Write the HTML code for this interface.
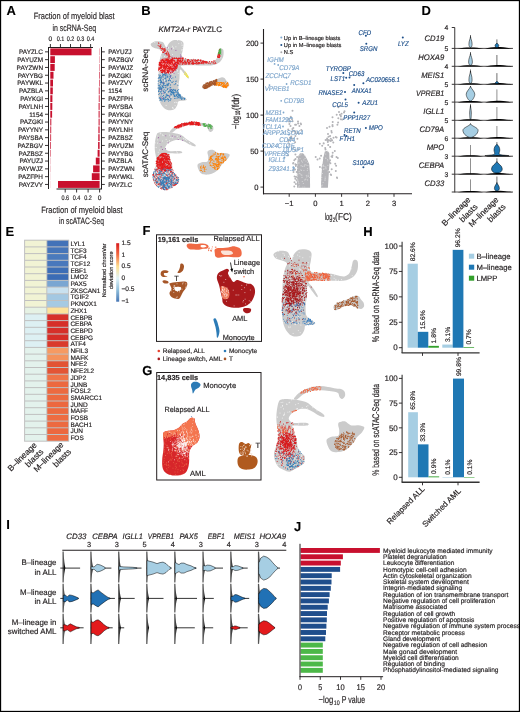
<!DOCTYPE html>
<html><head><meta charset="utf-8"><style>
html,body{margin:0;padding:0;background:#fff;}
body{width:520px;height:712px;overflow:hidden;position:relative;}
svg{position:absolute;left:0;top:0;display:block;will-change:transform;}
text{font-family:"Liberation Sans", sans-serif;text-rendering:geometricPrecision;}
</style></head><body>
<svg width="520" height="712" viewBox="0 0 520 712" font-family='"Liberation Sans", sans-serif' fill="#231f20">
<rect x="0" y="0" width="520" height="712" fill="#fff"/>
<text x="6.50" y="14.90" font-size="13" stroke="#000" stroke-width="0.1" fill="#000" font-weight="bold">A</text>
<text x="74.20" y="19.40" font-size="9.2" text-anchor="middle" textLength="81.00" lengthAdjust="spacingAndGlyphs" stroke="#231f20" stroke-width="0.15">Fraction of myeloid blast</text>
<text x="74.30" y="31.00" font-size="9.2" text-anchor="middle" textLength="43.70" lengthAdjust="spacingAndGlyphs" stroke="#231f20" stroke-width="0.15">in scRNA-Seq</text>
<text x="50.40" y="41.40" font-size="6.6" stroke="#231f20" stroke-width="0.17" text-anchor="middle">0</text>
<line x1="50.40" y1="44.00" x2="50.40" y2="47.50" stroke="#231f20" stroke-width="0.9"/>
<text x="60.45" y="41.40" font-size="6.6" stroke="#231f20" stroke-width="0.17" text-anchor="middle" textLength="7.60" lengthAdjust="spacingAndGlyphs">0.1</text>
<line x1="60.45" y1="44.00" x2="60.45" y2="47.50" stroke="#231f20" stroke-width="0.9"/>
<text x="70.50" y="41.40" font-size="6.6" stroke="#231f20" stroke-width="0.17" text-anchor="middle" textLength="7.60" lengthAdjust="spacingAndGlyphs">0.2</text>
<line x1="70.50" y1="44.00" x2="70.50" y2="47.50" stroke="#231f20" stroke-width="0.9"/>
<text x="80.55" y="41.40" font-size="6.6" stroke="#231f20" stroke-width="0.17" text-anchor="middle" textLength="7.60" lengthAdjust="spacingAndGlyphs">0.3</text>
<line x1="80.55" y1="44.00" x2="80.55" y2="47.50" stroke="#231f20" stroke-width="0.9"/>
<text x="90.60" y="41.40" font-size="6.6" stroke="#231f20" stroke-width="0.17" text-anchor="middle" textLength="7.60" lengthAdjust="spacingAndGlyphs">0.4</text>
<line x1="90.60" y1="44.00" x2="90.60" y2="47.50" stroke="#231f20" stroke-width="0.9"/>
<line x1="48.50" y1="47.50" x2="93.00" y2="47.50" stroke="#231f20" stroke-width="1"/>
<line x1="48.50" y1="47.00" x2="48.50" y2="189.00" stroke="#231f20" stroke-width="1"/>
<text x="43.00" y="54.10" font-size="6.4" stroke="#231f20" stroke-width="0.17" text-anchor="end">PAYZLC</text>
<line x1="45.00" y1="51.85" x2="48.50" y2="51.85" stroke="#231f20" stroke-width="0.9"/>
<rect x="50.30" y="48.40" width="41.20" height="6.90" fill="#c8102e"/>
<text x="43.00" y="61.90" font-size="6.4" stroke="#231f20" stroke-width="0.17" text-anchor="end">PAYUZM</text>
<line x1="45.00" y1="59.65" x2="48.50" y2="59.65" stroke="#231f20" stroke-width="0.9"/>
<rect x="50.30" y="56.20" width="4.60" height="6.90" fill="#c8102e"/>
<text x="43.00" y="69.70" font-size="6.4" stroke="#231f20" stroke-width="0.17" text-anchor="end">PAYZWN</text>
<line x1="45.00" y1="67.45" x2="48.50" y2="67.45" stroke="#231f20" stroke-width="0.9"/>
<rect x="50.30" y="64.00" width="4.40" height="6.90" fill="#c8102e"/>
<text x="43.00" y="77.50" font-size="6.4" stroke="#231f20" stroke-width="0.17" text-anchor="end">PAYYBG</text>
<line x1="45.00" y1="75.25" x2="48.50" y2="75.25" stroke="#231f20" stroke-width="0.9"/>
<rect x="50.30" y="71.80" width="3.20" height="6.90" fill="#c8102e"/>
<text x="43.00" y="85.30" font-size="6.4" stroke="#231f20" stroke-width="0.17" text-anchor="end">PAYWKL</text>
<line x1="45.00" y1="83.05" x2="48.50" y2="83.05" stroke="#231f20" stroke-width="0.9"/>
<rect x="50.30" y="79.60" width="2.70" height="6.90" fill="#c8102e"/>
<text x="43.00" y="93.10" font-size="6.4" stroke="#231f20" stroke-width="0.17" text-anchor="end">PAZBLA</text>
<line x1="45.00" y1="90.85" x2="48.50" y2="90.85" stroke="#231f20" stroke-width="0.9"/>
<rect x="50.30" y="87.40" width="2.50" height="6.90" fill="#c8102e"/>
<text x="43.00" y="100.90" font-size="6.4" stroke="#231f20" stroke-width="0.17" text-anchor="end">PAYKGI</text>
<line x1="45.00" y1="98.65" x2="48.50" y2="98.65" stroke="#231f20" stroke-width="0.9"/>
<rect x="50.30" y="95.20" width="2.10" height="6.90" fill="#c8102e"/>
<text x="43.00" y="108.70" font-size="6.4" stroke="#231f20" stroke-width="0.17" text-anchor="end">PAYLNH</text>
<line x1="45.00" y1="106.45" x2="48.50" y2="106.45" stroke="#231f20" stroke-width="0.9"/>
<rect x="50.30" y="103.00" width="2.00" height="6.90" fill="#c8102e"/>
<text x="43.00" y="116.50" font-size="6.4" stroke="#231f20" stroke-width="0.17" text-anchor="end">1154</text>
<line x1="45.00" y1="114.25" x2="48.50" y2="114.25" stroke="#231f20" stroke-width="0.9"/>
<rect x="50.30" y="110.80" width="1.80" height="6.90" fill="#c8102e"/>
<text x="43.00" y="124.30" font-size="6.4" stroke="#231f20" stroke-width="0.17" text-anchor="end">PAZGKI</text>
<line x1="45.00" y1="122.05" x2="48.50" y2="122.05" stroke="#231f20" stroke-width="0.9"/>
<rect x="50.30" y="118.60" width="1.00" height="6.90" fill="#c8102e"/>
<text x="43.00" y="132.10" font-size="6.4" stroke="#231f20" stroke-width="0.17" text-anchor="end">PAYYNY</text>
<line x1="45.00" y1="129.85" x2="48.50" y2="129.85" stroke="#231f20" stroke-width="0.9"/>
<rect x="50.30" y="126.40" width="0.90" height="6.90" fill="#c8102e"/>
<text x="43.00" y="139.90" font-size="6.4" stroke="#231f20" stroke-width="0.17" text-anchor="end">PAYSBA</text>
<line x1="45.00" y1="137.65" x2="48.50" y2="137.65" stroke="#231f20" stroke-width="0.9"/>
<rect x="50.30" y="134.20" width="0.80" height="6.90" fill="#c8102e"/>
<text x="43.00" y="147.70" font-size="6.4" stroke="#231f20" stroke-width="0.17" text-anchor="end">PAZBGV</text>
<line x1="45.00" y1="145.45" x2="48.50" y2="145.45" stroke="#231f20" stroke-width="0.9"/>
<rect x="50.30" y="142.00" width="0.70" height="6.90" fill="#c8102e"/>
<text x="43.00" y="155.50" font-size="6.4" stroke="#231f20" stroke-width="0.17" text-anchor="end">PAZBSZ</text>
<line x1="45.00" y1="153.25" x2="48.50" y2="153.25" stroke="#231f20" stroke-width="0.9"/>
<rect x="50.30" y="149.80" width="0.50" height="6.90" fill="#c8102e"/>
<text x="43.00" y="163.30" font-size="6.4" stroke="#231f20" stroke-width="0.17" text-anchor="end">PAYUZJ</text>
<line x1="45.00" y1="161.05" x2="48.50" y2="161.05" stroke="#231f20" stroke-width="0.9"/>
<rect x="50.30" y="157.60" width="0.20" height="6.90" fill="#c8102e"/>
<text x="43.00" y="171.10" font-size="6.4" stroke="#231f20" stroke-width="0.17" text-anchor="end">PAYWJZ</text>
<line x1="45.00" y1="168.85" x2="48.50" y2="168.85" stroke="#231f20" stroke-width="0.9"/>
<rect x="50.30" y="165.40" width="0.20" height="6.90" fill="#c8102e"/>
<text x="43.00" y="178.90" font-size="6.4" stroke="#231f20" stroke-width="0.17" text-anchor="end">PAZFPH</text>
<line x1="45.00" y1="176.65" x2="48.50" y2="176.65" stroke="#231f20" stroke-width="0.9"/>
<rect x="50.30" y="173.20" width="0.10" height="6.90" fill="#c8102e"/>
<text x="43.00" y="186.70" font-size="6.4" stroke="#231f20" stroke-width="0.17" text-anchor="end">PAYZVY</text>
<line x1="45.00" y1="184.45" x2="48.50" y2="184.45" stroke="#231f20" stroke-width="0.9"/>
<rect x="50.30" y="181.00" width="0.10" height="6.90" fill="#c8102e"/>
<line x1="101.50" y1="47.00" x2="101.50" y2="189.00" stroke="#231f20" stroke-width="1"/>
<line x1="56.50" y1="189.00" x2="102.00" y2="189.00" stroke="#231f20" stroke-width="1"/>
<line x1="65.20" y1="189.00" x2="65.20" y2="192.50" stroke="#231f20" stroke-width="0.9"/>
<text x="65.20" y="200.40" font-size="6.6" stroke="#231f20" stroke-width="0.17" text-anchor="middle" textLength="7.60" lengthAdjust="spacingAndGlyphs">0.6</text>
<line x1="76.60" y1="189.00" x2="76.60" y2="192.50" stroke="#231f20" stroke-width="0.9"/>
<text x="76.60" y="200.40" font-size="6.6" stroke="#231f20" stroke-width="0.17" text-anchor="middle" textLength="7.60" lengthAdjust="spacingAndGlyphs">0.4</text>
<line x1="88.10" y1="189.00" x2="88.10" y2="192.50" stroke="#231f20" stroke-width="0.9"/>
<text x="88.10" y="200.40" font-size="6.6" stroke="#231f20" stroke-width="0.17" text-anchor="middle" textLength="7.60" lengthAdjust="spacingAndGlyphs">0.2</text>
<line x1="99.60" y1="189.00" x2="99.60" y2="192.50" stroke="#231f20" stroke-width="0.9"/>
<text x="99.60" y="200.40" font-size="6.6" stroke="#231f20" stroke-width="0.17" text-anchor="middle">0</text>
<text x="108.20" y="54.10" font-size="6.4" stroke="#231f20" stroke-width="0.17">PAYUZJ</text>
<line x1="101.50" y1="51.85" x2="104.80" y2="51.85" stroke="#231f20" stroke-width="0.9"/>
<rect x="99.30" y="48.40" width="0.30" height="6.90" fill="#c8102e"/>
<text x="108.20" y="61.90" font-size="6.4" stroke="#231f20" stroke-width="0.17">PAZBGV</text>
<line x1="101.50" y1="59.65" x2="104.80" y2="59.65" stroke="#231f20" stroke-width="0.9"/>
<rect x="99.30" y="56.20" width="0.30" height="6.90" fill="#c8102e"/>
<text x="108.20" y="69.70" font-size="6.4" stroke="#231f20" stroke-width="0.17">PAYWJZ</text>
<line x1="101.50" y1="67.45" x2="104.80" y2="67.45" stroke="#231f20" stroke-width="0.9"/>
<rect x="99.20" y="64.00" width="0.40" height="6.90" fill="#c8102e"/>
<text x="108.20" y="77.50" font-size="6.4" stroke="#231f20" stroke-width="0.17">PAZGKI</text>
<line x1="101.50" y1="75.25" x2="104.80" y2="75.25" stroke="#231f20" stroke-width="0.9"/>
<rect x="99.00" y="71.80" width="0.60" height="6.90" fill="#c8102e"/>
<text x="108.20" y="85.30" font-size="6.4" stroke="#231f20" stroke-width="0.17">PAYZVY</text>
<line x1="101.50" y1="83.05" x2="104.80" y2="83.05" stroke="#231f20" stroke-width="0.9"/>
<rect x="99.00" y="79.60" width="0.60" height="6.90" fill="#c8102e"/>
<text x="108.20" y="93.10" font-size="6.4" stroke="#231f20" stroke-width="0.17">1154</text>
<line x1="101.50" y1="90.85" x2="104.80" y2="90.85" stroke="#231f20" stroke-width="0.9"/>
<rect x="98.80" y="87.40" width="0.80" height="6.90" fill="#c8102e"/>
<text x="108.20" y="100.90" font-size="6.4" stroke="#231f20" stroke-width="0.17">PAZFPH</text>
<line x1="101.50" y1="98.65" x2="104.80" y2="98.65" stroke="#231f20" stroke-width="0.9"/>
<rect x="98.80" y="95.20" width="0.80" height="6.90" fill="#c8102e"/>
<text x="108.20" y="108.70" font-size="6.4" stroke="#231f20" stroke-width="0.17">PAYSBA</text>
<line x1="101.50" y1="106.45" x2="104.80" y2="106.45" stroke="#231f20" stroke-width="0.9"/>
<rect x="98.60" y="103.00" width="1.00" height="6.90" fill="#c8102e"/>
<text x="108.20" y="116.50" font-size="6.4" stroke="#231f20" stroke-width="0.17">PAYKGI</text>
<line x1="101.50" y1="114.25" x2="104.80" y2="114.25" stroke="#231f20" stroke-width="0.9"/>
<rect x="98.60" y="110.80" width="1.00" height="6.90" fill="#c8102e"/>
<text x="108.20" y="124.30" font-size="6.4" stroke="#231f20" stroke-width="0.17">PAYYNY</text>
<line x1="101.50" y1="122.05" x2="104.80" y2="122.05" stroke="#231f20" stroke-width="0.9"/>
<rect x="98.60" y="118.60" width="1.00" height="6.90" fill="#c8102e"/>
<text x="108.20" y="132.10" font-size="6.4" stroke="#231f20" stroke-width="0.17">PAYLNH</text>
<line x1="101.50" y1="129.85" x2="104.80" y2="129.85" stroke="#231f20" stroke-width="0.9"/>
<rect x="98.40" y="126.40" width="1.20" height="6.90" fill="#c8102e"/>
<text x="108.20" y="139.90" font-size="6.4" stroke="#231f20" stroke-width="0.17">PAZBSZ</text>
<line x1="101.50" y1="137.65" x2="104.80" y2="137.65" stroke="#231f20" stroke-width="0.9"/>
<rect x="98.30" y="134.20" width="1.30" height="6.90" fill="#c8102e"/>
<text x="108.20" y="147.70" font-size="6.4" stroke="#231f20" stroke-width="0.17">PAYUZM</text>
<line x1="101.50" y1="145.45" x2="104.80" y2="145.45" stroke="#231f20" stroke-width="0.9"/>
<rect x="98.10" y="142.00" width="1.50" height="6.90" fill="#c8102e"/>
<text x="108.20" y="155.50" font-size="6.4" stroke="#231f20" stroke-width="0.17">PAYYBG</text>
<line x1="101.50" y1="153.25" x2="104.80" y2="153.25" stroke="#231f20" stroke-width="0.9"/>
<rect x="97.60" y="149.80" width="2.00" height="6.90" fill="#c8102e"/>
<text x="108.20" y="163.30" font-size="6.4" stroke="#231f20" stroke-width="0.17">PAZBLA</text>
<line x1="101.50" y1="161.05" x2="104.80" y2="161.05" stroke="#231f20" stroke-width="0.9"/>
<rect x="95.80" y="157.60" width="3.80" height="6.90" fill="#c8102e"/>
<text x="108.20" y="171.10" font-size="6.4" stroke="#231f20" stroke-width="0.17">PAYZWN</text>
<line x1="101.50" y1="168.85" x2="104.80" y2="168.85" stroke="#231f20" stroke-width="0.9"/>
<rect x="93.10" y="165.40" width="6.50" height="6.90" fill="#c8102e"/>
<text x="108.20" y="178.90" font-size="6.4" stroke="#231f20" stroke-width="0.17">PAYWKL</text>
<line x1="101.50" y1="176.65" x2="104.80" y2="176.65" stroke="#231f20" stroke-width="0.9"/>
<rect x="91.80" y="173.20" width="7.80" height="6.90" fill="#c8102e"/>
<text x="108.20" y="186.70" font-size="6.4" stroke="#231f20" stroke-width="0.17">PAYZLC</text>
<line x1="101.50" y1="184.45" x2="104.80" y2="184.45" stroke="#231f20" stroke-width="0.9"/>
<rect x="58.00" y="181.00" width="41.60" height="6.90" fill="#c8102e"/>
<text x="81.90" y="213.00" font-size="9.2" text-anchor="middle" textLength="81.40" lengthAdjust="spacingAndGlyphs" stroke="#231f20" stroke-width="0.15">Fraction of myeloid blast</text>
<text x="81.50" y="224.20" font-size="9.2" text-anchor="middle" textLength="45.00" lengthAdjust="spacingAndGlyphs" stroke="#231f20" stroke-width="0.15">in scATAC-Seq</text>
<text x="5.50" y="236.40" font-size="13" stroke="#000" stroke-width="0.1" fill="#000" font-weight="bold">E</text>
<rect x="24.10" y="239.70" width="45.10" height="202.00" fill="#c0c0c0"/>
<rect x="25.10" y="240.70" width="21.20" height="5.70" fill="#f1f3d4"/>
<rect x="47.30" y="240.70" width="20.90" height="5.70" fill="#4272b8"/>
<text x="70.40" y="245.85" font-size="6.5" stroke="#231f20" stroke-width="0.17">LYL1</text>
<rect x="25.10" y="247.40" width="21.20" height="5.70" fill="#f1f3d4"/>
<rect x="47.30" y="247.40" width="20.90" height="5.70" fill="#4575b9"/>
<text x="70.40" y="252.55" font-size="6.5" stroke="#231f20" stroke-width="0.17">TCF3</text>
<rect x="25.10" y="254.10" width="21.20" height="5.70" fill="#f1f3d4"/>
<rect x="47.30" y="254.10" width="20.90" height="5.70" fill="#4a7abc"/>
<text x="70.40" y="259.25" font-size="6.5" stroke="#231f20" stroke-width="0.17">TCF4</text>
<rect x="25.10" y="260.80" width="21.20" height="5.70" fill="#f1f3d4"/>
<rect x="47.30" y="260.80" width="20.90" height="5.70" fill="#4978bc"/>
<text x="70.40" y="265.95" font-size="6.5" stroke="#231f20" stroke-width="0.17">TCF12</text>
<rect x="25.10" y="267.50" width="21.20" height="5.70" fill="#f1f3d4"/>
<rect x="47.30" y="267.50" width="20.90" height="5.70" fill="#3d6eb6"/>
<text x="70.40" y="272.65" font-size="6.5" stroke="#231f20" stroke-width="0.17">EBF1</text>
<rect x="25.10" y="274.20" width="21.20" height="5.70" fill="#f1f3d4"/>
<rect x="47.30" y="274.20" width="20.90" height="5.70" fill="#3b6cb5"/>
<text x="70.40" y="279.35" font-size="6.5" stroke="#231f20" stroke-width="0.17">LMO2</text>
<rect x="25.10" y="280.90" width="21.20" height="5.70" fill="#f1f3d4"/>
<rect x="47.30" y="280.90" width="20.90" height="5.70" fill="#7aa6d2"/>
<text x="70.40" y="286.05" font-size="6.5" stroke="#231f20" stroke-width="0.17">PAX5</text>
<rect x="25.10" y="287.60" width="21.20" height="5.70" fill="#f1f3d4"/>
<rect x="47.30" y="287.60" width="20.90" height="5.70" fill="#c9e1ef"/>
<text x="70.40" y="292.75" font-size="6.5" stroke="#231f20" stroke-width="0.17">ZKSCAN1</text>
<rect x="25.10" y="294.30" width="21.20" height="5.70" fill="#f1f3d4"/>
<rect x="47.30" y="294.30" width="20.90" height="5.70" fill="#a3c8e2"/>
<text x="70.40" y="299.45" font-size="6.5" stroke="#231f20" stroke-width="0.17">TGIF2</text>
<rect x="25.10" y="301.00" width="21.20" height="5.70" fill="#f1f3d4"/>
<rect x="47.30" y="301.00" width="20.90" height="5.70" fill="#a6cae3"/>
<text x="70.40" y="306.15" font-size="6.5" stroke="#231f20" stroke-width="0.17">PKNOX1</text>
<rect x="25.10" y="307.70" width="21.20" height="5.70" fill="#e6f2e4"/>
<rect x="47.30" y="307.70" width="20.90" height="5.70" fill="#fde29a"/>
<text x="70.40" y="312.85" font-size="6.5" stroke="#231f20" stroke-width="0.17">ZHX1</text>
<rect x="25.10" y="314.40" width="21.20" height="5.70" fill="#ddf0f3"/>
<rect x="47.30" y="314.40" width="20.90" height="5.70" fill="#d7302a"/>
<text x="70.40" y="319.55" font-size="6.5" stroke="#231f20" stroke-width="0.17">CEBPB</text>
<rect x="25.10" y="321.10" width="21.20" height="5.70" fill="#ddf0f3"/>
<rect x="47.30" y="321.10" width="20.90" height="5.70" fill="#d62f29"/>
<text x="70.40" y="326.25" font-size="6.5" stroke="#231f20" stroke-width="0.17">CEBPA</text>
<rect x="25.10" y="327.80" width="21.20" height="5.70" fill="#ddf0f3"/>
<rect x="47.30" y="327.80" width="20.90" height="5.70" fill="#d6302a"/>
<text x="70.40" y="332.95" font-size="6.5" stroke="#231f20" stroke-width="0.17">CEBPD</text>
<rect x="25.10" y="334.50" width="21.20" height="5.70" fill="#ddf0f3"/>
<rect x="47.30" y="334.50" width="20.90" height="5.70" fill="#d62e28"/>
<text x="70.40" y="339.65" font-size="6.5" stroke="#231f20" stroke-width="0.17">CEBPG</text>
<rect x="25.10" y="341.20" width="21.20" height="5.70" fill="#ddf0f3"/>
<rect x="47.30" y="341.20" width="20.90" height="5.70" fill="#d93a2c"/>
<text x="70.40" y="346.35" font-size="6.5" stroke="#231f20" stroke-width="0.17">ATF4</text>
<rect x="25.10" y="347.90" width="21.20" height="5.70" fill="#e3f2ec"/>
<rect x="47.30" y="347.90" width="20.90" height="5.70" fill="#f69a62"/>
<text x="70.40" y="353.05" font-size="6.5" stroke="#231f20" stroke-width="0.17">NFIL3</text>
<rect x="25.10" y="354.60" width="21.20" height="5.70" fill="#e3f2ec"/>
<rect x="47.30" y="354.60" width="20.90" height="5.70" fill="#f4925c"/>
<text x="70.40" y="359.75" font-size="6.5" stroke="#231f20" stroke-width="0.17">MAFK</text>
<rect x="25.10" y="361.30" width="21.20" height="5.70" fill="#e3f2ec"/>
<rect x="47.30" y="361.30" width="20.90" height="5.70" fill="#e25334"/>
<text x="70.40" y="366.45" font-size="6.5" stroke="#231f20" stroke-width="0.17">NFE2</text>
<rect x="25.10" y="368.00" width="21.20" height="5.70" fill="#e3f2ec"/>
<rect x="47.30" y="368.00" width="20.90" height="5.70" fill="#e35535"/>
<text x="70.40" y="373.15" font-size="6.5" stroke="#231f20" stroke-width="0.17">NFE2L2</text>
<rect x="25.10" y="374.70" width="21.20" height="5.70" fill="#e3f2ec"/>
<rect x="47.30" y="374.70" width="20.90" height="5.70" fill="#ef7448"/>
<text x="70.40" y="379.85" font-size="6.5" stroke="#231f20" stroke-width="0.17">JDP2</text>
<rect x="25.10" y="381.40" width="21.20" height="5.70" fill="#e3f2ec"/>
<rect x="47.30" y="381.40" width="20.90" height="5.70" fill="#ec683f"/>
<text x="70.40" y="386.55" font-size="6.5" stroke="#231f20" stroke-width="0.17">JUNB</text>
<rect x="25.10" y="388.10" width="21.20" height="5.70" fill="#e3f2ec"/>
<rect x="47.30" y="388.10" width="20.90" height="5.70" fill="#ec6a40"/>
<text x="70.40" y="393.25" font-size="6.5" stroke="#231f20" stroke-width="0.17">FOSL2</text>
<rect x="25.10" y="394.80" width="21.20" height="5.70" fill="#e3f2ec"/>
<rect x="47.30" y="394.80" width="20.90" height="5.70" fill="#ec6a40"/>
<text x="70.40" y="399.95" font-size="6.5" stroke="#231f20" stroke-width="0.17">SMARCC1</text>
<rect x="25.10" y="401.50" width="21.20" height="5.70" fill="#e3f2ec"/>
<rect x="47.30" y="401.50" width="20.90" height="5.70" fill="#ec683f"/>
<text x="70.40" y="406.65" font-size="6.5" stroke="#231f20" stroke-width="0.17">JUND</text>
<rect x="25.10" y="408.20" width="21.20" height="5.70" fill="#e3f2ec"/>
<rect x="47.30" y="408.20" width="20.90" height="5.70" fill="#ec6a40"/>
<text x="70.40" y="413.35" font-size="6.5" stroke="#231f20" stroke-width="0.17">MAFF</text>
<rect x="25.10" y="414.90" width="21.20" height="5.70" fill="#e3f2ec"/>
<rect x="47.30" y="414.90" width="20.90" height="5.70" fill="#ed6c42"/>
<text x="70.40" y="420.05" font-size="6.5" stroke="#231f20" stroke-width="0.17">FOSB</text>
<rect x="25.10" y="421.60" width="21.20" height="5.70" fill="#e3f2ec"/>
<rect x="47.30" y="421.60" width="20.90" height="5.70" fill="#ec6a40"/>
<text x="70.40" y="426.75" font-size="6.5" stroke="#231f20" stroke-width="0.17">BACH1</text>
<rect x="25.10" y="428.30" width="21.20" height="5.70" fill="#e3f2ec"/>
<rect x="47.30" y="428.30" width="20.90" height="5.70" fill="#ec683f"/>
<text x="70.40" y="433.45" font-size="6.5" stroke="#231f20" stroke-width="0.17">JUN</text>
<rect x="25.10" y="435.00" width="21.20" height="5.70" fill="#e3f2ec"/>
<rect x="47.30" y="435.00" width="20.90" height="5.70" fill="#ed6c42"/>
<text x="70.40" y="440.15" font-size="6.5" stroke="#231f20" stroke-width="0.17">FOS</text>
<defs><linearGradient id="cb" x1="0" y1="0" x2="0" y2="1"><stop offset="0" stop-color="#d7191c"/><stop offset="0.2" stop-color="#f46d43"/><stop offset="0.4" stop-color="#fee090"/><stop offset="0.6" stop-color="#e0f3f8"/><stop offset="0.8" stop-color="#91bfdb"/><stop offset="1" stop-color="#4575b4"/></linearGradient></defs>
<rect x="116.20" y="243.20" width="3.00" height="58.50" fill="url(#cb)"/>
<text x="121.40" y="244.90" font-size="6.6" stroke="#231f20" stroke-width="0.17">1.5</text>
<text x="121.40" y="256.70" font-size="6.6" stroke="#231f20" stroke-width="0.17">1</text>
<text x="121.40" y="268.20" font-size="6.6" stroke="#231f20" stroke-width="0.17">0.5</text>
<text x="121.40" y="279.70" font-size="6.6" stroke="#231f20" stroke-width="0.17">0</text>
<text x="121.40" y="291.20" font-size="6.6" stroke="#231f20" stroke-width="0.17">−0.5</text>
<text x="121.40" y="302.70" font-size="6.6" stroke="#231f20" stroke-width="0.17">−1</text>
<text x="106.30" y="270.30" font-size="5.6" stroke="#231f20" stroke-width="0.17" text-anchor="middle" transform="rotate(-90 106.30 270.30)">Normalized chromVar</text>
<text x="113.00" y="270.30" font-size="5.6" stroke="#231f20" stroke-width="0.17" text-anchor="middle" transform="rotate(-90 113.00 270.30)">deviation score</text>
<text x="37.20" y="445.60" font-size="8.3" stroke="#231f20" stroke-width="0.17" text-anchor="end" transform="rotate(-45 37.20 445.60)">B–lineage</text>
<text x="43.90" y="452.30" font-size="8.3" stroke="#231f20" stroke-width="0.17" text-anchor="end" transform="rotate(-45 43.90 452.30)">blasts</text>
<text x="64.00" y="445.30" font-size="8.3" stroke="#231f20" stroke-width="0.17" text-anchor="end" transform="rotate(-45 64.00 445.30)">M–lineage</text>
<text x="71.60" y="452.30" font-size="8.3" stroke="#231f20" stroke-width="0.17" text-anchor="end" transform="rotate(-45 71.60 452.30)">blasts</text>
<text x="421.50" y="15.00" font-size="13" stroke="#000" stroke-width="0.1" fill="#000" font-weight="bold">D</text>
<line x1="454.75" y1="27.50" x2="454.75" y2="192.50" stroke="#231f20" stroke-width="0.9"/>
<line x1="451.75" y1="27.50" x2="454.75" y2="27.50" stroke="#231f20" stroke-width="0.9"/>
<text x="448.30" y="29.90" font-size="6.8" stroke="#231f20" stroke-width="0.17" text-anchor="end">4</text>
<text x="444.20" y="40.85" font-size="8" stroke="#231f20" stroke-width="0.17" text-anchor="end" textLength="19.63" lengthAdjust="spacingAndGlyphs" font-style="italic">CD19</text>
<line x1="451.75" y1="48.40" x2="454.75" y2="48.40" stroke="#231f20" stroke-width="0.9"/>
<text x="448.30" y="50.80" font-size="6.8" stroke="#231f20" stroke-width="0.17" text-anchor="end">5</text>
<text x="444.20" y="60.25" font-size="8" stroke="#231f20" stroke-width="0.17" text-anchor="end" textLength="26.04" lengthAdjust="spacingAndGlyphs" font-style="italic">HOXA9</text>
<line x1="451.75" y1="66.30" x2="454.75" y2="66.30" stroke="#231f20" stroke-width="0.9"/>
<text x="448.30" y="68.70" font-size="6.8" stroke="#231f20" stroke-width="0.17" text-anchor="end">4</text>
<text x="444.20" y="78.20" font-size="8" stroke="#231f20" stroke-width="0.17" text-anchor="end" textLength="23.05" lengthAdjust="spacingAndGlyphs" font-style="italic">MEIS1</text>
<line x1="451.75" y1="84.30" x2="454.75" y2="84.30" stroke="#231f20" stroke-width="0.9"/>
<text x="448.30" y="86.70" font-size="6.8" stroke="#231f20" stroke-width="0.17" text-anchor="end">5</text>
<text x="444.20" y="96.10" font-size="8" stroke="#231f20" stroke-width="0.17" text-anchor="end" textLength="28.10" lengthAdjust="spacingAndGlyphs" font-style="italic">VPREB1</text>
<line x1="451.75" y1="102.10" x2="454.75" y2="102.10" stroke="#231f20" stroke-width="0.9"/>
<text x="448.30" y="104.50" font-size="6.8" stroke="#231f20" stroke-width="0.17" text-anchor="end">5</text>
<text x="444.20" y="114.10" font-size="8" stroke="#231f20" stroke-width="0.17" text-anchor="end" textLength="20.92" lengthAdjust="spacingAndGlyphs" font-style="italic">IGLL1</text>
<line x1="451.75" y1="120.30" x2="454.75" y2="120.30" stroke="#231f20" stroke-width="0.9"/>
<text x="448.30" y="122.70" font-size="6.8" stroke="#231f20" stroke-width="0.17" text-anchor="end">5</text>
<text x="444.20" y="132.15" font-size="8" stroke="#231f20" stroke-width="0.17" text-anchor="end" textLength="24.76" lengthAdjust="spacingAndGlyphs" font-style="italic">CD79A</text>
<line x1="451.75" y1="138.20" x2="454.75" y2="138.20" stroke="#231f20" stroke-width="0.9"/>
<text x="448.30" y="140.60" font-size="6.8" stroke="#231f20" stroke-width="0.17" text-anchor="end">6</text>
<text x="444.20" y="150.10" font-size="8" stroke="#231f20" stroke-width="0.17" text-anchor="end" textLength="17.49" lengthAdjust="spacingAndGlyphs" font-style="italic">MPO</text>
<line x1="451.75" y1="156.20" x2="454.75" y2="156.20" stroke="#231f20" stroke-width="0.9"/>
<text x="448.30" y="158.60" font-size="6.8" stroke="#231f20" stroke-width="0.17" text-anchor="end">3</text>
<text x="444.20" y="168.10" font-size="8" stroke="#231f20" stroke-width="0.17" text-anchor="end" textLength="25.47" lengthAdjust="spacingAndGlyphs" font-style="italic">CEBPA</text>
<line x1="451.75" y1="174.20" x2="454.75" y2="174.20" stroke="#231f20" stroke-width="0.9"/>
<text x="448.30" y="176.60" font-size="6.8" stroke="#231f20" stroke-width="0.17" text-anchor="end">3</text>
<text x="444.20" y="186.00" font-size="8" stroke="#231f20" stroke-width="0.17" text-anchor="end" textLength="19.63" lengthAdjust="spacingAndGlyphs" font-style="italic">CD33</text>
<line x1="451.75" y1="192.00" x2="454.75" y2="192.00" stroke="#231f20" stroke-width="0.9"/>
<line x1="496.90" y1="39.40" x2="496.90" y2="48.40" stroke="#222" stroke-width="0.65"/>
<line x1="496.90" y1="55.00" x2="496.90" y2="66.30" stroke="#222" stroke-width="0.65"/>
<line x1="496.90" y1="73.10" x2="496.90" y2="84.30" stroke="#222" stroke-width="0.65"/>
<line x1="496.90" y1="89.40" x2="496.90" y2="102.10" stroke="#555" stroke-width="0.65"/>
<line x1="496.90" y1="107.00" x2="496.90" y2="120.30" stroke="#555" stroke-width="0.65"/>
<line x1="496.90" y1="126.00" x2="496.90" y2="138.20" stroke="#555" stroke-width="0.65"/>
<line x1="470.50" y1="145.00" x2="470.50" y2="156.20" stroke="#555" stroke-width="0.65"/>
<line x1="470.50" y1="158.30" x2="470.50" y2="174.20" stroke="#555" stroke-width="0.65"/>
<line x1="470.50" y1="179.40" x2="470.50" y2="192.00" stroke="#555" stroke-width="0.65"/>
<line x1="470.50" y1="35.00" x2="470.50" y2="48.40" stroke="#222" stroke-width="0.65"/>
<line x1="470.50" y1="52.00" x2="470.50" y2="66.30" stroke="#222" stroke-width="0.65"/>
<line x1="470.50" y1="69.50" x2="470.50" y2="84.30" stroke="#222" stroke-width="0.65"/>
<line x1="496.90" y1="176.50" x2="496.90" y2="192.00" stroke="#222" stroke-width="0.65"/>
<line x1="496.90" y1="158.30" x2="496.90" y2="174.20" stroke="#222" stroke-width="0.65"/>
<line x1="496.90" y1="142.10" x2="496.90" y2="156.20" stroke="#222" stroke-width="0.65"/>
<line x1="470.50" y1="104.20" x2="470.50" y2="120.30" stroke="#222" stroke-width="0.65"/>
<line x1="470.50" y1="86.00" x2="470.50" y2="102.10" stroke="#222" stroke-width="0.65"/>
<line x1="470.50" y1="123.20" x2="470.50" y2="138.20" stroke="#222" stroke-width="0.65"/>
<line x1="455.00" y1="48.40" x2="513.00" y2="48.40" stroke="#231f20" stroke-width="0.8"/>
<path d="M457.5,48.699999999999996 C461.5,47.9 465.5,47.4 470.5,47.4 C475.5,47.4 479.2,47.9 483.2,48.699999999999996 Z" fill="#000"/>
<path d="M485,48.699999999999996 C489,47.9 491.9,47.1 496.9,47.1 C501.9,47.1 508.79999999999995,47.9 512.8,48.699999999999996 Z" fill="#000"/>
<line x1="455.00" y1="66.30" x2="513.00" y2="66.30" stroke="#231f20" stroke-width="0.8"/>
<path d="M457.5,66.6 C461.5,65.8 465.5,65.3 470.5,65.3 C475.5,65.3 479.2,65.8 483.2,66.6 Z" fill="#000"/>
<path d="M485,66.6 C489,65.8 491.9,65.0 496.9,65.0 C501.9,65.0 508.79999999999995,65.8 512.8,66.6 Z" fill="#000"/>
<line x1="455.00" y1="84.30" x2="513.00" y2="84.30" stroke="#231f20" stroke-width="0.8"/>
<path d="M457.5,84.6 C461.5,83.8 465.5,83.3 470.5,83.3 C475.5,83.3 479.2,83.8 483.2,84.6 Z" fill="#000"/>
<path d="M485,84.6 C489,83.8 491.9,83.0 496.9,83.0 C501.9,83.0 508.79999999999995,83.8 512.8,84.6 Z" fill="#000"/>
<line x1="455.00" y1="102.10" x2="513.00" y2="102.10" stroke="#231f20" stroke-width="0.8"/>
<path d="M457.5,102.39999999999999 C461.5,101.6 465.5,101.1 470.5,101.1 C475.5,101.1 479.2,101.6 483.2,102.39999999999999 Z" fill="#000"/>
<path d="M485,102.39999999999999 C489,101.6 491.9,100.8 496.9,100.8 C501.9,100.8 508.79999999999995,101.6 512.8,102.39999999999999 Z" fill="#000"/>
<line x1="455.00" y1="120.30" x2="513.00" y2="120.30" stroke="#231f20" stroke-width="0.8"/>
<path d="M457.5,120.6 C461.5,119.8 465.5,119.3 470.5,119.3 C475.5,119.3 479.2,119.8 483.2,120.6 Z" fill="#000"/>
<path d="M485,120.6 C489,119.8 491.9,119.0 496.9,119.0 C501.9,119.0 508.79999999999995,119.8 512.8,120.6 Z" fill="#000"/>
<line x1="455.00" y1="138.20" x2="513.00" y2="138.20" stroke="#231f20" stroke-width="0.8"/>
<path d="M457.5,138.5 C461.5,137.7 465.5,137.2 470.5,137.2 C475.5,137.2 479.2,137.7 483.2,138.5 Z" fill="#000"/>
<path d="M485,138.5 C489,137.7 491.9,136.89999999999998 496.9,136.89999999999998 C501.9,136.89999999999998 508.79999999999995,137.7 512.8,138.5 Z" fill="#000"/>
<line x1="455.00" y1="156.20" x2="513.00" y2="156.20" stroke="#231f20" stroke-width="0.8"/>
<path d="M457.5,156.5 C461.5,155.7 465.5,155.2 470.5,155.2 C475.5,155.2 479.2,155.7 483.2,156.5 Z" fill="#000"/>
<path d="M485,156.5 C489,155.7 491.9,154.89999999999998 496.9,154.89999999999998 C501.9,154.89999999999998 508.79999999999995,155.7 512.8,156.5 Z" fill="#000"/>
<line x1="455.00" y1="174.20" x2="513.00" y2="174.20" stroke="#231f20" stroke-width="0.8"/>
<path d="M457.5,174.5 C461.5,173.7 465.5,173.2 470.5,173.2 C475.5,173.2 479.2,173.7 483.2,174.5 Z" fill="#000"/>
<path d="M485,174.5 C489,173.7 491.9,172.89999999999998 496.9,172.89999999999998 C501.9,172.89999999999998 508.79999999999995,173.7 512.8,174.5 Z" fill="#000"/>
<line x1="455.00" y1="192.00" x2="513.00" y2="192.00" stroke="#231f20" stroke-width="0.8"/>
<path d="M457.5,192.3 C461.5,191.5 465.5,191.0 470.5,191.0 C475.5,191.0 479.2,191.5 483.2,192.3 Z" fill="#000"/>
<path d="M485,192.3 C489,191.5 491.9,190.7 496.9,190.7 C501.9,190.7 508.79999999999995,191.5 512.8,192.3 Z" fill="#000"/>
<path d="M470.50,36.50 C470.69,38.84 472.10,40.79 472.10,44.30 C472.10,46.00 471.27,47.40 471.00,47.40 L470.00,47.40 C469.73,47.40 468.90,46.00 468.90,44.30 C468.90,40.79 470.31,38.84 470.50,36.50Z" fill="#a6cee3" stroke="#000" stroke-width="0.5"/>
<path d="M470.50,53.50 C470.73,56.05 472.40,58.17 472.40,62.00 C472.40,63.81 471.35,65.30 471.00,65.30 L470.00,65.30 C469.65,65.30 468.60,63.81 468.60,62.00 C468.60,58.17 470.27,56.05 470.50,53.50Z" fill="#a6cee3" stroke="#000" stroke-width="0.5"/>
<path d="M470.50,71.00 C470.69,73.70 472.10,75.95 472.10,80.00 C472.10,81.81 471.27,83.30 471.00,83.30 L470.00,83.30 C469.73,83.30 468.90,81.81 468.90,80.00 C468.90,75.95 470.31,73.70 470.50,71.00Z" fill="#a6cee3" stroke="#000" stroke-width="0.5"/>
<path d="M470.50,86.30 C471.02,88.67 474.80,91.44 474.80,94.20 C474.80,97.26 471.88,101.00 470.90,101.00 L470.10,101.00 C469.12,101.00 466.20,97.26 466.20,94.20 C466.20,91.44 469.98,88.67 470.50,86.30Z" fill="#a6cee3" stroke="#000" stroke-width="0.5"/>
<path d="M470.50,105.50 C470.60,107.75 471.35,109.62 471.35,113.00 C471.35,116.47 471.01,119.30 470.90,119.30 L470.10,119.30 C469.99,119.30 469.65,116.47 469.65,113.00 C469.65,109.62 470.40,107.75 470.50,105.50Z" fill="#a6cee3" stroke="#000" stroke-width="0.5"/>
<path d="M470.50,124.00 C471.41,125.86 478.10,127.72 478.10,130.20 C478.10,134.52 472.77,137.40 471.00,137.40 L470.00,137.40 C468.23,137.40 462.90,134.52 462.90,130.20 C462.90,127.72 469.59,125.86 470.50,124.00Z" fill="#a6cee3" stroke="#000" stroke-width="0.5"/>
<path d="M496.90,43.00 C497.13,43.72 498.80,44.32 498.80,45.40 C498.80,46.55 497.67,47.50 497.30,47.50 L496.50,47.50 C496.12,47.50 495.00,46.55 495.00,45.40 C495.00,44.32 496.67,43.72 496.90,43.00Z" fill="#1f78b4" stroke="#000" stroke-width="0.5"/>
<path d="M496.90,81.30 C497.09,81.78 498.50,82.18 498.50,82.90 C498.50,83.28 497.52,83.60 497.20,83.60 L496.60,83.60 C496.27,83.60 495.30,83.28 495.30,82.90 C495.30,82.18 496.71,81.78 496.90,81.30Z" fill="#1f78b4" stroke="#000" stroke-width="0.5"/>
<path d="M496.90,161.50 C497.55,163.75 502.30,165.25 502.30,169.00 C502.30,171.34 499.75,172.90 498.90,172.90 L494.90,172.90 C494.05,172.90 491.50,171.34 491.50,169.00 C491.50,165.25 496.25,163.75 496.90,161.50Z" fill="#1f78b4" stroke="#000" stroke-width="0.5"/>
<path d="M496.90,182.50 C497.20,184.27 499.40,185.75 499.40,188.40 C499.40,189.72 497.98,190.80 497.50,190.80 L496.30,190.80 C495.82,190.80 494.40,189.72 494.40,188.40 C494.40,185.75 496.60,184.27 496.90,182.50Z" fill="#1f78b4" stroke="#000" stroke-width="0.5"/>
<path d="M496.9,144.3 C498.5,145.5 499.79999999999995,147.5 499.79999999999995,150 C499.79999999999995,152 498.79999999999995,152.8 499.09999999999997,154 C499.5,154.8 503.9,155.2 508.9,155.6 L484.9,155.6 C489.9,155.2 494.29999999999995,154.8 494.7,154 C495.0,152.8 494.0,152 494.0,150 C494.0,147.5 495.29999999999995,145.5 496.9,144.3Z" fill="#1f78b4" stroke="#000" stroke-width="0.5"/>
<text x="471.00" y="200.30" font-size="8.3" stroke="#231f20" stroke-width="0.17" text-anchor="end" transform="rotate(-45 471.00 200.30)">B–lineage</text>
<text x="478.10" y="207.40" font-size="8.3" stroke="#231f20" stroke-width="0.17" text-anchor="end" transform="rotate(-45 478.10 207.40)">blasts</text>
<text x="499.00" y="200.30" font-size="8.3" stroke="#231f20" stroke-width="0.17" text-anchor="end" transform="rotate(-45 499.00 200.30)">M–lineage</text>
<text x="506.10" y="207.40" font-size="8.3" stroke="#231f20" stroke-width="0.17" text-anchor="end" transform="rotate(-45 506.10 207.40)">blasts</text>
<text x="363.30" y="235.60" font-size="13" stroke="#000" stroke-width="0.1" fill="#000" font-weight="bold">H</text>
<line x1="402.10" y1="241.70" x2="402.10" y2="352.90" stroke="#333" stroke-width="1.1"/>
<line x1="401.60" y1="352.90" x2="479.60" y2="352.90" stroke="#333" stroke-width="1.4"/>
<line x1="398.90" y1="347.70" x2="402.10" y2="347.70" stroke="#231f20" stroke-width="0.9"/>
<text x="397.80" y="350.40" font-size="8" stroke="#231f20" stroke-width="0.17" text-anchor="end">0</text>
<line x1="398.90" y1="322.27" x2="402.10" y2="322.27" stroke="#231f20" stroke-width="0.9"/>
<text x="397.80" y="324.97" font-size="8" stroke="#231f20" stroke-width="0.17" text-anchor="end">25</text>
<line x1="398.90" y1="296.85" x2="402.10" y2="296.85" stroke="#231f20" stroke-width="0.9"/>
<text x="397.80" y="299.55" font-size="8" stroke="#231f20" stroke-width="0.17" text-anchor="end">50</text>
<line x1="398.90" y1="271.43" x2="402.10" y2="271.43" stroke="#231f20" stroke-width="0.9"/>
<text x="397.80" y="274.12" font-size="8" stroke="#231f20" stroke-width="0.17" text-anchor="end">75</text>
<line x1="398.90" y1="246.00" x2="402.10" y2="246.00" stroke="#231f20" stroke-width="0.9"/>
<text x="397.80" y="248.70" font-size="8" stroke="#231f20" stroke-width="0.17" text-anchor="end">100</text>
<rect x="407.60" y="263.70" width="10.20" height="84.00" fill="#a6cee3"/>
<text x="415.00" y="261.20" font-size="6.7" stroke="#231f20" stroke-width="0.17" transform="rotate(-90 415.00 261.20)">82.6%</text>
<rect x="417.80" y="331.83" width="10.50" height="15.87" fill="#1f78b4"/>
<text x="425.35" y="329.33" font-size="6.7" stroke="#231f20" stroke-width="0.17" transform="rotate(-90 425.35 329.33)">15.6%</text>
<rect x="428.30" y="345.87" width="10.60" height="1.83" fill="#33a02c"/>
<text x="435.90" y="343.37" font-size="6.7" stroke="#231f20" stroke-width="0.17" transform="rotate(-90 435.90 343.37)">1.8%</text>
<rect x="442.30" y="344.55" width="10.40" height="3.15" fill="#a6cee3"/>
<text x="449.80" y="342.05" font-size="6.7" stroke="#231f20" stroke-width="0.17" transform="rotate(-90 449.80 342.05)">3.1%</text>
<rect x="452.70" y="249.86" width="10.70" height="97.84" fill="#1f78b4"/>
<text x="460.35" y="247.36" font-size="6.7" stroke="#231f20" stroke-width="0.17" transform="rotate(-90 460.35 247.36)">96.2%</text>
<rect x="463.40" y="346.99" width="10.70" height="0.71" fill="#33a02c"/>
<text x="471.05" y="344.49" font-size="6.7" stroke="#231f20" stroke-width="0.17" transform="rotate(-90 471.05 344.49)">0.7%</text>
<text x="378.80" y="297.00" font-size="9.6" stroke="#231f20" stroke-width="0.17" text-anchor="middle" textLength="90.30" lengthAdjust="spacingAndGlyphs" transform="rotate(-90 378.80 297.00)">% based on scRNA-Seq data</text>
<line x1="422.50" y1="352.90" x2="422.50" y2="355.90" stroke="#231f20" stroke-width="0.9"/>
<line x1="458.00" y1="352.90" x2="458.00" y2="355.90" stroke="#231f20" stroke-width="0.9"/>
<line x1="402.10" y1="374.80" x2="402.10" y2="482.30" stroke="#333" stroke-width="1.1"/>
<line x1="401.60" y1="482.30" x2="479.60" y2="482.30" stroke="#333" stroke-width="1.4"/>
<line x1="398.90" y1="477.30" x2="402.10" y2="477.30" stroke="#231f20" stroke-width="0.9"/>
<text x="397.80" y="480.00" font-size="8" stroke="#231f20" stroke-width="0.17" text-anchor="end">0</text>
<line x1="398.90" y1="452.57" x2="402.10" y2="452.57" stroke="#231f20" stroke-width="0.9"/>
<text x="397.80" y="455.27" font-size="8" stroke="#231f20" stroke-width="0.17" text-anchor="end">25</text>
<line x1="398.90" y1="427.85" x2="402.10" y2="427.85" stroke="#231f20" stroke-width="0.9"/>
<text x="397.80" y="430.55" font-size="8" stroke="#231f20" stroke-width="0.17" text-anchor="end">50</text>
<line x1="398.90" y1="403.12" x2="402.10" y2="403.12" stroke="#231f20" stroke-width="0.9"/>
<text x="397.80" y="405.82" font-size="8" stroke="#231f20" stroke-width="0.17" text-anchor="end">75</text>
<line x1="398.90" y1="378.40" x2="402.10" y2="378.40" stroke="#231f20" stroke-width="0.9"/>
<text x="397.80" y="381.10" font-size="8" stroke="#231f20" stroke-width="0.17" text-anchor="end">100</text>
<rect x="408.20" y="412.22" width="9.70" height="65.08" fill="#a6cee3"/>
<text x="415.35" y="409.72" font-size="6.7" stroke="#231f20" stroke-width="0.17" transform="rotate(-90 415.35 409.72)">65.8%</text>
<rect x="417.90" y="444.37" width="10.60" height="32.93" fill="#1f78b4"/>
<text x="425.50" y="441.87" font-size="6.7" stroke="#231f20" stroke-width="0.17" transform="rotate(-90 425.50 441.87)">33.3%</text>
<rect x="428.50" y="476.41" width="10.70" height="0.89" fill="#33a02c"/>
<text x="436.15" y="473.91" font-size="6.7" stroke="#231f20" stroke-width="0.17" transform="rotate(-90 436.15 473.91)">0.9%</text>
<rect x="442.50" y="477.20" width="10.50" height="0.50" fill="#a6cee3"/>
<text x="450.05" y="474.70" font-size="6.7" stroke="#231f20" stroke-width="0.17" transform="rotate(-90 450.05 474.70)">0.1%</text>
<rect x="453.00" y="378.60" width="11.00" height="98.70" fill="#1f78b4"/>
<text x="460.80" y="376.10" font-size="6.7" stroke="#231f20" stroke-width="0.17" transform="rotate(-90 460.80 376.10)">99.8%</text>
<rect x="464.00" y="477.20" width="10.50" height="0.50" fill="#33a02c"/>
<text x="471.55" y="474.70" font-size="6.7" stroke="#231f20" stroke-width="0.17" transform="rotate(-90 471.55 474.70)">0.1%</text>
<text x="378.80" y="429.90" font-size="9.6" stroke="#231f20" stroke-width="0.17" text-anchor="middle" textLength="91.80" lengthAdjust="spacingAndGlyphs" transform="rotate(-90 378.80 429.90)">% based on scATAC-Seq data</text>
<line x1="422.50" y1="482.30" x2="422.50" y2="485.30" stroke="#231f20" stroke-width="0.9"/>
<line x1="458.00" y1="482.30" x2="458.00" y2="485.30" stroke="#231f20" stroke-width="0.9"/>
<rect x="468.90" y="253.70" width="5.30" height="5.00" fill="#a6cee3"/>
<text x="476.40" y="259.20" font-size="7.7" stroke="#231f20" stroke-width="0.17">B–lineage</text>
<rect x="468.90" y="264.70" width="5.30" height="5.00" fill="#1f78b4"/>
<text x="476.40" y="270.20" font-size="7.7" stroke="#231f20" stroke-width="0.17">M–lineage</text>
<rect x="468.90" y="275.70" width="5.30" height="5.00" fill="#33a02c"/>
<text x="476.40" y="281.20" font-size="7.7" stroke="#231f20" stroke-width="0.17">LMPP</text>
<text x="390.00" y="524.80" font-size="8.0" stroke="#231f20" stroke-width="0.17" transform="rotate(-45 390.00 524.80)">Relapsed ALL</text>
<text x="425.50" y="527.50" font-size="8.0" stroke="#231f20" stroke-width="0.17" transform="rotate(-45 425.50 527.50)">Switched AML</text>
<text x="294.00" y="531.00" font-size="13" stroke="#000" stroke-width="0.1" fill="#000" font-weight="bold">J</text>
<rect x="300.60" y="548.00" width="79.30" height="4.90" fill="#c8102e"/>
<text x="383.00" y="552.60" font-size="6.6" stroke="#231f20" stroke-width="0.17">Myeloid leukocyte mediated immunity</text>
<rect x="300.60" y="554.31" width="42.30" height="4.90" fill="#c8102e"/>
<text x="383.00" y="558.91" font-size="6.6" stroke="#231f20" stroke-width="0.17">Platelet degranulation</text>
<rect x="300.60" y="560.62" width="40.20" height="4.90" fill="#c8102e"/>
<text x="383.00" y="565.22" font-size="6.6" stroke="#231f20" stroke-width="0.17">Leukocyte differentiation</text>
<rect x="300.60" y="566.93" width="39.50" height="4.90" fill="#1f4e8c"/>
<text x="383.00" y="571.53" font-size="6.6" stroke="#231f20" stroke-width="0.17">Homotypic cell-cell adhesion</text>
<rect x="300.60" y="573.24" width="31.10" height="4.90" fill="#1f4e8c"/>
<text x="383.00" y="577.84" font-size="6.6" stroke="#231f20" stroke-width="0.17">Actin cytoskeletal organization</text>
<rect x="300.60" y="579.55" width="30.90" height="4.90" fill="#1f4e8c"/>
<text x="383.00" y="584.15" font-size="6.6" stroke="#231f20" stroke-width="0.17">Skeletal system development</text>
<rect x="300.60" y="585.86" width="30.20" height="4.90" fill="#1f4e8c"/>
<text x="383.00" y="590.46" font-size="6.6" stroke="#231f20" stroke-width="0.17">Integrin-mediated signaling</text>
<rect x="300.60" y="592.17" width="29.00" height="4.90" fill="#1f4e8c"/>
<text x="383.00" y="596.77" font-size="6.6" stroke="#231f20" stroke-width="0.17">Regulation of ion transmembrane transport</text>
<rect x="300.60" y="598.48" width="28.30" height="4.90" fill="#1f4e8c"/>
<text x="383.00" y="603.08" font-size="6.6" stroke="#231f20" stroke-width="0.17">Negative regulation of cell proliferation</text>
<rect x="300.60" y="604.79" width="27.10" height="4.90" fill="#1f4e8c"/>
<text x="383.00" y="609.39" font-size="6.6" stroke="#231f20" stroke-width="0.17">Matrisome associated</text>
<rect x="300.60" y="611.10" width="26.40" height="4.90" fill="#1f4e8c"/>
<text x="383.00" y="615.70" font-size="6.6" stroke="#231f20" stroke-width="0.17">Regulation of cell growth</text>
<rect x="300.60" y="617.41" width="26.20" height="4.90" fill="#1f4e8c"/>
<text x="383.00" y="622.01" font-size="6.6" stroke="#231f20" stroke-width="0.17">Positive regulation of apoptosis</text>
<rect x="300.60" y="623.72" width="25.80" height="4.90" fill="#1f4e8c"/>
<text x="383.00" y="628.32" font-size="6.6" stroke="#231f20" stroke-width="0.17">Negative regulation of immune system process</text>
<rect x="300.60" y="630.03" width="25.40" height="4.90" fill="#1f4e8c"/>
<text x="383.00" y="634.63" font-size="6.6" stroke="#231f20" stroke-width="0.17">Receptor metabolic process</text>
<rect x="300.60" y="636.34" width="24.70" height="4.90" fill="#1f4e8c"/>
<text x="383.00" y="640.94" font-size="6.6" stroke="#231f20" stroke-width="0.17">Gland development</text>
<rect x="300.60" y="642.65" width="22.20" height="4.90" fill="#4cb848"/>
<text x="383.00" y="647.25" font-size="6.6" stroke="#231f20" stroke-width="0.17">Negative regulation of cell adhesion</text>
<rect x="300.60" y="648.96" width="22.20" height="4.90" fill="#4cb848"/>
<text x="383.00" y="653.56" font-size="6.6" stroke="#231f20" stroke-width="0.17">Male gonad development</text>
<rect x="300.60" y="655.27" width="22.20" height="4.90" fill="#4cb848"/>
<text x="383.00" y="659.87" font-size="6.6" stroke="#231f20" stroke-width="0.17">Myeloid cell differentiation</text>
<rect x="300.60" y="661.58" width="22.20" height="4.90" fill="#4cb848"/>
<text x="383.00" y="666.18" font-size="6.6" stroke="#231f20" stroke-width="0.17">Regulation of binding</text>
<rect x="300.60" y="667.89" width="22.20" height="4.90" fill="#4cb848"/>
<text x="383.00" y="672.49" font-size="6.6" stroke="#231f20" stroke-width="0.17">Phosphatidylinositol-mediated signaling</text>
<line x1="300.00" y1="543.80" x2="300.00" y2="677.00" stroke="#231f20" stroke-width="1"/>
<line x1="299.50" y1="676.70" x2="383.10" y2="676.70" stroke="#231f20" stroke-width="1"/>
<line x1="300.00" y1="676.70" x2="300.00" y2="679.80" stroke="#231f20" stroke-width="0.9"/>
<text x="300.00" y="689.60" font-size="8.2" stroke="#231f20" stroke-width="0.17" text-anchor="middle" textLength="4.00" lengthAdjust="spacingAndGlyphs">0</text>
<line x1="320.25" y1="676.70" x2="320.25" y2="679.80" stroke="#231f20" stroke-width="0.9"/>
<text x="320.25" y="689.60" font-size="8.2" stroke="#231f20" stroke-width="0.17" text-anchor="middle" textLength="4.00" lengthAdjust="spacingAndGlyphs">5</text>
<line x1="340.50" y1="676.70" x2="340.50" y2="679.80" stroke="#231f20" stroke-width="0.9"/>
<text x="340.50" y="689.60" font-size="8.2" stroke="#231f20" stroke-width="0.17" text-anchor="middle" textLength="8.40" lengthAdjust="spacingAndGlyphs">10</text>
<line x1="360.75" y1="676.70" x2="360.75" y2="679.80" stroke="#231f20" stroke-width="0.9"/>
<text x="360.75" y="689.60" font-size="8.2" stroke="#231f20" stroke-width="0.17" text-anchor="middle" textLength="8.40" lengthAdjust="spacingAndGlyphs">15</text>
<line x1="381.00" y1="676.70" x2="381.00" y2="679.80" stroke="#231f20" stroke-width="0.9"/>
<text x="381.00" y="689.60" font-size="8.2" stroke="#231f20" stroke-width="0.17" text-anchor="middle" textLength="8.40" lengthAdjust="spacingAndGlyphs">20</text>
<text x="318.60" y="702.90" font-size="10" stroke="#231f20" stroke-width="0.17" textLength="14.80" lengthAdjust="spacingAndGlyphs">−log</text>
<text x="333.80" y="704.60" font-size="6.6" stroke="#231f20" stroke-width="0.17" textLength="5.90" lengthAdjust="spacingAndGlyphs">10</text>
<text x="341.80" y="702.90" font-size="10" stroke="#231f20" stroke-width="0.17" textLength="23.30" lengthAdjust="spacingAndGlyphs">P value</text>
<text x="6.20" y="528.80" font-size="13" stroke="#000" stroke-width="0.1" fill="#000" font-weight="bold">I</text>
<line x1="62.30" y1="550.20" x2="286.30" y2="550.20" stroke="#231f20" stroke-width="1.1"/>
<text x="76.40" y="538.60" font-size="7.9" stroke="#231f20" stroke-width="0.17" text-anchor="middle" textLength="20.20" lengthAdjust="spacingAndGlyphs" font-style="italic">CD33</text>
<text x="89.00" y="547.20" font-size="7.4" stroke="#231f20" stroke-width="0.17" text-anchor="middle">3</text>
<line x1="63.10" y1="551.60" x2="63.10" y2="582.60" stroke="#555" stroke-width="1.2"/>
<path d="M63.60,551.60 Q64.10,564.10 65.40,568.10 Q64.10,572.10 63.60,582.60Z" fill="#111"/>
<line x1="60.30" y1="568.10" x2="63.10" y2="568.10" stroke="#231f20" stroke-width="0.9"/>
<line x1="63.10" y1="583.80" x2="63.10" y2="612.60" stroke="#555" stroke-width="1.2"/>
<path d="M63.60,583.80 Q64.10,594.40 65.40,598.40 Q64.10,602.40 63.60,612.60Z" fill="#111"/>
<line x1="60.30" y1="598.40" x2="63.10" y2="598.40" stroke="#231f20" stroke-width="0.9"/>
<line x1="63.10" y1="613.80" x2="63.10" y2="643.90" stroke="#555" stroke-width="1.2"/>
<path d="M63.60,613.80 Q64.10,623.80 65.40,627.80 Q64.10,631.80 63.60,643.90Z" fill="#111"/>
<line x1="60.30" y1="627.80" x2="63.10" y2="627.80" stroke="#231f20" stroke-width="0.9"/>
<text x="105.00" y="538.60" font-size="7.9" stroke="#231f20" stroke-width="0.17" text-anchor="middle" textLength="25.40" lengthAdjust="spacingAndGlyphs" font-style="italic">CEBPA</text>
<text x="116.80" y="547.20" font-size="7.4" stroke="#231f20" stroke-width="0.17" text-anchor="middle">3</text>
<line x1="90.90" y1="551.60" x2="90.90" y2="582.60" stroke="#555" stroke-width="1.2"/>
<path d="M91.40,551.60 Q91.90,564.10 93.20,568.10 Q91.90,572.10 91.40,582.60Z" fill="#111"/>
<line x1="90.90" y1="583.80" x2="90.90" y2="612.60" stroke="#555" stroke-width="1.2"/>
<path d="M91.40,583.80 Q91.90,594.40 93.20,598.40 Q91.90,602.40 91.40,612.60Z" fill="#111"/>
<line x1="90.90" y1="613.80" x2="90.90" y2="643.90" stroke="#555" stroke-width="1.2"/>
<path d="M91.40,613.80 Q91.90,623.80 93.20,627.80 Q91.90,631.80 91.40,643.90Z" fill="#111"/>
<text x="132.70" y="538.60" font-size="7.9" stroke="#231f20" stroke-width="0.17" text-anchor="middle" textLength="20.20" lengthAdjust="spacingAndGlyphs" font-style="italic">IGLL1</text>
<text x="144.60" y="547.20" font-size="7.4" stroke="#231f20" stroke-width="0.17" text-anchor="middle">5</text>
<line x1="118.70" y1="551.60" x2="118.70" y2="582.60" stroke="#555" stroke-width="1.2"/>
<path d="M119.20,551.60 Q119.70,564.10 121.00,568.10 Q119.70,572.10 119.20,582.60Z" fill="#111"/>
<line x1="118.70" y1="583.80" x2="118.70" y2="612.60" stroke="#555" stroke-width="1.2"/>
<path d="M119.20,583.80 Q119.70,594.40 121.00,598.40 Q119.70,602.40 119.20,612.60Z" fill="#111"/>
<line x1="118.70" y1="613.80" x2="118.70" y2="643.90" stroke="#555" stroke-width="1.2"/>
<path d="M119.20,613.80 Q119.70,623.80 121.00,627.80 Q119.70,631.80 119.20,643.90Z" fill="#111"/>
<text x="160.80" y="538.60" font-size="7.9" stroke="#231f20" stroke-width="0.17" text-anchor="middle" textLength="26.10" lengthAdjust="spacingAndGlyphs" font-style="italic">VPREB1</text>
<text x="172.70" y="547.20" font-size="7.4" stroke="#231f20" stroke-width="0.17" text-anchor="middle">4</text>
<line x1="146.80" y1="551.60" x2="146.80" y2="582.60" stroke="#555" stroke-width="1.2"/>
<path d="M147.30,551.60 Q147.80,564.10 149.10,568.10 Q147.80,572.10 147.30,582.60Z" fill="#111"/>
<line x1="146.80" y1="583.80" x2="146.80" y2="612.60" stroke="#555" stroke-width="1.2"/>
<path d="M147.30,583.80 Q147.80,594.40 149.10,598.40 Q147.80,602.40 147.30,612.60Z" fill="#111"/>
<line x1="146.80" y1="613.80" x2="146.80" y2="643.90" stroke="#555" stroke-width="1.2"/>
<path d="M147.30,613.80 Q147.80,623.80 149.10,627.80 Q147.80,631.80 147.30,643.90Z" fill="#111"/>
<text x="188.60" y="538.60" font-size="7.9" stroke="#231f20" stroke-width="0.17" text-anchor="middle" textLength="18.40" lengthAdjust="spacingAndGlyphs" font-style="italic">PAX5</text>
<text x="200.70" y="547.20" font-size="7.4" stroke="#231f20" stroke-width="0.17" text-anchor="middle">3</text>
<line x1="174.80" y1="551.60" x2="174.80" y2="582.60" stroke="#555" stroke-width="1.2"/>
<path d="M175.30,551.60 Q175.80,564.10 177.10,568.10 Q175.80,572.10 175.30,582.60Z" fill="#111"/>
<line x1="174.80" y1="583.80" x2="174.80" y2="612.60" stroke="#555" stroke-width="1.2"/>
<path d="M175.30,583.80 Q175.80,594.40 177.10,598.40 Q175.80,602.40 175.30,612.60Z" fill="#111"/>
<line x1="174.80" y1="613.80" x2="174.80" y2="643.90" stroke="#555" stroke-width="1.2"/>
<path d="M175.30,613.80 Q175.80,623.80 177.10,627.80 Q175.80,631.80 175.30,643.90Z" fill="#111"/>
<text x="216.20" y="538.60" font-size="7.9" stroke="#231f20" stroke-width="0.17" text-anchor="middle" textLength="16.90" lengthAdjust="spacingAndGlyphs" font-style="italic">EBF1</text>
<text x="228.90" y="547.20" font-size="7.4" stroke="#231f20" stroke-width="0.17" text-anchor="middle">4</text>
<line x1="203.00" y1="551.60" x2="203.00" y2="582.60" stroke="#555" stroke-width="1.2"/>
<path d="M203.50,551.60 Q204.00,564.10 205.30,568.10 Q204.00,572.10 203.50,582.60Z" fill="#111"/>
<line x1="203.00" y1="583.80" x2="203.00" y2="612.60" stroke="#555" stroke-width="1.2"/>
<path d="M203.50,583.80 Q204.00,594.40 205.30,598.40 Q204.00,602.40 203.50,612.60Z" fill="#111"/>
<line x1="203.00" y1="613.80" x2="203.00" y2="643.90" stroke="#555" stroke-width="1.2"/>
<path d="M203.50,613.80 Q204.00,623.80 205.30,627.80 Q204.00,631.80 203.50,643.90Z" fill="#111"/>
<text x="244.60" y="538.60" font-size="7.9" stroke="#231f20" stroke-width="0.17" text-anchor="middle" textLength="21.60" lengthAdjust="spacingAndGlyphs" font-style="italic">MEIS1</text>
<text x="256.70" y="547.20" font-size="7.4" stroke="#231f20" stroke-width="0.17" text-anchor="middle">3</text>
<line x1="230.80" y1="551.60" x2="230.80" y2="582.60" stroke="#555" stroke-width="1.2"/>
<path d="M231.30,551.60 Q231.80,564.10 233.10,568.10 Q231.80,572.10 231.30,582.60Z" fill="#111"/>
<line x1="230.80" y1="583.80" x2="230.80" y2="612.60" stroke="#555" stroke-width="1.2"/>
<path d="M231.30,583.80 Q231.80,594.40 233.10,598.40 Q231.80,602.40 231.30,612.60Z" fill="#111"/>
<line x1="230.80" y1="613.80" x2="230.80" y2="643.90" stroke="#555" stroke-width="1.2"/>
<path d="M231.30,613.80 Q231.80,623.80 233.10,627.80 Q231.80,631.80 231.30,643.90Z" fill="#111"/>
<text x="272.80" y="538.60" font-size="7.9" stroke="#231f20" stroke-width="0.17" text-anchor="middle" textLength="26.80" lengthAdjust="spacingAndGlyphs" font-style="italic">HOXA9</text>
<text x="284.40" y="547.20" font-size="7.4" stroke="#231f20" stroke-width="0.17" text-anchor="middle">4</text>
<line x1="258.50" y1="551.60" x2="258.50" y2="582.60" stroke="#555" stroke-width="1.2"/>
<path d="M259.00,551.60 Q259.50,564.10 260.80,568.10 Q259.50,572.10 259.00,582.60Z" fill="#111"/>
<line x1="258.50" y1="583.80" x2="258.50" y2="612.60" stroke="#555" stroke-width="1.2"/>
<path d="M259.00,583.80 Q259.50,594.40 260.80,598.40 Q259.50,602.40 259.00,612.60Z" fill="#111"/>
<line x1="258.50" y1="613.80" x2="258.50" y2="643.90" stroke="#555" stroke-width="1.2"/>
<path d="M259.00,613.80 Q259.50,623.80 260.80,627.80 Q259.50,631.80 259.00,643.90Z" fill="#111"/>
<line x1="63.10" y1="568.10" x2="80.10" y2="568.10" stroke="#111" stroke-width="0.85"/>
<line x1="63.10" y1="598.40" x2="78.60" y2="598.40" stroke="#111" stroke-width="0.85"/>
<path d="M63.30,595.40 L63.80,595.40 L65.30,594.90 L67.30,596.90 L69.30,594.90 L72.30,595.40 L75.30,596.60 L78.30,597.90 L78.30,598.90 L75.30,600.20 L72.30,601.40 L69.30,601.90 L67.30,599.90 L65.30,601.90 L63.80,601.40 L63.30,601.40Z" fill="#2171b5" stroke="#000" stroke-width="0.5" stroke-linejoin="round"/>
<line x1="63.10" y1="627.80" x2="83.60" y2="627.80" stroke="#111" stroke-width="0.85"/>
<path d="M63.30,624.80 L63.80,624.80 L65.30,624.80 L67.30,625.80 L70.30,623.80 L73.30,625.30 L76.30,626.80 L79.30,627.40 L79.30,628.20 L76.30,628.80 L73.30,630.30 L70.30,631.80 L67.30,629.80 L65.30,630.80 L63.80,630.80 L63.30,630.80Z" fill="#e31a1c" stroke="#000" stroke-width="0.5" stroke-linejoin="round"/>
<line x1="90.90" y1="568.10" x2="111.40" y2="568.10" stroke="#111" stroke-width="0.85"/>
<path d="M91.10,566.60 L91.60,566.60 L94.10,566.90 L97.10,564.30 L100.10,564.90 L103.10,566.30 L105.10,567.50 L105.10,568.70 L103.10,569.90 L100.10,571.30 L97.10,571.90 L94.10,569.30 L91.60,569.60 L91.10,569.60Z" fill="#a6cee3" stroke="#000" stroke-width="0.5" stroke-linejoin="round"/>
<line x1="90.90" y1="598.40" x2="114.90" y2="598.40" stroke="#111" stroke-width="0.85"/>
<path d="M91.10,592.40 L91.60,592.40 L93.10,592.90 L96.10,590.90 L98.10,589.90 L101.10,592.40 L105.10,595.40 L108.10,597.40 L110.10,598.00 L110.10,598.80 L108.10,599.40 L105.10,601.40 L101.10,604.40 L98.10,606.90 L96.10,605.90 L93.10,603.90 L91.60,604.40 L91.10,604.40Z" fill="#2171b5" stroke="#000" stroke-width="0.5" stroke-linejoin="round"/>
<line x1="90.90" y1="627.80" x2="112.70" y2="627.80" stroke="#111" stroke-width="0.85"/>
<path d="M91.10,621.80 L91.60,621.80 L93.10,622.30 L96.10,620.30 L98.10,619.80 L101.10,621.80 L104.10,624.80 L107.10,626.80 L109.10,627.40 L109.10,628.20 L107.10,628.80 L104.10,630.80 L101.10,633.80 L98.10,635.80 L96.10,635.30 L93.10,633.30 L91.60,633.80 L91.10,633.80Z" fill="#e31a1c" stroke="#000" stroke-width="0.5" stroke-linejoin="round"/>
<line x1="118.70" y1="568.10" x2="141.50" y2="568.10" stroke="#111" stroke-width="0.85"/>
<path d="M118.90,566.30 L119.40,566.30 L120.90,566.60 L123.90,566.90 L128.90,567.10 L132.90,567.30 L136.90,567.70 L136.90,568.50 L132.90,568.90 L128.90,569.10 L123.90,569.30 L120.90,569.60 L119.40,569.90 L118.90,569.90Z" fill="#a6cee3" stroke="#000" stroke-width="0.5" stroke-linejoin="round"/>
<line x1="118.70" y1="598.40" x2="134.70" y2="598.40" stroke="#111" stroke-width="0.85"/>
<line x1="118.70" y1="627.80" x2="124.20" y2="627.80" stroke="#111" stroke-width="0.85"/>
<line x1="146.80" y1="568.10" x2="171.50" y2="568.10" stroke="#111" stroke-width="0.85"/>
<path d="M147.00,560.60 L147.50,560.60 L149.00,561.10 L153.00,562.10 L157.00,563.60 L160.00,562.60 L163.00,562.10 L166.00,563.60 L169.00,566.60 L171.00,567.60 L171.00,568.60 L169.00,569.60 L166.00,572.60 L163.00,574.10 L160.00,573.60 L157.00,572.60 L153.00,574.10 L149.00,575.10 L147.50,575.60 L147.00,575.60Z" fill="#a6cee3" stroke="#000" stroke-width="0.5" stroke-linejoin="round"/>
<line x1="146.80" y1="598.40" x2="163.50" y2="598.40" stroke="#111" stroke-width="0.85"/>
<line x1="174.80" y1="568.10" x2="196.30" y2="568.10" stroke="#111" stroke-width="0.85"/>
<path d="M175.00,562.60 L175.50,562.60 L177.00,563.60 L179.00,564.60 L181.00,563.10 L184.00,563.10 L187.00,564.60 L191.00,565.80 L194.00,567.30 L196.00,567.80 L196.00,568.40 L194.00,568.90 L191.00,570.40 L187.00,571.60 L184.00,573.10 L181.00,573.10 L179.00,571.60 L177.00,572.60 L175.50,573.60 L175.00,573.60Z" fill="#a6cee3" stroke="#000" stroke-width="0.5" stroke-linejoin="round"/>
<line x1="174.80" y1="598.40" x2="197.00" y2="598.40" stroke="#111" stroke-width="0.85"/>
<line x1="174.80" y1="627.80" x2="194.80" y2="627.80" stroke="#111" stroke-width="0.85"/>
<line x1="203.00" y1="568.10" x2="223.00" y2="568.10" stroke="#111" stroke-width="0.85"/>
<path d="M203.20,565.60 L203.70,565.60 L205.20,565.90 L207.20,565.10 L210.20,565.30 L213.20,566.60 L215.20,567.60 L215.20,568.60 L213.20,569.60 L210.20,570.90 L207.20,571.10 L205.20,570.30 L203.70,570.60 L203.20,570.60Z" fill="#a6cee3" stroke="#000" stroke-width="0.5" stroke-linejoin="round"/>
<line x1="203.00" y1="598.40" x2="213.80" y2="598.40" stroke="#111" stroke-width="0.85"/>
<line x1="203.00" y1="627.80" x2="213.20" y2="627.80" stroke="#111" stroke-width="0.85"/>
<line x1="230.80" y1="568.10" x2="247.70" y2="568.10" stroke="#111" stroke-width="0.85"/>
<path d="M231.00,566.60 L231.50,566.60 L233.00,566.90 L235.00,565.60 L238.00,565.90 L241.00,567.10 L243.00,567.70 L243.00,568.50 L241.00,569.10 L238.00,570.30 L235.00,570.60 L233.00,569.30 L231.50,569.60 L231.00,569.60Z" fill="#a6cee3" stroke="#000" stroke-width="0.5" stroke-linejoin="round"/>
<line x1="230.80" y1="598.40" x2="249.20" y2="598.40" stroke="#111" stroke-width="0.85"/>
<path d="M231.00,596.40 L231.50,596.40 L233.00,596.20 L235.00,594.60 L237.00,594.80 L240.00,596.20 L243.00,597.60 L245.00,598.10 L245.00,598.70 L243.00,599.20 L240.00,600.60 L237.00,602.00 L235.00,602.20 L233.00,600.60 L231.50,600.40 L231.00,600.40Z" fill="#2171b5" stroke="#000" stroke-width="0.5" stroke-linejoin="round"/>
<line x1="230.80" y1="627.80" x2="247.70" y2="627.80" stroke="#111" stroke-width="0.85"/>
<path d="M231.00,627.00 L231.50,627.00 L233.00,626.80 L234.50,626.00 L236.00,626.00 L238.00,626.80 L240.00,627.40 L240.00,628.20 L238.00,628.80 L236.00,629.60 L234.50,629.60 L233.00,628.80 L231.50,628.60 L231.00,628.60Z" fill="#e31a1c" stroke="#000" stroke-width="0.5" stroke-linejoin="round"/>
<line x1="258.50" y1="568.10" x2="280.00" y2="568.10" stroke="#111" stroke-width="0.85"/>
<path d="M258.70,562.10 L259.20,562.10 L260.70,558.10 L263.70,556.10 L266.70,557.10 L269.70,559.10 L272.70,562.60 L275.70,565.90 L277.70,567.50 L277.70,568.70 L275.70,570.30 L272.70,573.60 L269.70,577.10 L266.70,579.10 L263.70,580.10 L260.70,578.10 L259.20,574.10 L258.70,574.10Z" fill="#a6cee3" stroke="#000" stroke-width="0.5" stroke-linejoin="round"/>
<line x1="258.50" y1="598.40" x2="276.00" y2="598.40" stroke="#111" stroke-width="0.85"/>
<path d="M258.70,593.40 L259.20,593.40 L260.70,590.40 L263.70,588.40 L266.70,588.90 L269.70,591.40 L272.70,594.40 L274.70,596.90 L276.20,597.90 L276.20,598.90 L274.70,599.90 L272.70,602.40 L269.70,605.40 L266.70,607.90 L263.70,608.40 L260.70,606.40 L259.20,603.40 L258.70,603.40Z" fill="#2171b5" stroke="#000" stroke-width="0.5" stroke-linejoin="round"/>
<line x1="258.50" y1="627.80" x2="275.00" y2="627.80" stroke="#111" stroke-width="0.85"/>
<path d="M258.70,624.30 L259.20,624.30 L260.70,622.30 L263.70,620.80 L266.70,621.30 L269.70,623.30 L272.70,625.80 L274.70,627.30 L274.70,628.30 L272.70,629.80 L269.70,632.30 L266.70,634.30 L263.70,634.80 L260.70,633.30 L259.20,631.30 L258.70,631.30Z" fill="#e31a1c" stroke="#000" stroke-width="0.5" stroke-linejoin="round"/>
<text x="56.50" y="564.90" font-size="7.9" stroke="#231f20" stroke-width="0.17" text-anchor="end">B–lineage</text>
<text x="56.50" y="574.60" font-size="7.9" stroke="#231f20" stroke-width="0.17" text-anchor="end">in ALL</text>
<text x="56.50" y="594.90" font-size="7.9" stroke="#231f20" stroke-width="0.17" text-anchor="end">M–lineage</text>
<text x="56.50" y="604.40" font-size="7.9" stroke="#231f20" stroke-width="0.17" text-anchor="end">in ALL</text>
<text x="56.50" y="624.70" font-size="7.9" stroke="#231f20" stroke-width="0.17" text-anchor="end">M–lineage in</text>
<text x="56.50" y="634.20" font-size="7.9" stroke="#231f20" stroke-width="0.17" text-anchor="end">switched AML</text>
<text x="141.20" y="14.90" font-size="13" stroke="#000" stroke-width="0.1" fill="#000" font-weight="bold">B</text>
<text x="158.60" y="32.20" font-size="7.9" stroke="#231f20" stroke-width="0.17" font-style="italic">KMT2A-r</text>
<text x="192.40" y="32.20" font-size="7.9" stroke="#231f20" stroke-width="0.17">PAYZLC</text>
<text x="147.60" y="70.50" font-size="8.1" stroke="#231f20" stroke-width="0.17" text-anchor="middle" transform="rotate(-90 147.60 70.50)">scRNA-Seq</text>
<text x="147.60" y="154.50" font-size="8.1" stroke="#231f20" stroke-width="0.17" text-anchor="middle" transform="rotate(-90 147.60 154.50)">scATAC-Seq</text>
<path d="M151.03,43.58 C151.79,42.78 154.02,41.52 155.94,41.25 C157.87,40.98 161.06,41.21 162.58,41.97 C164.10,42.74 164.39,44.72 165.08,45.84 C165.77,46.95 166.23,48.86 166.72,48.66 C167.20,48.45 167.03,46.00 168.01,44.63 C168.99,43.26 170.71,41.17 172.58,40.44 C174.45,39.72 177.42,39.89 179.21,40.28 C181.01,40.67 182.72,41.33 183.35,42.78 C183.98,44.23 183.25,46.92 183.01,48.98 C182.76,51.03 181.73,53.51 181.89,55.09 C182.05,56.68 182.46,57.83 183.96,58.48 C185.45,59.12 188.05,58.74 190.85,58.96 C193.65,59.17 197.89,59.33 200.76,59.76 C203.64,60.19 206.15,61.20 208.09,61.53 C210.03,61.87 211.04,62.18 212.40,61.78 C213.77,61.37 215.30,60.50 216.28,59.12 C217.26,57.74 217.76,55.09 218.26,53.48 C218.77,51.88 218.77,50.29 219.30,49.46 C219.83,48.63 220.76,48.36 221.45,48.49 C222.14,48.63 223.13,48.96 223.44,50.27 C223.74,51.57 223.74,54.49 223.26,56.30 C222.79,58.11 221.83,59.82 220.59,61.13 C219.36,62.45 217.50,63.48 215.85,64.19 C214.20,64.90 213.19,65.20 210.68,65.40 C208.16,65.60 204.36,65.43 200.76,65.40 C197.17,65.37 192.22,65.21 189.13,65.24 C186.04,65.26 183.60,65.29 182.23,65.56 C180.87,65.83 180.51,65.91 180.94,66.85 C181.37,67.79 183.51,69.46 184.82,71.19 C186.13,72.93 188.28,76.05 188.78,77.23 C189.29,78.41 188.64,78.88 187.83,78.28 C187.03,77.68 185.23,75.06 183.96,73.61 C182.68,72.16 180.91,68.78 180.16,69.58 C179.42,70.39 179.76,75.69 179.47,78.44 C179.19,81.19 178.47,83.54 178.44,86.09 C178.41,88.64 178.35,91.84 179.30,93.73 C180.25,95.63 182.88,96.47 184.13,97.44 C185.38,98.40 186.83,98.97 186.80,99.53 C186.77,100.09 185.36,100.51 183.96,100.82 C182.55,101.13 179.46,100.68 178.35,101.38 C177.25,102.08 178.01,103.68 177.32,105.00 C176.63,106.33 175.84,108.51 174.22,109.35 C172.59,110.20 169.52,110.56 167.58,110.08 C165.64,109.59 164.02,108.31 162.58,106.45 C161.14,104.60 159.73,102.09 158.96,98.97 C158.18,95.84 158.04,91.66 157.92,87.70 C157.81,83.74 158.07,79.35 158.27,75.22 C158.47,71.09 158.70,66.19 159.13,62.90 C159.56,59.62 160.31,57.40 160.85,55.50 C161.40,53.59 162.66,52.48 162.41,51.47 C162.15,50.47 160.74,50.06 159.30,49.46 C157.87,48.86 155.11,48.41 153.79,47.85 C152.46,47.29 151.83,46.79 151.37,46.08 C150.91,45.37 150.27,44.39 151.03,43.58Z" fill="#cbcbcb"/>
<path d="M202.49,86.09 C202.85,85.15 204.28,84.01 205.51,83.27 C206.73,82.53 208.38,82.13 209.82,81.66 C211.25,81.19 212.69,80.99 214.13,80.45 C215.56,79.92 217.14,78.98 218.44,78.44 C219.73,77.90 220.88,77.30 221.88,77.23 C222.89,77.17 223.75,77.50 224.47,78.04 C225.19,78.57 225.55,79.65 226.19,80.45 C226.84,81.26 227.92,81.93 228.35,82.87 C228.78,83.81 229.14,85.22 228.78,86.09 C228.42,86.96 227.34,87.97 226.19,88.10 C225.04,88.23 223.32,87.36 221.88,86.89 C220.45,86.42 219.01,85.55 217.57,85.28 C216.14,85.01 214.70,85.01 213.26,85.28 C211.83,85.55 210.25,86.29 208.95,86.89 C207.66,87.50 206.44,88.57 205.51,88.91 C204.57,89.24 203.85,89.37 203.35,88.91 C202.85,88.44 202.13,87.03 202.49,86.09Z" fill="#cbcbcb"/>
<path d="M169.8,88.1h.01M164.5,56.4h.01M161.7,56.0h.01M172.4,70.4h.01M161.7,101.1h.01M169.6,99.6h.01M177.4,70.3h.01M173.7,48.5h.01M160.8,87.5h.01M165.7,76.8h.01M169.4,72.4h.01M160.5,74.5h.01M168.1,56.7h.01M165.1,65.9h.01M181.0,100.9h.01M165.7,99.9h.01M178.2,90.3h.01M166.4,83.4h.01M177.0,91.1h.01M175.7,60.9h.01M162.9,88.0h.01M175.9,46.8h.01M159.8,61.3h.01M170.5,82.0h.01M177.6,98.5h.01M199.5,61.0h.01M169.7,88.0h.01M193.6,65.1h.01M168.7,60.3h.01M165.8,64.8h.01M175.1,60.5h.01M182.5,49.8h.01M173.0,67.4h.01M177.2,71.1h.01M160.4,96.4h.01M174.4,102.6h.01M176.0,96.2h.01M166.5,90.4h.01M161.0,77.5h.01M172.7,107.4h.01M172.6,46.3h.01M154.8,42.4h.01M172.1,93.5h.01M170.4,95.1h.01M175.1,105.7h.01M168.9,99.6h.01M178.2,73.5h.01M164.8,80.3h.01M164.0,47.5h.01M193.7,61.7h.01M166.5,92.3h.01M218.1,58.2h.01M168.7,77.3h.01M206.0,64.0h.01M160.7,91.0h.01M181.0,97.1h.01M161.6,62.9h.01M172.7,107.9h.01M166.1,105.4h.01M172.4,54.5h.01M159.2,49.3h.01M166.4,51.4h.01M181.6,57.4h.01M171.4,80.7h.01M171.3,90.2h.01M158.0,85.8h.01M162.7,100.1h.01M220.9,58.0h.01M173.1,47.5h.01M183.0,47.6h.01M167.9,63.4h.01M177.4,40.4h.01M181.5,50.0h.01M168.7,50.8h.01M177.3,92.7h.01M175.7,70.2h.01M171.8,79.0h.01M180.1,98.5h.01M168.5,70.6h.01M180.2,96.3h.01M181.7,43.0h.01M168.4,48.2h.01M165.7,91.3h.01M161.7,95.7h.01M192.0,60.9h.01M161.4,84.2h.01M161.2,57.1h.01M173.4,71.8h.01M170.2,90.5h.01M171.0,77.8h.01M168.5,71.0h.01M161.0,101.6h.01M183.0,45.2h.01M177.4,83.5h.01M163.8,80.0h.01M175.6,91.7h.01M176.0,102.2h.01M219.8,51.1h.01M171.7,97.0h.01M181.2,54.1h.01M165.0,80.6h.01M178.8,43.6h.01M173.2,108.3h.01M181.9,45.2h.01M159.9,83.3h.01M163.0,63.2h.01M162.1,92.7h.01M169.0,100.8h.01M176.8,102.6h.01M168.5,47.6h.01" stroke="#ffffff" stroke-width="0.90" stroke-linecap="round" fill="none" stroke-opacity="0.85"/>
<path d="M158.7,69.0h.01M170.2,72.6h.01M162.2,62.3h.01M171.9,68.4h.01M162.9,68.8h.01M164.8,70.2h.01M175.4,63.9h.01M162.0,70.6h.01M169.8,60.7h.01M168.1,68.5h.01M160.0,68.3h.01M177.0,64.6h.01M177.3,65.1h.01M169.3,71.6h.01M170.9,60.2h.01M168.9,68.0h.01M174.9,66.2h.01M160.6,65.3h.01M161.1,70.5h.01M167.0,60.0h.01M172.0,60.2h.01M167.5,59.9h.01M166.6,68.8h.01M167.7,65.3h.01M166.7,65.1h.01M169.0,59.9h.01M166.5,62.0h.01M171.3,67.1h.01M176.3,64.8h.01M163.8,67.0h.01M162.8,61.3h.01M169.7,65.5h.01M161.9,64.3h.01M177.1,67.3h.01M162.4,72.5h.01M164.0,62.3h.01M160.7,62.0h.01M174.8,62.5h.01M161.7,67.6h.01M175.8,62.9h.01M172.5,64.0h.01M168.3,67.4h.01M167.2,71.1h.01M164.2,64.3h.01M176.7,66.7h.01M172.7,63.2h.01M175.7,67.7h.01M166.3,63.6h.01M162.0,60.0h.01M160.7,68.9h.01M159.5,62.4h.01M165.9,66.7h.01M164.5,70.3h.01M161.9,64.0h.01M165.4,60.4h.01M161.2,60.7h.01M171.7,60.7h.01M170.5,61.8h.01M170.1,68.3h.01M163.9,72.5h.01M170.3,66.9h.01M162.1,65.5h.01M176.1,66.6h.01M165.5,73.2h.01M173.2,63.1h.01M159.3,64.2h.01M165.9,70.3h.01M166.9,66.4h.01M161.7,68.7h.01M164.9,65.2h.01M163.8,72.5h.01M167.5,71.0h.01M165.8,72.0h.01M168.6,70.4h.01M165.4,68.7h.01M176.8,64.8h.01M174.6,65.6h.01M164.6,66.3h.01M161.5,62.3h.01M174.6,62.2h.01M168.2,58.9h.01M170.7,68.8h.01M170.1,70.1h.01M165.4,61.9h.01M172.1,67.9h.01M171.3,61.3h.01M164.3,68.9h.01M164.6,67.5h.01M166.4,69.8h.01M163.8,66.0h.01M173.9,63.2h.01M160.2,68.0h.01M162.3,72.1h.01M167.7,60.8h.01M167.4,68.7h.01M166.7,68.0h.01M164.2,72.9h.01M160.2,70.5h.01M168.9,72.1h.01M163.0,64.5h.01M166.5,67.6h.01M163.9,63.8h.01M174.4,66.8h.01M163.9,70.8h.01M160.7,70.4h.01M161.3,64.3h.01M169.0,60.2h.01M172.8,65.1h.01M172.7,70.0h.01M173.7,62.1h.01M168.9,61.6h.01M167.8,69.8h.01M164.4,66.5h.01M169.7,71.0h.01M161.3,72.0h.01M166.4,64.3h.01M176.9,63.9h.01M175.4,63.6h.01M162.2,65.3h.01M169.8,59.1h.01M166.0,58.7h.01M161.6,60.1h.01M167.2,70.2h.01M165.4,61.2h.01M176.7,64.8h.01M163.7,70.9h.01M168.2,72.8h.01M171.2,72.7h.01M167.9,68.9h.01M162.8,62.2h.01M162.7,61.0h.01M161.6,68.0h.01M160.8,61.7h.01M161.8,62.0h.01M170.3,63.2h.01M175.4,66.9h.01M161.3,70.6h.01M174.3,64.8h.01M167.0,72.7h.01M166.0,62.1h.01M166.1,69.2h.01M167.1,72.2h.01M162.9,60.4h.01M169.9,58.9h.01M165.4,62.9h.01M163.3,66.6h.01M163.7,62.2h.01M176.6,65.1h.01M165.8,72.6h.01M164.6,64.3h.01M164.9,62.1h.01M171.3,62.8h.01M167.2,67.1h.01M172.6,69.6h.01M166.6,72.7h.01M171.5,65.3h.01M164.1,71.4h.01M166.4,69.7h.01M164.6,64.0h.01M162.6,65.9h.01M171.7,71.0h.01M176.3,68.5h.01M169.0,71.5h.01M162.7,72.5h.01M167.2,61.6h.01M165.1,71.7h.01M163.5,67.1h.01M173.4,67.8h.01M167.9,58.8h.01M169.9,60.0h.01M163.3,59.1h.01M171.8,71.0h.01M172.7,63.3h.01M165.2,71.7h.01M170.7,70.3h.01M167.3,70.3h.01M167.0,62.6h.01M166.5,59.1h.01M170.6,63.5h.01M160.3,70.4h.01M167.5,63.2h.01M165.4,66.7h.01M177.2,66.2h.01M169.2,64.2h.01M164.5,60.5h.01M164.8,60.3h.01M173.5,66.6h.01M164.4,71.3h.01M162.8,71.6h.01M171.6,67.9h.01M169.0,68.0h.01M168.2,72.9h.01M161.6,72.4h.01M175.1,68.0h.01M164.5,63.5h.01M170.0,61.9h.01M174.8,61.7h.01M166.1,69.8h.01M162.4,62.9h.01M162.7,66.8h.01M159.3,66.9h.01M173.7,68.8h.01M161.9,65.7h.01M170.1,72.3h.01M162.4,63.3h.01M170.8,60.8h.01M162.2,67.8h.01M167.4,61.0h.01M160.7,65.9h.01M174.7,61.5h.01M170.9,66.5h.01M162.3,64.7h.01M168.0,65.7h.01M160.1,64.6h.01M173.4,71.6h.01M176.1,62.3h.01M173.3,63.9h.01M171.5,65.6h.01M172.1,64.5h.01M176.6,65.5h.01M173.3,61.2h.01M171.8,61.7h.01M165.1,64.2h.01M170.5,67.2h.01M162.3,72.5h.01M168.6,71.0h.01M171.2,67.1h.01M171.0,61.7h.01M166.5,63.4h.01M176.7,67.0h.01M171.2,65.2h.01M161.2,69.5h.01M160.8,65.7h.01M163.7,60.5h.01M164.3,65.9h.01M165.6,62.9h.01M161.5,63.8h.01M167.7,73.1h.01M164.8,67.0h.01M168.1,58.8h.01M173.8,68.6h.01M166.7,72.7h.01M165.3,66.5h.01M170.5,60.4h.01M171.4,62.9h.01M165.8,59.0h.01M177.4,65.5h.01M162.0,60.8h.01M162.4,60.1h.01M169.2,71.3h.01M164.8,70.2h.01M172.1,64.9h.01M173.5,62.8h.01M171.8,61.0h.01M169.4,69.2h.01M169.1,65.1h.01M173.8,64.7h.01M159.6,70.2h.01M168.6,59.6h.01M161.4,66.9h.01M161.4,60.5h.01M161.2,61.6h.01M160.2,62.8h.01M171.4,60.1h.01M162.3,65.5h.01M173.4,65.8h.01M163.2,72.2h.01M173.8,63.7h.01M160.9,64.6h.01M167.1,70.1h.01M161.6,60.0h.01M176.4,66.2h.01M160.7,63.3h.01M162.0,65.3h.01M163.3,67.9h.01M161.0,68.8h.01M175.7,69.8h.01M166.4,67.3h.01M166.7,73.4h.01M164.8,60.9h.01M175.2,61.9h.01M170.4,65.1h.01M165.7,66.6h.01M161.8,68.2h.01M169.1,70.7h.01M173.7,63.3h.01M176.9,67.1h.01M160.6,66.3h.01M167.9,66.2h.01M164.6,67.3h.01M167.9,70.4h.01M163.7,65.3h.01M167.4,67.1h.01M164.6,66.8h.01M167.7,63.0h.01M167.1,65.9h.01M163.2,61.2h.01M164.2,71.9h.01M173.1,65.4h.01M174.6,66.2h.01M159.6,69.1h.01M174.6,68.7h.01M162.7,65.7h.01M171.6,65.8h.01M170.9,68.9h.01M166.4,62.3h.01M166.8,66.6h.01M164.5,61.9h.01M168.8,68.2h.01M161.3,60.4h.01M171.8,70.8h.01M171.7,64.3h.01M168.7,65.4h.01M162.9,67.1h.01M172.5,68.1h.01M172.3,63.1h.01M161.1,65.3h.01M161.4,66.3h.01M173.3,68.7h.01M164.5,71.9h.01M160.1,70.9h.01M164.9,60.9h.01M166.2,71.0h.01M170.4,63.0h.01M173.6,62.4h.01M168.2,61.4h.01M171.2,59.8h.01M166.4,65.1h.01M167.2,61.6h.01M170.9,72.9h.01M162.3,63.6h.01M166.3,61.7h.01M170.9,64.4h.01M167.5,60.4h.01M175.1,69.7h.01M167.1,68.6h.01M161.2,61.3h.01M161.1,62.5h.01M164.8,66.0h.01M162.2,63.8h.01M173.3,70.5h.01M161.8,67.0h.01M169.5,61.2h.01M174.2,67.7h.01M159.7,70.2h.01M172.3,62.0h.01M165.8,61.1h.01M166.2,73.2h.01M162.0,63.9h.01M167.3,66.8h.01M167.1,69.1h.01M168.4,65.4h.01M174.4,68.6h.01M172.0,70.5h.01M172.5,63.6h.01M172.0,66.8h.01M163.8,63.8h.01M165.7,65.4h.01M160.5,65.2h.01M174.0,63.4h.01M165.9,73.0h.01M174.1,68.8h.01M168.6,73.0h.01M166.5,67.8h.01M175.1,63.9h.01M165.5,68.4h.01M171.5,69.0h.01M165.1,62.7h.01M172.7,69.3h.01M167.4,62.4h.01M172.2,64.8h.01M162.9,66.5h.01M164.2,61.4h.01M166.8,61.9h.01M161.9,61.0h.01M163.4,70.9h.01M163.0,62.0h.01M167.1,70.4h.01M165.8,66.8h.01M172.4,59.9h.01M167.2,59.1h.01M160.8,60.4h.01M176.0,66.0h.01M174.5,67.9h.01M168.6,70.0h.01M160.5,64.4h.01M170.8,67.1h.01M161.6,68.6h.01M172.1,68.4h.01M173.4,70.5h.01M171.7,64.3h.01M166.0,73.1h.01M164.2,68.8h.01M174.7,70.6h.01M163.3,65.2h.01M172.7,66.5h.01M165.4,72.7h.01M161.9,68.9h.01M163.9,67.9h.01M172.4,71.8h.01M173.4,66.0h.01M168.7,68.8h.01M172.3,72.3h.01M176.7,68.1h.01M159.4,63.2h.01M159.5,69.4h.01M159.7,65.3h.01M162.0,66.6h.01M162.1,61.7h.01M163.9,72.7h.01M163.1,70.2h.01M171.8,68.9h.01M166.8,65.2h.01M169.9,64.1h.01M159.6,62.4h.01M169.1,70.0h.01M172.2,64.1h.01M170.9,61.7h.01M162.2,68.1h.01M168.4,66.8h.01M160.3,64.0h.01M171.3,60.0h.01M165.8,60.8h.01M163.7,65.4h.01M162.4,63.6h.01M166.1,69.3h.01M160.7,61.0h.01M166.2,62.9h.01M161.4,60.8h.01M173.7,70.6h.01M158.9,68.3h.01M165.8,59.5h.01M171.3,69.8h.01M171.4,59.6h.01M164.5,60.2h.01M171.6,70.4h.01M161.4,67.3h.01M161.7,64.0h.01M160.4,63.4h.01M164.8,70.9h.01M169.7,68.4h.01M166.3,61.0h.01M161.9,60.0h.01M169.2,60.9h.01M171.8,62.2h.01M159.9,65.4h.01M161.1,70.3h.01M170.3,65.3h.01M167.7,70.0h.01M170.2,64.9h.01M168.2,65.1h.01M169.8,70.6h.01M164.3,65.9h.01M165.9,65.5h.01M170.6,67.9h.01M160.9,65.8h.01M174.3,65.3h.01M166.2,62.8h.01M165.1,64.3h.01M160.4,67.5h.01M165.5,64.2h.01M174.7,69.8h.01M161.7,68.0h.01M162.3,63.9h.01M170.0,62.4h.01M164.1,62.2h.01M170.8,72.4h.01M174.5,69.9h.01M173.3,64.5h.01M163.0,71.9h.01M169.9,59.7h.01M174.4,61.2h.01M162.4,60.1h.01M172.8,61.2h.01M160.1,63.9h.01M175.7,64.7h.01M161.7,61.1h.01M167.2,65.0h.01M167.8,63.8h.01M172.4,60.8h.01M162.2,65.7h.01M161.5,61.1h.01M159.3,70.6h.01M175.4,62.8h.01M172.5,68.5h.01M168.6,62.1h.01M164.9,66.3h.01M161.5,60.8h.01M162.4,67.7h.01M171.2,64.0h.01M164.5,59.0h.01M166.5,68.0h.01M168.1,68.0h.01M168.0,70.9h.01M174.7,66.0h.01M174.4,61.0h.01M163.3,64.1h.01M159.0,67.2h.01M171.7,59.7h.01M162.6,59.3h.01M165.4,62.0h.01M168.8,68.7h.01M165.4,65.9h.01M158.6,70.2h.01M166.2,71.8h.01M159.5,65.6h.01M174.6,68.5h.01M166.9,59.7h.01M169.3,65.3h.01M166.9,65.4h.01M168.3,60.4h.01M173.8,64.5h.01M164.1,61.3h.01M160.6,67.3h.01M172.2,71.5h.01M168.0,71.7h.01M175.4,68.1h.01M172.8,65.3h.01M159.0,64.9h.01M166.2,62.1h.01M160.9,64.8h.01M160.0,71.1h.01M162.7,64.6h.01M175.0,68.6h.01M166.6,61.8h.01M165.6,69.1h.01M170.2,67.2h.01M168.0,61.3h.01M162.3,68.1h.01M168.9,64.9h.01M168.2,68.2h.01M169.6,62.6h.01M168.7,68.5h.01M162.7,71.1h.01M168.8,69.3h.01M169.4,62.6h.01M176.4,66.6h.01M175.5,67.7h.01M177.1,66.6h.01M162.8,72.2h.01M159.3,62.7h.01M168.5,65.6h.01M165.9,58.9h.01M159.3,62.9h.01M174.6,68.0h.01M172.9,60.8h.01M165.6,72.9h.01M166.5,63.4h.01M171.7,60.8h.01M171.2,61.2h.01M176.0,68.1h.01M170.6,67.2h.01M161.2,70.0h.01M173.5,65.2h.01M168.9,68.3h.01M170.3,62.6h.01M162.6,69.7h.01M165.4,65.4h.01M170.4,71.2h.01M166.3,60.5h.01" stroke="#e41a1c" stroke-width="1.20" stroke-linecap="round" fill="none"/>
<path d="M167.8,67.0h.01M164.0,63.7h.01M169.8,61.8h.01M170.9,64.9h.01M166.9,60.8h.01M170.1,67.7h.01M168.9,66.6h.01M171.7,66.4h.01M163.0,66.1h.01M164.1,66.5h.01M168.5,65.2h.01M161.2,63.9h.01M163.6,67.5h.01M166.4,61.7h.01M168.5,62.7h.01M169.4,63.5h.01M166.9,64.2h.01M163.7,64.4h.01M169.8,63.5h.01M164.3,67.8h.01M162.1,63.6h.01M166.2,65.2h.01M162.0,67.6h.01M165.9,60.9h.01M164.1,60.6h.01M164.1,61.1h.01M163.1,65.6h.01M168.3,63.0h.01M165.6,65.1h.01M167.0,69.1h.01M162.6,67.7h.01M166.7,68.9h.01M163.6,66.1h.01M161.2,65.6h.01M164.9,64.6h.01M170.1,67.4h.01M167.5,62.3h.01M162.3,68.4h.01M164.0,63.8h.01M170.6,63.4h.01M170.2,62.9h.01M161.6,64.6h.01M167.1,68.6h.01M160.4,64.9h.01M163.7,64.7h.01M170.0,64.4h.01M163.6,62.0h.01M169.8,61.5h.01M168.3,69.0h.01M161.5,66.1h.01M167.3,60.8h.01M165.2,63.1h.01M161.5,64.0h.01M162.0,65.5h.01M167.0,65.2h.01M170.2,66.0h.01M162.4,65.6h.01M166.6,67.7h.01M164.4,66.3h.01M162.5,67.0h.01M161.9,63.5h.01M166.3,67.3h.01M165.6,60.7h.01M167.1,65.8h.01M169.5,61.3h.01M166.5,64.5h.01M167.9,61.3h.01M167.9,68.5h.01M171.2,67.0h.01M164.6,63.4h.01M164.1,67.4h.01M162.3,68.0h.01M162.7,65.3h.01M167.4,69.8h.01M162.7,63.5h.01M163.7,63.0h.01M162.0,64.0h.01M163.2,62.6h.01M165.5,60.4h.01M161.3,67.8h.01M163.6,67.9h.01M166.8,64.3h.01M167.4,62.6h.01M166.4,68.4h.01M167.7,67.5h.01M166.5,63.4h.01M167.7,61.1h.01M169.1,67.4h.01M160.3,65.3h.01M165.9,67.3h.01M165.1,60.9h.01M167.3,68.9h.01M162.1,65.6h.01M165.8,66.5h.01M171.5,63.7h.01M167.0,64.9h.01M161.8,64.7h.01M162.4,63.3h.01M162.3,64.1h.01M165.5,61.4h.01M165.2,69.8h.01M164.7,66.4h.01M171.7,63.9h.01M164.1,64.4h.01M161.7,66.9h.01M169.4,67.7h.01M161.7,62.8h.01M170.9,67.2h.01M164.7,67.5h.01M163.2,60.9h.01M165.9,64.2h.01M171.0,65.6h.01M167.8,62.5h.01M168.6,69.2h.01M169.8,64.8h.01M161.5,65.0h.01M168.3,65.4h.01M166.8,63.2h.01M163.9,62.4h.01M167.2,66.6h.01" stroke="#e41a1c" stroke-width="1.20" stroke-linecap="round" fill="none"/>
<path d="M160.5,48.0h.01M160.9,46.3h.01M168.8,56.3h.01M164.9,48.3h.01M166.5,53.9h.01M161.2,50.4h.01M158.9,43.5h.01M164.7,49.0h.01M160.5,47.6h.01M169.4,55.1h.01M163.9,48.6h.01M168.5,57.1h.01M164.0,50.2h.01M164.9,49.9h.01M167.7,51.9h.01M158.5,42.9h.01M162.4,48.1h.01M165.6,53.7h.01M168.3,55.2h.01M169.2,56.6h.01M162.0,48.8h.01M158.1,45.4h.01M168.8,54.1h.01M167.2,51.2h.01M168.5,52.9h.01M165.0,51.3h.01M164.4,50.0h.01M161.0,44.8h.01M166.6,54.9h.01M167.9,53.9h.01M160.4,45.2h.01M162.9,49.3h.01M164.9,50.5h.01M163.7,50.1h.01M163.6,52.0h.01M163.1,49.3h.01M169.6,57.9h.01M165.5,49.9h.01M164.9,50.8h.01M160.2,46.2h.01M166.1,53.5h.01M163.0,52.3h.01M168.2,53.6h.01M163.6,52.5h.01M168.9,54.8h.01M161.6,48.7h.01M159.1,46.2h.01M166.5,53.6h.01M160.8,46.4h.01M159.8,46.4h.01M168.0,57.3h.01M164.8,51.0h.01M167.6,55.0h.01M166.8,52.4h.01M162.1,48.8h.01M164.3,51.9h.01M169.1,55.8h.01M162.5,52.1h.01M160.0,48.1h.01M170.0,56.5h.01" stroke="#e41a1c" stroke-width="1.00" stroke-linecap="round" fill="none"/>
<path d="M181.4,61.0h.01M182.8,60.7h.01M182.6,62.1h.01M178.7,62.0h.01M172.3,59.8h.01M180.7,58.7h.01M191.3,59.8h.01M192.5,64.1h.01M178.6,63.7h.01M193.0,62.2h.01M172.7,60.8h.01M188.3,59.8h.01M177.8,59.8h.01M178.7,63.0h.01M181.0,60.6h.01M188.7,64.1h.01M179.6,58.1h.01M197.3,63.3h.01M192.5,61.3h.01M178.1,58.8h.01M179.9,60.8h.01M173.7,62.4h.01M193.9,61.0h.01M195.9,60.9h.01M192.7,60.8h.01M187.9,61.1h.01M172.6,58.8h.01M178.0,60.5h.01M181.6,61.4h.01M189.1,60.4h.01M180.3,61.2h.01M196.8,63.0h.01M189.0,63.2h.01M177.9,58.5h.01M174.4,58.6h.01M172.2,61.9h.01M189.9,64.0h.01M188.6,59.5h.01M176.6,57.9h.01M185.7,63.9h.01M174.7,58.8h.01M182.1,58.1h.01M184.1,62.6h.01M172.8,59.1h.01M189.3,63.9h.01M177.6,60.5h.01M174.8,58.6h.01M183.3,63.3h.01M178.2,63.6h.01M194.8,60.7h.01M177.8,59.0h.01M189.4,63.2h.01M183.1,57.9h.01M179.9,59.7h.01M175.2,58.3h.01M197.8,59.8h.01M185.0,61.3h.01M184.3,61.7h.01M185.1,61.0h.01M174.1,62.0h.01M189.4,62.6h.01M180.1,60.9h.01M193.0,62.6h.01M173.4,60.0h.01M176.5,62.5h.01M182.5,60.4h.01M177.8,60.8h.01M190.7,62.0h.01M177.8,60.4h.01M196.9,62.4h.01M177.8,61.1h.01M194.0,63.4h.01M189.2,62.0h.01M191.3,63.8h.01M185.4,61.9h.01M192.8,61.2h.01M177.7,61.6h.01M181.1,62.5h.01M191.4,63.8h.01M174.8,57.9h.01M196.2,62.6h.01M197.9,63.2h.01M176.8,61.8h.01M177.3,60.7h.01M176.7,58.4h.01M174.0,58.0h.01M175.9,62.3h.01M192.3,62.9h.01M182.9,62.8h.01M175.0,63.5h.01M182.7,58.6h.01M182.0,59.1h.01M191.3,60.3h.01M172.4,59.1h.01M174.1,64.1h.01M182.7,63.0h.01M187.4,60.5h.01M191.0,61.4h.01M173.1,64.4h.01M181.1,62.1h.01M182.8,64.2h.01M176.3,58.2h.01M173.1,60.4h.01M194.1,60.8h.01M187.1,61.9h.01M197.3,60.5h.01M195.4,61.2h.01M186.0,64.2h.01M180.2,61.9h.01M187.3,59.8h.01M175.8,60.6h.01M179.4,61.8h.01M182.6,58.3h.01M189.9,63.9h.01M188.0,59.8h.01M179.9,64.1h.01M183.5,62.6h.01M173.9,63.2h.01M195.2,59.5h.01M180.0,62.1h.01M196.8,63.0h.01M172.6,58.6h.01M195.1,60.5h.01M196.8,60.8h.01M193.7,59.2h.01M197.1,60.9h.01M172.1,59.1h.01M174.1,60.6h.01M196.9,64.2h.01M196.1,60.5h.01M192.0,62.7h.01M193.6,64.2h.01M193.7,62.8h.01M180.3,58.9h.01M182.9,59.7h.01M177.3,62.6h.01M173.0,58.4h.01M172.0,57.9h.01M174.6,62.7h.01M179.0,58.5h.01M184.9,60.2h.01M172.1,58.2h.01M178.6,60.6h.01M175.1,60.6h.01M184.6,63.9h.01M187.8,59.8h.01M177.8,59.0h.01M182.1,64.1h.01M188.8,62.8h.01M196.1,62.8h.01M178.9,64.0h.01M195.7,63.6h.01M180.8,63.0h.01M192.5,60.4h.01M180.7,60.8h.01M172.6,64.4h.01M182.6,60.5h.01M187.3,61.3h.01M190.1,61.3h.01M172.5,58.1h.01M178.8,60.2h.01M197.6,61.1h.01M175.4,63.3h.01M180.2,60.6h.01M188.4,62.5h.01M178.3,60.5h.01M172.3,64.0h.01M194.8,63.2h.01M177.3,61.9h.01M183.2,58.8h.01M177.5,63.6h.01M187.8,61.7h.01M175.5,61.7h.01M178.1,64.0h.01M179.1,60.8h.01M195.9,62.7h.01M180.1,60.0h.01M178.4,58.1h.01M185.6,58.8h.01M178.7,63.3h.01M175.1,58.3h.01M173.3,62.0h.01M178.4,59.6h.01M185.5,62.6h.01M181.0,57.9h.01M181.2,62.2h.01M180.8,60.6h.01M180.0,64.3h.01M193.1,63.7h.01M188.0,63.7h.01M175.4,64.1h.01M186.4,62.7h.01M186.5,63.7h.01M177.2,58.9h.01M177.7,62.6h.01M187.5,61.3h.01M177.3,60.6h.01M179.5,58.4h.01M196.8,63.1h.01M192.6,60.3h.01" stroke="#e41a1c" stroke-width="1.10" stroke-linecap="round" fill="none"/>
<path d="M200.4,61.0h.01M205.1,63.0h.01M198.5,59.8h.01M199.7,63.7h.01M203.7,63.7h.01M200.3,63.3h.01M207.1,62.2h.01M202.2,62.1h.01M211.9,61.9h.01M202.7,61.3h.01M200.2,60.7h.01M201.0,60.5h.01M198.6,62.5h.01M215.2,63.2h.01M201.1,62.6h.01M201.4,62.1h.01M201.6,63.3h.01M203.8,62.1h.01M207.0,63.1h.01M205.7,62.1h.01M202.4,63.1h.01M205.3,61.4h.01M205.9,62.9h.01M198.1,63.7h.01M207.2,62.0h.01M199.3,62.5h.01M201.5,62.8h.01M214.0,60.9h.01M203.8,61.2h.01M214.2,63.7h.01M205.2,62.2h.01M203.9,62.7h.01M204.2,61.6h.01M213.1,63.2h.01M212.1,61.9h.01M206.3,63.0h.01M203.5,62.9h.01M211.5,61.8h.01M199.0,62.8h.01M198.6,62.7h.01M208.4,63.1h.01M198.4,63.8h.01M200.1,60.5h.01M200.9,59.9h.01M206.1,61.9h.01M206.9,62.4h.01M204.5,61.6h.01M204.7,61.9h.01M203.0,60.5h.01M200.7,60.8h.01M203.7,61.4h.01M213.7,62.7h.01M213.8,61.1h.01M210.7,63.7h.01M198.6,60.2h.01M200.2,60.1h.01M202.5,62.0h.01M199.1,63.0h.01M203.3,62.1h.01M206.2,61.8h.01M206.2,61.8h.01M199.4,63.1h.01M215.9,63.6h.01M209.1,63.4h.01M202.9,61.6h.01M202.0,63.6h.01M209.7,61.7h.01M214.9,61.1h.01M215.3,62.6h.01M209.6,61.7h.01" stroke="#e41a1c" stroke-width="1.00" stroke-linecap="round" fill="none"/>
<path d="M219.6,51.6h.01M217.9,55.3h.01M218.6,57.5h.01M219.6,50.9h.01M218.3,57.3h.01M219.2,51.9h.01M219.6,54.3h.01M218.6,53.8h.01M218.2,57.3h.01M219.3,49.8h.01M217.9,56.6h.01M219.4,54.0h.01M220.0,55.8h.01M219.9,56.4h.01M219.2,54.5h.01M219.9,49.9h.01M219.2,56.5h.01M219.8,52.6h.01M218.9,57.6h.01M217.8,56.2h.01M219.0,52.4h.01M219.7,55.7h.01M219.3,53.6h.01M218.4,57.0h.01M218.6,52.9h.01M219.0,57.5h.01M218.9,57.5h.01M218.0,57.5h.01M218.9,55.9h.01M219.6,57.4h.01M218.7,53.4h.01M219.8,53.3h.01M219.6,50.7h.01M219.6,55.9h.01M219.6,49.4h.01M219.4,55.5h.01M217.6,56.8h.01M218.5,54.9h.01M218.3,54.6h.01M218.3,55.0h.01" stroke="#e41a1c" stroke-width="1.00" stroke-linecap="round" fill="none"/>
<path d="M219.0,52.6h.01M220.2,53.6h.01M219.4,51.2h.01M220.2,52.9h.01M219.1,51.6h.01M219.1,50.3h.01M219.9,51.0h.01M218.8,52.6h.01M219.9,51.9h.01M218.2,53.9h.01M220.3,50.6h.01M220.1,49.5h.01M219.6,52.5h.01M220.7,52.2h.01M220.0,53.5h.01M219.6,52.3h.01M220.8,50.9h.01M220.6,49.2h.01M219.2,52.7h.01M220.6,52.2h.01M220.6,52.7h.01M220.0,49.2h.01M220.0,52.5h.01M219.3,53.2h.01M220.3,53.7h.01M219.6,53.1h.01M219.1,50.5h.01M219.3,51.3h.01M219.3,50.4h.01M220.5,50.8h.01M218.6,52.7h.01M220.2,51.2h.01M220.9,54.0h.01M220.0,53.1h.01M219.2,50.7h.01M220.1,49.6h.01M220.6,52.0h.01M220.6,53.8h.01M220.7,49.2h.01M220.8,50.6h.01" stroke="#4daf4a" stroke-width="1.20" stroke-linecap="round" fill="none"/>
<path d="M166.2,95.0h.01M163.8,87.3h.01M161.9,100.9h.01M160.3,77.2h.01M159.9,80.3h.01M160.9,80.5h.01M160.7,88.9h.01M159.0,75.0h.01M159.0,88.2h.01M161.8,93.5h.01M168.0,84.6h.01M167.3,84.1h.01M165.9,81.4h.01M169.7,96.3h.01M167.9,99.7h.01M159.5,88.3h.01M167.0,95.4h.01M161.9,76.9h.01M165.4,75.9h.01M166.6,73.2h.01M162.8,86.4h.01M163.5,83.3h.01M169.4,97.2h.01M169.4,79.9h.01M159.9,76.6h.01M160.3,84.3h.01M167.0,85.9h.01M160.5,92.0h.01M166.3,94.1h.01M163.6,91.4h.01M160.1,75.4h.01M158.6,81.0h.01M163.0,76.1h.01M165.3,97.6h.01M166.3,74.9h.01M165.7,90.7h.01M165.8,99.6h.01M169.9,88.9h.01M164.8,99.8h.01M159.2,87.3h.01M165.8,78.9h.01M159.0,87.7h.01M167.3,76.8h.01M160.9,87.4h.01M159.9,97.8h.01M166.9,99.8h.01M165.6,92.1h.01M160.3,87.1h.01M162.4,86.4h.01M158.3,85.8h.01M170.0,87.4h.01M169.0,80.3h.01M163.0,83.6h.01M160.9,83.3h.01M162.7,96.6h.01M170.6,75.6h.01M166.0,87.8h.01M162.2,74.1h.01M161.4,81.9h.01M161.5,89.6h.01M161.5,81.3h.01M160.1,100.4h.01M161.9,100.2h.01M158.5,91.6h.01M164.3,92.9h.01M163.7,97.5h.01M164.8,74.3h.01M166.2,90.2h.01M159.7,93.5h.01M168.5,80.8h.01M158.2,81.1h.01M164.8,85.4h.01M164.2,89.2h.01M161.3,95.0h.01M166.2,80.2h.01M161.2,98.9h.01M159.3,85.5h.01M160.6,89.3h.01M167.9,76.5h.01M158.9,74.8h.01M163.3,99.5h.01M162.8,87.7h.01M160.6,79.8h.01M167.8,84.7h.01M158.0,88.0h.01M158.3,78.2h.01M165.1,75.4h.01M167.3,85.3h.01M170.4,93.7h.01M168.6,99.3h.01M160.1,86.6h.01M167.1,84.1h.01M170.5,84.9h.01M162.4,73.5h.01M165.1,100.8h.01M170.0,100.6h.01M159.7,78.0h.01M166.0,99.5h.01M164.0,74.8h.01M166.3,81.7h.01M170.8,80.9h.01M158.7,90.9h.01M163.3,80.1h.01M165.4,76.0h.01M170.7,94.9h.01M159.1,89.7h.01M160.1,89.1h.01M160.7,78.9h.01M163.4,75.0h.01M170.9,95.1h.01M159.4,89.8h.01M158.7,77.7h.01M161.7,93.0h.01M159.8,77.6h.01M163.3,98.3h.01M162.2,88.0h.01M170.8,87.8h.01M161.2,78.3h.01M163.8,90.7h.01M164.9,78.4h.01M166.3,96.7h.01M168.6,84.9h.01M169.4,74.8h.01M165.4,87.0h.01M165.8,85.5h.01M159.8,97.8h.01M166.1,80.8h.01M167.7,98.5h.01M161.8,89.1h.01M168.8,99.7h.01M170.0,77.2h.01M166.5,84.0h.01M159.2,98.0h.01M161.2,77.1h.01M162.0,90.7h.01M163.7,98.8h.01M163.2,77.1h.01M164.2,73.7h.01M165.9,77.4h.01M163.3,85.3h.01M169.9,76.6h.01M160.2,82.2h.01M163.8,83.8h.01M170.7,98.9h.01M170.2,91.7h.01M167.9,88.4h.01M159.0,77.7h.01M158.8,94.5h.01M166.0,74.0h.01M160.4,75.1h.01M163.9,82.6h.01M163.2,83.4h.01M162.1,85.7h.01M167.8,74.9h.01M167.4,89.4h.01M167.9,77.4h.01M160.3,98.4h.01M170.4,80.6h.01M161.6,82.4h.01M160.9,99.5h.01M163.5,84.9h.01M169.6,90.8h.01M170.1,91.2h.01M162.6,75.2h.01M163.5,87.6h.01M165.3,96.7h.01M161.5,88.4h.01M168.4,99.6h.01M168.4,80.4h.01M168.4,91.9h.01M160.7,88.5h.01M167.9,95.6h.01M159.7,86.7h.01M166.0,77.8h.01M167.5,95.1h.01M164.7,99.8h.01M160.7,80.8h.01M170.6,90.2h.01M160.8,96.2h.01M170.6,76.8h.01M166.2,97.0h.01M164.7,92.8h.01M160.1,91.4h.01M164.3,83.2h.01M163.6,95.4h.01M167.8,84.7h.01M167.9,85.3h.01M163.1,79.3h.01M163.5,74.6h.01M168.7,83.4h.01" stroke="#377eb8" stroke-width="1.10" stroke-linecap="round" fill="none"/>
<path d="M182.3,98.8h.01M174.1,96.0h.01M184.6,98.5h.01M171.5,92.6h.01M173.3,92.5h.01M176.8,95.9h.01M170.4,90.2h.01M174.5,96.5h.01M172.5,90.4h.01M173.7,89.3h.01M178.9,93.8h.01M175.5,90.4h.01M179.8,94.7h.01M181.7,99.4h.01M178.5,97.3h.01M171.8,94.0h.01M175.3,89.9h.01M174.1,90.1h.01M173.4,94.6h.01M172.1,92.5h.01M171.9,92.1h.01M176.2,91.5h.01M173.1,91.6h.01M174.8,95.1h.01M175.8,92.3h.01M177.4,90.2h.01M179.6,95.4h.01M175.7,92.2h.01M173.2,89.7h.01M172.1,90.1h.01M171.8,91.7h.01M175.6,90.7h.01M173.6,94.8h.01M173.9,93.3h.01M176.2,94.9h.01M179.8,96.8h.01M175.6,90.5h.01M180.6,98.3h.01M177.7,92.9h.01M180.1,95.2h.01M180.3,96.7h.01M182.1,97.1h.01M180.4,94.8h.01M175.9,91.4h.01M178.1,92.4h.01M177.5,91.1h.01M184.7,98.6h.01M172.6,92.1h.01M171.2,92.0h.01M171.4,92.4h.01M171.1,89.6h.01M180.8,96.1h.01M178.0,93.6h.01M181.0,97.5h.01M177.7,90.8h.01M173.0,92.2h.01M173.0,93.4h.01M171.7,91.5h.01M184.5,98.5h.01M181.7,98.5h.01M173.2,92.2h.01M177.0,94.2h.01M175.8,91.8h.01M179.2,97.9h.01M172.3,92.7h.01M176.0,92.2h.01M184.8,98.6h.01M172.0,89.9h.01M179.5,94.5h.01M171.3,91.2h.01M183.4,98.0h.01M179.0,95.9h.01M178.8,94.9h.01M177.1,92.7h.01M178.2,94.0h.01M178.1,92.2h.01M174.1,92.4h.01M178.5,95.9h.01M184.5,99.1h.01M173.6,89.9h.01M177.0,98.1h.01M179.0,94.1h.01M177.4,96.6h.01M180.6,97.9h.01M174.7,90.3h.01M171.8,89.5h.01M175.6,96.2h.01M172.8,92.3h.01M174.4,92.8h.01M177.6,98.0h.01" stroke="#377eb8" stroke-width="1.10" stroke-linecap="round" fill="none"/>
<path d="M172.4,82.4h.01M171.3,82.3h.01M168.5,101.2h.01M159.1,85.3h.01M162.7,82.5h.01M174.2,84.6h.01M177.9,85.4h.01M161.1,85.0h.01M168.2,95.8h.01M172.9,77.9h.01M176.2,81.0h.01M171.4,78.6h.01M168.3,95.6h.01M171.5,94.6h.01M178.7,89.6h.01M175.4,83.9h.01M174.5,95.3h.01M167.0,76.2h.01M160.5,82.2h.01M158.1,83.9h.01M168.5,91.7h.01M170.0,100.1h.01M175.8,81.6h.01M164.4,101.2h.01M160.5,99.5h.01M184.8,98.1h.01M177.7,94.8h.01M165.2,72.2h.01M174.8,98.5h.01M169.5,78.9h.01M171.0,75.8h.01M159.4,77.0h.01M175.0,98.3h.01M163.3,82.0h.01M174.6,95.8h.01M173.2,81.4h.01M176.6,95.5h.01M164.8,98.6h.01M164.6,92.2h.01M169.0,83.3h.01M171.0,98.8h.01M175.7,83.7h.01M160.5,82.3h.01M170.1,91.4h.01M184.2,99.3h.01M169.3,78.7h.01M163.0,99.6h.01M161.2,91.4h.01M175.6,77.0h.01M165.4,75.2h.01" stroke="#377eb8" stroke-width="1.00" stroke-linecap="round" fill="none"/>
<path d="M170.8,71.6h.01M161.3,74.0h.01M161.5,69.1h.01M159.7,70.4h.01M160.7,69.6h.01M171.0,70.5h.01M165.9,72.0h.01M175.8,60.7h.01M167.3,73.4h.01M171.3,65.7h.01M163.5,73.3h.01M159.5,70.4h.01M173.2,61.4h.01M163.9,63.6h.01M167.8,64.5h.01M174.1,72.9h.01M163.7,72.4h.01M170.0,71.0h.01M172.7,73.9h.01M173.5,63.0h.01M171.4,72.9h.01M159.7,66.4h.01M160.8,61.1h.01M166.6,69.1h.01M175.5,61.0h.01M167.1,74.0h.01M171.8,67.0h.01M162.4,68.5h.01M162.7,68.7h.01M169.7,64.9h.01M172.3,65.1h.01M166.4,71.5h.01M162.5,61.8h.01M168.3,65.5h.01M173.7,62.7h.01M164.7,59.9h.01M166.1,63.7h.01M166.1,70.5h.01M158.7,73.8h.01M170.8,71.2h.01M167.7,67.6h.01M165.4,64.9h.01M162.0,63.5h.01M163.3,64.0h.01M174.3,71.0h.01M169.5,59.3h.01M162.7,67.1h.01M170.5,65.3h.01M169.4,72.6h.01M162.8,64.7h.01M171.7,63.8h.01M171.0,65.0h.01M159.2,70.8h.01M173.2,66.9h.01M174.2,62.2h.01M166.0,61.6h.01M158.9,71.4h.01M158.9,73.0h.01M168.0,69.5h.01M158.9,72.6h.01" stroke="#ffffff" stroke-width="0.90" stroke-linecap="round" fill="none" stroke-opacity="0.8"/>
<path d="M186.7,74.9h.01M187.3,75.1h.01M186.3,73.4h.01M184.5,74.2h.01M185.3,72.3h.01M188.0,76.4h.01M187.6,75.7h.01M184.6,74.0h.01M186.1,75.3h.01M185.7,74.9h.01M185.2,72.2h.01M187.9,77.4h.01M187.1,76.6h.01M186.5,76.4h.01" stroke="#f3e84a" stroke-width="1.20" stroke-linecap="round" fill="none"/>
<path d="M216.3,79.7h.01M211.1,82.1h.01M215.1,80.8h.01M216.3,81.8h.01M215.0,85.1h.01M214.4,85.0h.01M216.3,84.8h.01M211.9,85.3h.01M205.3,87.4h.01M208.6,84.2h.01M207.0,85.9h.01M215.6,81.7h.01M206.4,85.0h.01M205.1,85.1h.01M209.2,83.2h.01M211.4,84.3h.01M206.0,83.2h.01M216.2,84.1h.01M215.2,80.1h.01M209.3,82.2h.01M207.0,87.9h.01M215.7,83.5h.01M214.4,84.0h.01M208.9,85.0h.01M208.0,86.7h.01M210.9,82.2h.01M210.8,82.1h.01M202.9,86.3h.01M205.9,86.8h.01M206.5,87.0h.01M212.2,83.6h.01M214.4,80.8h.01M205.8,88.4h.01M206.5,85.7h.01M203.0,87.6h.01M215.2,84.6h.01M206.2,88.2h.01M214.3,84.1h.01M216.6,80.3h.01M212.9,82.6h.01M214.7,85.2h.01M215.5,82.9h.01M211.1,81.9h.01M213.8,81.7h.01M216.3,82.5h.01M215.5,85.0h.01M207.8,85.6h.01M208.0,85.6h.01M215.6,85.0h.01M204.5,88.4h.01M213.3,80.7h.01M209.0,86.2h.01M209.7,85.2h.01M204.1,84.6h.01M206.0,87.6h.01M210.3,81.7h.01M206.3,85.8h.01M207.5,87.7h.01M207.7,86.4h.01M210.6,82.0h.01M207.3,86.8h.01M203.9,87.6h.01M205.8,84.7h.01M215.7,84.1h.01M207.7,82.6h.01M214.5,82.7h.01M204.9,85.4h.01M204.8,85.7h.01M205.4,88.0h.01M204.4,87.1h.01M205.2,86.0h.01M212.5,82.4h.01M215.3,81.4h.01M213.8,84.3h.01M215.0,83.7h.01M205.3,88.3h.01M215.1,83.8h.01M207.3,87.2h.01M204.0,86.8h.01M206.0,86.5h.01M215.5,80.4h.01M215.8,80.7h.01M207.1,87.2h.01M208.3,83.6h.01M209.4,84.0h.01M210.1,86.1h.01M211.7,84.1h.01M205.2,87.6h.01M205.0,85.2h.01M204.6,87.2h.01M216.6,81.2h.01M207.0,86.9h.01M213.3,80.8h.01M206.4,87.8h.01M208.3,84.3h.01M206.0,83.8h.01M208.4,86.2h.01M209.3,86.2h.01M210.1,85.1h.01M206.7,83.0h.01M213.0,82.5h.01M209.7,82.4h.01M211.6,81.4h.01M206.9,83.6h.01M212.8,84.2h.01M205.3,88.4h.01M209.3,86.7h.01M203.9,84.9h.01M207.6,87.6h.01M209.4,82.3h.01M205.0,86.1h.01M210.6,85.5h.01M208.1,85.9h.01M213.3,83.4h.01M208.6,87.0h.01M210.1,84.7h.01M215.2,83.0h.01M209.9,83.3h.01M213.4,84.0h.01M205.6,85.7h.01M203.1,86.0h.01M216.6,80.5h.01M216.8,79.3h.01M207.2,85.4h.01M208.3,86.6h.01M210.7,84.4h.01M216.4,80.0h.01M211.9,82.8h.01M214.4,83.8h.01M210.4,83.0h.01M215.0,83.7h.01M206.4,85.7h.01M208.6,84.4h.01M214.8,82.2h.01M208.1,85.1h.01M208.6,87.0h.01M215.2,84.4h.01M210.7,85.7h.01M215.2,84.3h.01M216.9,81.2h.01M211.6,83.6h.01M213.9,84.4h.01M205.0,88.4h.01M207.9,86.5h.01M215.3,80.0h.01M207.5,83.8h.01M211.5,83.9h.01M204.5,86.8h.01M217.0,81.1h.01M212.0,83.4h.01M216.3,83.3h.01M205.6,85.8h.01M204.2,86.8h.01M210.2,81.9h.01M209.7,84.4h.01M208.4,83.9h.01M213.0,81.6h.01M203.4,85.6h.01M205.0,85.9h.01M205.3,88.0h.01M216.7,84.0h.01M210.8,84.2h.01M212.6,82.4h.01M206.6,83.4h.01M215.0,83.6h.01M215.8,80.7h.01M210.7,84.4h.01M207.6,83.5h.01M214.0,83.2h.01M213.8,84.5h.01" stroke="#a65628" stroke-width="1.20" stroke-linecap="round" fill="none"/>
<path d="M227.6,82.7h.01M223.7,85.4h.01M222.9,83.0h.01M218.5,85.6h.01M218.9,85.6h.01M216.3,82.7h.01M225.2,85.4h.01M220.7,82.5h.01M226.2,86.7h.01M224.6,87.0h.01M228.6,84.9h.01M225.9,84.9h.01M223.4,87.3h.01M220.1,82.7h.01M223.7,85.6h.01M224.4,83.5h.01M218.3,84.6h.01M226.6,83.6h.01M217.5,82.8h.01M216.5,84.2h.01M220.3,85.0h.01M219.8,84.4h.01M226.1,86.4h.01M219.4,82.9h.01M226.2,87.7h.01M226.8,83.9h.01M225.7,84.8h.01M218.5,82.6h.01M222.1,83.6h.01M218.8,82.8h.01M222.9,83.4h.01M219.3,85.4h.01M227.7,85.6h.01M224.9,85.3h.01M224.3,83.9h.01M219.8,85.3h.01M226.0,86.5h.01M226.9,84.0h.01M223.3,86.3h.01M222.1,85.6h.01M225.3,82.0h.01M221.5,82.7h.01M225.1,85.8h.01M225.0,86.3h.01M223.2,86.2h.01M227.2,86.0h.01M226.1,87.4h.01M223.9,84.3h.01M220.2,84.8h.01M220.4,85.1h.01M222.2,86.4h.01M219.3,84.2h.01M217.2,83.7h.01M222.5,82.9h.01M222.0,83.0h.01M223.4,85.5h.01M227.2,84.1h.01M227.1,84.0h.01M219.6,84.9h.01M219.8,82.6h.01M227.9,83.5h.01M226.7,86.8h.01M223.7,84.6h.01M217.7,82.7h.01M227.1,83.6h.01M221.5,84.5h.01M224.1,86.3h.01M227.2,85.5h.01M217.7,85.0h.01M216.5,85.2h.01M223.0,83.7h.01M221.3,82.5h.01M220.1,85.4h.01M226.7,86.7h.01M221.4,84.0h.01M221.8,83.4h.01M226.7,86.6h.01M224.1,85.4h.01M221.6,82.5h.01M226.9,85.1h.01M221.0,82.5h.01M216.4,85.1h.01M225.2,87.3h.01M219.5,83.3h.01M223.8,82.5h.01M223.6,86.1h.01M223.1,83.0h.01M225.8,86.9h.01M222.9,83.6h.01M219.5,84.3h.01" stroke="#ff7f00" stroke-width="1.20" stroke-linecap="round" fill="none"/>
<path d="M169.4,96.0h.01M181.1,56.8h.01M161.1,97.4h.01M166.4,61.8h.01M170.6,77.4h.01M163.1,82.8h.01M180.6,55.0h.01M169.0,70.8h.01M162.6,98.5h.01M175.9,50.4h.01M174.6,67.8h.01M164.7,53.9h.01M171.5,48.9h.01M174.1,73.3h.01M163.2,93.1h.01M180.4,57.1h.01M170.6,75.8h.01M170.9,72.2h.01M172.6,71.6h.01M161.4,89.9h.01M167.1,47.6h.01M170.2,89.8h.01M175.7,70.1h.01M171.9,57.1h.01M175.5,64.3h.01" stroke="#984ea3" stroke-width="1.00" stroke-linecap="round" fill="none"/>
<path d="M156.71,134.38 C157.36,132.99 157.87,132.93 159.10,132.54 C160.32,132.15 161.59,131.98 164.04,132.06 C166.50,132.14 171.07,132.55 173.85,133.02 C176.64,133.49 178.96,134.09 180.76,134.86 C182.57,135.63 183.38,136.74 184.69,137.66 C186.00,138.58 187.30,139.54 188.61,140.38 C189.92,141.22 191.38,141.93 192.54,142.70 C193.69,143.47 195.11,144.41 195.52,145.02 C195.93,145.63 195.83,146.38 195.01,146.38 C194.18,146.38 192.12,145.71 190.57,145.02 C189.02,144.33 187.18,142.99 185.71,142.22 C184.25,141.45 183.11,140.77 181.79,140.38 C180.47,139.99 179.10,139.90 177.78,139.90 C176.46,139.90 175.33,139.91 173.85,140.38 C172.38,140.85 170.23,141.78 168.91,142.70 C167.58,143.62 166.49,144.94 165.92,145.90 C165.35,146.86 165.00,147.61 165.49,148.46 C165.99,149.31 166.35,150.55 168.91,151.02 C171.47,151.49 178.86,150.87 180.85,151.26 C182.84,151.65 182.84,153.01 180.85,153.34 C178.86,153.67 170.83,152.94 168.91,153.26 C166.99,153.58 169.16,154.26 169.33,155.26 C169.50,156.26 169.50,157.82 169.93,159.26 C170.36,160.70 171.39,162.05 171.89,163.90 C172.39,165.75 172.26,168.53 172.92,170.38 C173.57,172.23 174.84,173.79 175.82,175.02 C176.80,176.25 178.30,176.51 178.80,177.74 C179.30,178.97 179.30,181.14 178.80,182.38 C178.30,183.62 177.12,184.26 175.82,185.18 C174.51,186.10 172.59,187.06 170.95,187.90 C169.32,188.74 167.66,190.06 166.01,190.22 C164.36,190.38 162.69,189.55 161.06,188.86 C159.42,188.17 157.51,187.45 156.20,186.06 C154.89,184.67 153.79,182.38 153.21,180.54 C152.63,178.70 152.46,176.87 152.70,175.02 C152.94,173.17 154.08,171.27 154.66,169.42 C155.24,167.57 155.94,165.74 156.20,163.90 C156.45,162.06 156.37,160.22 156.20,158.38 C156.03,156.54 155.43,154.71 155.17,152.86 C154.92,151.01 154.66,149.26 154.66,147.26 C154.66,145.26 154.83,143.01 155.17,140.86 C155.51,138.71 156.06,135.77 156.71,134.38Z" fill="#cbcbcb"/>
<path d="M169.76,131.66 C170.04,130.79 172.46,128.46 174.02,127.26 C175.59,126.06 177.29,125.26 179.14,124.46 C180.99,123.66 182.98,122.93 185.11,122.46 C187.25,121.99 189.66,121.66 191.94,121.66 C194.21,121.66 196.49,122.13 198.76,122.46 C201.04,122.79 203.74,123.39 205.59,123.66 C207.43,123.93 208.64,123.66 209.85,124.06 C211.06,124.46 212.27,125.13 212.84,126.06 C213.41,126.99 213.62,128.66 213.26,129.66 C212.91,130.66 211.49,131.93 210.70,132.06 C209.92,132.19 209.14,131.26 208.57,130.46 C208.00,129.66 208.22,127.99 207.29,127.26 C206.37,126.53 204.88,126.39 203.03,126.06 C201.18,125.73 198.48,125.46 196.20,125.26 C193.93,125.06 191.51,124.73 189.38,124.86 C187.25,124.99 185.40,125.46 183.41,126.06 C181.42,126.66 179.29,127.39 177.44,128.46 C175.59,129.53 173.60,131.93 172.32,132.46 C171.04,132.99 169.48,132.53 169.76,131.66Z" fill="#cbcbcb"/>
<path d="M208.32,150.70 C209.27,150.18 211.54,149.51 213.18,149.90 C214.81,150.29 216.21,152.50 218.13,153.02 C220.04,153.54 222.77,152.77 224.69,153.02 C226.61,153.27 229.10,153.65 229.64,154.54 C230.18,155.43 229.03,156.97 227.93,158.38 C226.84,159.79 224.44,161.47 223.07,163.02 C221.71,164.57 221.11,166.13 219.75,167.66 C218.38,169.19 216.79,171.07 214.88,172.22 C212.98,173.37 210.50,174.27 208.32,174.54 C206.13,174.81 203.40,174.71 201.75,173.82 C200.10,172.93 199.10,170.73 198.42,169.18 C197.74,167.63 197.10,165.70 197.65,164.54 C198.21,163.38 200.11,162.73 201.75,162.22 C203.38,161.71 206.37,162.39 207.46,161.50 C208.56,160.61 208.32,158.27 208.32,156.86 C208.32,155.45 207.46,154.05 207.46,153.02 C207.46,151.99 207.36,151.22 208.32,150.70Z" fill="#cbcbcb"/>
<path d="M172.3,183.1h.01M158.2,152.3h.01M158.3,169.4h.01M178.6,138.7h.01M174.7,180.5h.01M166.2,176.1h.01M162.4,141.0h.01M159.7,150.0h.01M161.7,157.3h.01M156.5,167.6h.01M157.5,181.0h.01M172.5,137.8h.01M166.9,186.1h.01M164.9,163.1h.01M177.2,178.0h.01M159.1,154.4h.01M157.3,174.8h.01M160.8,133.2h.01M173.2,185.0h.01M159.5,187.8h.01M167.1,177.0h.01M155.2,142.9h.01M163.3,178.6h.01M169.6,171.0h.01M171.0,162.6h.01M154.2,181.8h.01M183.7,138.6h.01M159.8,142.9h.01M167.1,167.1h.01M173.4,172.0h.01M160.2,133.8h.01M156.7,186.3h.01M161.3,180.3h.01M169.5,135.1h.01M184.0,139.0h.01M176.7,151.9h.01M177.5,152.9h.01M161.7,166.7h.01M157.7,139.9h.01M157.8,136.0h.01M170.9,137.4h.01M177.3,136.3h.01M159.5,166.7h.01M162.9,176.0h.01M165.4,160.8h.01M162.5,134.9h.01M156.3,172.6h.01M169.9,172.5h.01M161.2,156.4h.01M165.6,172.7h.01M160.0,156.8h.01M166.6,176.1h.01M157.3,171.7h.01M156.3,147.6h.01M155.1,169.1h.01M185.6,139.4h.01M171.1,164.7h.01M166.6,160.2h.01M190.8,144.2h.01M167.2,143.8h.01M154.4,179.4h.01M169.6,140.6h.01M161.4,182.2h.01M189.4,142.6h.01M164.4,154.9h.01M167.3,141.7h.01M156.8,186.0h.01M163.1,135.6h.01M169.6,169.8h.01M163.3,158.9h.01M162.3,173.6h.01M175.4,181.2h.01M159.2,183.4h.01M165.6,163.1h.01M176.3,181.1h.01M163.2,170.5h.01M161.2,181.8h.01M162.4,186.6h.01M154.9,147.4h.01M162.1,165.6h.01M174.0,178.1h.01M161.9,171.8h.01M174.2,136.8h.01M157.4,143.1h.01M165.3,158.4h.01M166.1,139.4h.01M169.9,168.7h.01M172.1,183.2h.01M172.8,174.0h.01M186.8,140.4h.01" stroke="#ffffff" stroke-width="0.90" stroke-linecap="round" fill="none" stroke-opacity="0.85"/>
<path d="M178.3,127.3h.01M188.4,123.1h.01M193.0,124.6h.01M195.8,123.5h.01M174.9,126.9h.01M177.2,127.3h.01M190.1,124.9h.01M178.7,127.1h.01M196.0,122.4h.01M177.8,125.3h.01M184.6,125.3h.01M186.8,123.2h.01M191.0,122.6h.01M175.0,126.9h.01M177.3,127.1h.01M189.8,123.3h.01M184.7,123.6h.01M179.5,125.5h.01M180.2,124.5h.01M179.9,125.4h.01M177.1,128.0h.01M188.4,124.0h.01M190.6,124.1h.01M189.5,122.8h.01M197.6,122.5h.01M177.9,126.8h.01M196.6,122.2h.01M189.3,122.4h.01M175.4,126.6h.01M179.1,126.4h.01M178.5,126.9h.01M179.8,127.0h.01M191.0,124.2h.01M187.7,124.7h.01M191.9,123.9h.01M175.7,126.7h.01M200.0,125.4h.01M193.6,123.0h.01M195.9,122.5h.01M197.5,122.5h.01M197.4,123.8h.01M191.8,124.3h.01M181.1,125.5h.01M191.3,122.3h.01M180.5,126.8h.01M185.7,125.2h.01M174.4,127.6h.01M188.8,123.6h.01M196.5,124.3h.01M184.0,123.8h.01M187.5,124.1h.01M191.9,122.3h.01M178.8,127.9h.01M194.9,122.1h.01M176.4,127.9h.01M187.2,123.3h.01M183.1,123.8h.01M181.5,123.8h.01M191.4,124.7h.01M198.0,124.8h.01M199.1,123.2h.01M178.8,125.4h.01M186.2,124.3h.01M186.2,123.4h.01M198.4,125.4h.01M185.5,123.6h.01M194.0,121.9h.01M183.5,123.7h.01M192.4,123.7h.01M199.8,123.9h.01M184.3,124.3h.01M178.8,125.7h.01M176.0,127.6h.01M196.6,122.8h.01M198.5,123.6h.01M186.3,124.8h.01M199.9,124.2h.01M174.5,127.3h.01M192.2,122.1h.01M190.6,123.6h.01M185.6,125.2h.01M198.7,124.0h.01M191.6,121.7h.01M181.5,124.2h.01M199.1,122.7h.01M181.9,126.2h.01M196.1,124.9h.01M180.7,125.5h.01M193.1,122.6h.01M192.8,122.7h.01M199.9,125.4h.01M180.2,126.5h.01M189.7,122.3h.01M190.5,123.3h.01M191.9,124.4h.01M184.4,124.4h.01M176.1,127.6h.01M197.6,125.0h.01M191.2,123.8h.01M197.3,123.9h.01M192.2,124.6h.01M193.3,124.7h.01M186.0,124.7h.01M195.6,123.8h.01M191.9,123.1h.01M183.1,125.6h.01M196.8,124.6h.01M197.1,123.0h.01M198.7,124.6h.01M177.4,125.8h.01M182.7,124.2h.01M178.2,125.3h.01M180.9,126.9h.01M185.3,123.3h.01M186.7,124.9h.01M177.2,127.0h.01M197.6,123.2h.01M181.2,126.7h.01M186.9,124.8h.01M187.4,123.7h.01M177.1,127.2h.01M178.7,125.1h.01M189.3,122.7h.01M176.7,126.3h.01M198.7,122.6h.01M182.1,124.2h.01M183.8,126.0h.01M186.5,123.9h.01M192.7,122.8h.01M185.5,124.5h.01M175.7,127.0h.01M179.9,126.5h.01M199.0,124.3h.01M185.5,125.2h.01M194.3,124.0h.01M198.9,122.7h.01M182.0,123.7h.01M181.7,125.5h.01M193.4,123.8h.01M184.5,123.0h.01M179.3,125.5h.01M196.5,123.5h.01M198.6,124.3h.01M197.9,124.0h.01M195.0,124.5h.01M190.1,122.7h.01M180.0,124.9h.01M184.8,124.3h.01M189.1,124.2h.01M192.2,121.8h.01M186.8,123.3h.01M179.8,124.9h.01M186.9,123.7h.01M178.6,127.5h.01M186.1,123.9h.01M179.7,125.0h.01M183.9,124.5h.01M190.0,122.2h.01M182.9,124.1h.01M187.6,124.6h.01M192.2,122.7h.01M198.5,123.1h.01M195.9,125.1h.01M185.1,123.8h.01M189.6,122.6h.01M190.7,124.3h.01M180.9,124.5h.01M179.9,126.1h.01M175.8,127.6h.01M185.3,125.1h.01" stroke="#e41a1c" stroke-width="1.20" stroke-linecap="round" fill="none"/>
<path d="M209.6,126.6h.01M205.0,125.3h.01M208.8,125.6h.01M205.0,125.9h.01M210.3,126.7h.01M210.6,126.0h.01M210.3,127.0h.01M206.4,125.6h.01M210.5,126.1h.01M210.8,125.8h.01M205.1,123.7h.01M203.9,123.6h.01M208.7,124.2h.01M208.8,126.1h.01M204.5,124.3h.01M211.9,126.3h.01M208.0,126.6h.01M210.6,127.3h.01M208.9,124.5h.01M208.3,128.2h.01M204.0,126.2h.01M210.1,124.7h.01M203.6,124.4h.01M211.7,128.0h.01M209.1,125.5h.01M205.4,126.3h.01M204.0,124.8h.01M211.2,128.0h.01M205.7,126.3h.01M209.9,125.5h.01M210.0,125.5h.01M203.0,123.9h.01M210.9,127.7h.01M210.9,128.6h.01M203.8,125.1h.01M207.3,125.6h.01M207.9,127.0h.01M204.8,123.8h.01M212.0,126.4h.01M206.9,125.4h.01M206.0,125.9h.01M205.1,126.5h.01M211.4,125.8h.01M203.9,124.7h.01M206.8,125.0h.01" stroke="#4daf4a" stroke-width="1.20" stroke-linecap="round" fill="none"/>
<path d="M158.4,161.8h.01M167.4,168.1h.01M163.7,162.5h.01M156.3,161.2h.01M162.3,169.2h.01M165.3,167.4h.01M163.4,156.3h.01M170.5,168.6h.01M162.4,154.8h.01M164.7,162.4h.01M169.1,164.3h.01M164.6,163.9h.01M162.4,153.9h.01M171.1,162.9h.01M165.9,170.7h.01M167.5,154.8h.01M166.6,168.0h.01M165.0,166.3h.01M158.8,169.1h.01M166.1,160.0h.01M159.2,164.5h.01M157.9,162.4h.01M157.5,165.6h.01M158.6,168.3h.01M157.9,163.2h.01M163.5,153.7h.01M161.7,166.6h.01M164.5,170.8h.01M168.0,169.0h.01M168.1,154.8h.01M162.9,166.0h.01M165.8,157.9h.01M166.0,170.3h.01M161.6,159.6h.01M159.2,156.4h.01M170.1,166.4h.01M159.2,157.1h.01M159.8,161.7h.01M165.3,164.7h.01M164.7,170.4h.01M165.8,158.0h.01M158.2,167.5h.01M167.9,155.4h.01M166.6,156.8h.01M163.2,153.3h.01M162.4,159.2h.01M160.4,155.5h.01M165.8,166.2h.01M160.6,166.3h.01M160.6,165.3h.01M157.3,166.4h.01M158.4,157.2h.01M168.4,162.0h.01M166.9,158.4h.01M167.4,158.7h.01M164.2,161.4h.01M171.5,167.3h.01M165.3,169.1h.01M166.4,166.8h.01M164.8,163.9h.01M166.9,168.6h.01M166.3,153.5h.01M167.9,170.2h.01M168.4,162.8h.01M160.4,162.2h.01M163.9,158.6h.01M161.8,161.4h.01M160.5,155.6h.01M169.7,159.8h.01M162.2,167.9h.01M167.9,161.5h.01M161.3,168.1h.01M160.0,161.8h.01M160.1,164.3h.01M165.0,153.9h.01M169.4,157.1h.01M166.0,166.6h.01M164.5,170.4h.01M159.2,157.8h.01M164.8,155.5h.01M168.9,157.8h.01M158.6,166.2h.01M162.7,160.1h.01M163.5,161.7h.01M164.0,165.3h.01M157.8,165.8h.01M164.3,168.5h.01M160.9,165.7h.01M159.5,166.3h.01M167.6,163.3h.01M164.2,171.1h.01M162.1,154.6h.01M161.6,153.8h.01M159.1,164.9h.01M159.5,169.2h.01M163.0,154.1h.01M166.8,154.6h.01M166.4,157.6h.01M157.9,158.8h.01M167.4,168.4h.01M167.2,157.3h.01M160.7,164.6h.01M169.5,164.9h.01M161.5,168.2h.01M163.0,164.9h.01M170.4,165.6h.01M163.8,164.2h.01M159.5,161.3h.01M170.2,162.2h.01M165.8,167.6h.01M157.9,161.4h.01M163.8,155.3h.01M166.7,157.8h.01M167.8,162.6h.01M164.9,157.4h.01M161.3,154.9h.01M164.9,154.4h.01M157.9,161.2h.01M167.6,156.8h.01M167.2,163.6h.01M160.8,161.1h.01M157.5,164.6h.01M157.0,161.1h.01M161.1,159.8h.01M161.2,155.4h.01M167.0,158.8h.01M160.6,158.9h.01M162.0,168.1h.01M159.7,155.4h.01M161.6,163.8h.01M160.8,155.1h.01M162.1,171.3h.01M163.4,156.3h.01M167.4,166.7h.01M160.4,164.9h.01M157.7,159.0h.01M160.9,168.1h.01M166.5,162.7h.01M163.4,163.5h.01M164.2,157.9h.01M170.1,168.1h.01M162.6,160.7h.01M169.0,156.2h.01M159.2,159.6h.01M166.6,159.1h.01M164.8,162.7h.01M171.6,164.0h.01M160.6,165.0h.01M165.5,158.8h.01M157.0,166.5h.01M163.7,167.2h.01M160.3,165.4h.01M160.5,156.3h.01M163.5,162.5h.01M162.5,163.3h.01M167.9,155.6h.01M170.0,159.8h.01M163.6,159.8h.01M166.1,167.4h.01M158.6,162.2h.01M160.8,158.2h.01M162.7,164.9h.01M163.8,166.3h.01M170.2,166.3h.01M161.7,166.8h.01M170.1,161.4h.01M166.8,160.2h.01M160.1,161.1h.01M166.0,160.1h.01M161.6,165.0h.01M161.4,162.3h.01M157.4,159.1h.01M157.9,162.2h.01M161.6,160.2h.01M165.9,153.7h.01M165.7,170.4h.01M157.0,162.0h.01M167.8,167.5h.01M163.3,159.6h.01M169.6,168.4h.01M163.7,167.9h.01M161.6,170.1h.01M168.7,164.8h.01M170.3,165.8h.01M162.4,171.0h.01M163.4,158.9h.01M169.7,159.7h.01M163.1,163.8h.01M166.4,153.9h.01M157.6,158.6h.01M163.3,168.2h.01M169.6,167.1h.01M168.4,162.7h.01M157.5,159.7h.01M161.5,159.2h.01M164.1,156.4h.01M165.3,155.2h.01M169.4,168.9h.01M163.0,169.8h.01M167.3,163.6h.01M166.8,161.4h.01M159.9,169.6h.01M162.5,163.5h.01M166.5,159.9h.01M162.5,159.4h.01M162.1,155.5h.01M165.1,161.8h.01M163.5,164.4h.01M156.2,163.7h.01M167.6,163.5h.01M171.6,166.0h.01M164.8,160.2h.01M159.7,161.7h.01M166.5,163.0h.01M157.5,157.6h.01M160.4,154.7h.01M161.3,165.8h.01M164.3,162.8h.01M163.7,153.6h.01M169.8,166.3h.01M159.8,164.1h.01M167.3,158.3h.01M163.0,168.1h.01M166.3,171.5h.01M159.3,158.0h.01M161.7,158.3h.01M164.4,153.4h.01M159.6,160.5h.01M162.4,166.4h.01M163.1,169.4h.01M158.0,164.5h.01M157.1,160.9h.01M159.3,168.7h.01M162.9,168.8h.01M166.1,167.2h.01M167.3,167.9h.01M168.5,168.3h.01M162.6,156.3h.01M160.0,168.5h.01M158.0,167.5h.01M168.5,166.8h.01M169.4,160.0h.01M167.6,167.0h.01M159.9,155.3h.01M157.0,158.8h.01M169.2,157.3h.01M170.2,165.4h.01M158.0,159.3h.01M165.9,171.4h.01M165.9,162.5h.01M164.5,162.7h.01M168.2,158.7h.01M161.1,155.5h.01M159.8,159.7h.01M164.2,161.3h.01M166.3,166.7h.01M163.5,162.5h.01M168.7,167.3h.01M162.5,165.2h.01M161.0,162.7h.01M170.3,166.9h.01M165.8,170.0h.01M161.9,163.5h.01M159.7,162.7h.01M169.0,159.0h.01M157.4,164.3h.01M158.7,159.6h.01M167.6,167.5h.01M167.6,159.0h.01M158.4,160.0h.01M164.9,167.3h.01M166.2,166.6h.01M166.6,166.2h.01M165.1,163.8h.01M164.7,164.3h.01M165.8,168.2h.01M163.5,155.3h.01M170.6,164.8h.01M169.6,168.7h.01M156.5,163.4h.01M158.7,158.5h.01M159.1,162.8h.01M161.5,154.6h.01M169.7,169.1h.01M165.3,169.8h.01M165.1,156.1h.01M169.7,163.3h.01M162.5,154.8h.01M160.7,165.0h.01M167.9,170.7h.01M161.1,155.1h.01M169.9,159.7h.01M157.9,158.7h.01M161.9,153.7h.01M165.5,161.5h.01M156.6,163.3h.01M161.8,168.4h.01M158.7,158.5h.01M165.1,159.2h.01M158.2,163.9h.01M170.3,164.5h.01M157.0,166.3h.01M164.2,169.8h.01M159.3,158.3h.01M168.9,154.5h.01M159.5,161.4h.01M164.8,158.5h.01M161.9,167.5h.01M167.7,161.4h.01M160.3,161.7h.01M170.3,164.6h.01M160.5,159.3h.01M168.4,170.1h.01M161.3,161.2h.01M160.0,163.7h.01M165.2,167.5h.01M167.3,166.3h.01M169.6,158.0h.01M168.6,161.5h.01M167.2,160.0h.01M163.1,155.6h.01M159.7,168.0h.01M162.5,164.8h.01M164.9,162.4h.01M166.4,162.2h.01M157.3,162.6h.01M165.1,153.3h.01M161.6,155.1h.01M157.7,161.4h.01M164.4,167.2h.01M167.6,167.0h.01M164.4,167.0h.01M168.7,168.7h.01M157.4,165.9h.01M169.1,164.9h.01M166.1,158.8h.01M162.0,157.3h.01M165.0,170.6h.01M163.9,165.7h.01M166.3,154.7h.01M157.4,158.0h.01M171.0,167.5h.01M158.4,158.4h.01M162.2,157.3h.01M161.6,160.3h.01M159.4,165.9h.01M170.4,165.7h.01M168.7,159.3h.01M156.9,165.4h.01M168.1,170.2h.01M167.9,162.2h.01M161.3,164.6h.01M162.0,155.9h.01M164.0,163.6h.01M167.6,166.2h.01M161.4,162.0h.01M168.7,170.5h.01M168.2,162.6h.01M156.3,161.6h.01M164.4,163.5h.01M165.2,161.7h.01M163.2,163.1h.01M161.4,168.0h.01M161.9,169.9h.01M168.5,167.4h.01M162.1,158.3h.01M162.2,167.5h.01M159.1,167.6h.01M160.8,163.7h.01M160.3,160.4h.01M166.8,156.1h.01M161.2,160.4h.01M162.6,160.4h.01M160.2,155.3h.01M168.7,162.5h.01M161.7,162.6h.01M162.8,157.1h.01M164.4,163.6h.01M162.6,167.3h.01M166.3,161.8h.01M167.2,159.0h.01M168.6,164.0h.01M157.1,165.8h.01M160.4,168.3h.01M162.3,158.4h.01M162.4,164.2h.01M161.6,157.1h.01M163.4,156.7h.01M166.8,164.0h.01M157.3,165.6h.01M168.3,156.5h.01M166.6,166.0h.01M160.9,167.3h.01M161.4,158.6h.01M165.9,156.6h.01M168.9,163.6h.01M164.6,164.0h.01M163.8,163.8h.01M158.4,166.1h.01M163.1,154.8h.01M160.7,160.6h.01M167.7,160.2h.01M169.8,164.2h.01M168.8,162.7h.01M162.0,168.0h.01M164.4,163.9h.01M163.7,161.1h.01M164.9,165.5h.01M167.1,165.7h.01M171.1,163.1h.01M165.5,160.3h.01M168.2,165.2h.01M157.7,167.8h.01M159.1,157.3h.01M168.5,161.4h.01M161.9,167.0h.01M162.3,170.9h.01M158.0,164.4h.01M163.2,158.7h.01M163.6,166.2h.01" stroke="#e41a1c" stroke-width="1.20" stroke-linecap="round" fill="none"/>
<path d="M164.1,180.9h.01M158.2,169.6h.01M154.7,169.2h.01M156.0,180.3h.01M163.1,177.9h.01M173.1,176.2h.01M170.8,171.5h.01M166.3,189.2h.01M157.0,174.7h.01M158.9,170.1h.01M172.6,187.0h.01M165.0,169.8h.01M173.8,185.2h.01M171.9,176.2h.01M177.6,182.9h.01M169.9,180.9h.01M158.5,179.0h.01M176.4,184.0h.01M162.1,187.0h.01M156.0,173.9h.01M171.7,181.0h.01M157.4,171.5h.01M161.9,187.4h.01M170.4,170.3h.01M164.9,170.1h.01M170.9,171.7h.01M156.7,183.1h.01M177.7,182.6h.01M160.4,183.2h.01M159.7,169.1h.01M159.8,184.1h.01M171.0,173.2h.01M159.4,170.4h.01M167.4,188.0h.01M170.2,181.0h.01M166.6,175.3h.01M160.6,177.9h.01M153.3,174.5h.01M153.4,178.7h.01M175.7,175.1h.01M168.1,187.2h.01M158.8,184.4h.01M168.9,170.6h.01M159.7,178.1h.01M159.0,174.1h.01M170.1,180.6h.01M161.2,176.2h.01M166.9,189.0h.01M176.7,177.4h.01M173.0,178.9h.01M158.1,184.2h.01M161.0,180.8h.01M157.8,171.8h.01M157.0,169.3h.01M154.9,177.6h.01M167.0,183.0h.01M160.9,171.8h.01M172.7,184.2h.01M161.3,182.1h.01M161.2,183.4h.01M169.0,187.9h.01M164.7,189.7h.01M158.9,175.0h.01M155.8,174.8h.01M163.9,186.5h.01M172.1,172.8h.01M156.7,178.9h.01M176.2,184.2h.01M163.1,179.1h.01M166.4,183.1h.01M156.6,169.9h.01M158.2,178.4h.01M160.7,172.8h.01M171.4,183.6h.01M161.4,184.6h.01M166.9,169.1h.01M169.9,175.4h.01M171.9,185.7h.01M161.9,183.7h.01M176.5,179.5h.01M163.3,172.6h.01M168.0,176.9h.01M168.9,187.3h.01M166.9,189.8h.01M161.6,174.0h.01M171.4,171.5h.01M171.2,181.7h.01M164.9,184.2h.01M163.4,189.4h.01M169.9,183.8h.01M168.1,171.5h.01M167.8,189.2h.01M157.6,174.6h.01M159.8,174.1h.01M177.0,180.8h.01M153.7,180.2h.01M157.3,169.3h.01M173.3,177.8h.01M157.2,181.5h.01M164.7,178.3h.01M161.5,169.9h.01M161.4,182.9h.01M168.2,181.9h.01M156.1,169.9h.01M175.4,184.7h.01M160.8,185.1h.01M160.2,182.2h.01M166.7,174.3h.01M161.4,175.0h.01M168.6,177.8h.01M167.6,177.2h.01M162.2,169.5h.01M163.8,183.0h.01M166.7,183.2h.01M164.4,186.3h.01M168.5,169.0h.01M163.5,183.1h.01M159.3,173.1h.01M171.6,179.1h.01M160.8,169.7h.01M156.7,178.5h.01M164.6,178.5h.01M153.7,175.6h.01M164.1,185.6h.01M154.7,182.9h.01M163.1,186.0h.01M172.8,173.2h.01M173.6,177.1h.01M161.0,180.4h.01M160.4,177.6h.01M169.5,174.2h.01M156.6,179.0h.01M160.9,180.3h.01M159.1,169.2h.01M162.0,170.2h.01M162.9,187.1h.01M157.6,177.2h.01M164.3,184.0h.01M165.2,187.4h.01M160.2,185.5h.01M155.9,182.0h.01M161.0,176.4h.01M159.5,169.7h.01M172.3,183.5h.01M164.8,182.0h.01M163.5,185.4h.01M172.4,174.0h.01M177.0,181.3h.01M174.7,185.4h.01M157.6,170.6h.01M176.0,183.7h.01M164.5,183.4h.01M162.0,183.3h.01M159.7,174.1h.01M155.7,184.1h.01M170.9,170.5h.01M155.4,171.3h.01M177.5,178.2h.01M160.1,174.5h.01M152.9,175.3h.01M173.3,185.5h.01M156.4,182.6h.01M174.7,178.1h.01M170.7,172.2h.01M174.6,178.6h.01M169.4,178.1h.01M177.1,178.0h.01M166.6,188.4h.01M164.5,178.6h.01M158.6,184.0h.01M173.9,183.8h.01M166.7,171.5h.01M157.6,171.8h.01M155.6,180.3h.01M175.1,184.4h.01M170.9,187.8h.01M177.9,181.4h.01M173.6,182.4h.01M166.4,171.0h.01M173.0,170.7h.01M163.2,188.9h.01M163.1,187.1h.01M160.4,184.9h.01M154.5,176.5h.01M163.7,188.5h.01M165.7,187.6h.01M157.2,182.1h.01M161.0,170.5h.01M174.9,185.1h.01M167.0,182.8h.01M170.3,172.7h.01M161.6,184.1h.01M153.0,174.5h.01M164.2,185.8h.01M168.3,170.8h.01M171.5,170.6h.01M167.6,169.1h.01M158.6,175.0h.01M156.6,185.6h.01M159.6,183.7h.01M168.6,188.2h.01M161.9,169.0h.01M171.5,181.4h.01M168.9,186.8h.01M171.2,182.3h.01M162.1,183.5h.01M161.5,188.9h.01M160.5,184.8h.01M168.1,180.5h.01M168.1,172.1h.01M176.0,182.5h.01M166.5,180.4h.01M162.7,173.4h.01M165.6,184.3h.01M153.5,174.5h.01M160.3,185.9h.01M166.7,188.3h.01M163.7,172.9h.01M159.9,169.6h.01M166.8,179.1h.01M163.8,183.3h.01M169.9,176.2h.01M173.1,172.5h.01M172.2,177.9h.01M166.5,171.2h.01M171.8,169.2h.01M176.4,177.2h.01M173.6,180.0h.01M170.0,169.2h.01M171.6,171.0h.01M156.4,176.1h.01M172.7,172.3h.01M175.0,184.8h.01M169.1,177.5h.01M170.4,184.5h.01M162.7,169.2h.01M162.1,188.0h.01M175.8,175.0h.01M173.5,175.4h.01M159.7,169.8h.01M164.3,170.4h.01M153.5,173.5h.01M174.7,175.6h.01M165.8,187.9h.01M172.7,169.9h.01M156.1,170.0h.01M167.4,175.3h.01M174.7,178.5h.01M154.5,177.2h.01M178.6,177.7h.01M172.6,181.6h.01M161.1,185.1h.01M170.7,175.2h.01M170.5,176.9h.01M172.4,180.1h.01M169.7,174.1h.01M153.3,179.3h.01M166.8,180.6h.01M165.7,170.9h.01M160.4,188.3h.01" stroke="#e41a1c" stroke-width="1.00" stroke-linecap="round" fill="none"/>
<path d="M159.7,179.7h.01M153.6,176.5h.01M160.1,171.6h.01M161.0,185.4h.01M174.6,173.6h.01M153.4,178.0h.01M156.5,174.5h.01M175.0,176.0h.01M163.4,188.3h.01M174.9,183.5h.01M176.9,183.2h.01M170.0,170.3h.01M162.2,182.8h.01M170.9,175.5h.01M164.3,187.4h.01M155.6,179.0h.01M153.8,177.5h.01M172.1,180.5h.01M160.2,175.6h.01M156.9,182.7h.01M169.4,177.0h.01M159.9,178.7h.01M171.6,180.4h.01M172.2,179.9h.01M155.8,169.5h.01M163.6,182.3h.01M175.1,178.8h.01M178.2,177.6h.01M177.7,177.4h.01M163.9,177.3h.01M158.5,177.0h.01M167.6,184.6h.01M172.8,182.0h.01M169.8,170.2h.01M158.2,170.1h.01M170.9,177.1h.01M171.9,186.9h.01M177.8,177.4h.01M163.3,187.3h.01M153.0,177.0h.01M168.7,177.6h.01M158.0,177.9h.01M174.8,183.7h.01M169.9,186.1h.01M164.1,181.8h.01M172.4,182.8h.01M171.9,175.1h.01M171.1,172.2h.01M169.1,176.5h.01M163.2,169.4h.01M154.9,180.8h.01M164.2,176.5h.01M165.1,182.8h.01M167.1,175.0h.01M168.1,174.2h.01M172.1,179.0h.01M165.9,171.4h.01M164.4,173.3h.01M167.6,188.1h.01M167.7,182.9h.01M173.2,178.1h.01M163.6,188.2h.01M171.0,169.5h.01M170.0,185.4h.01M167.0,184.6h.01M162.1,177.1h.01M162.0,175.5h.01M168.4,169.9h.01M175.2,182.4h.01M161.8,182.7h.01M164.5,172.8h.01M156.2,171.3h.01M172.9,177.3h.01M160.1,171.2h.01M162.8,185.8h.01M165.2,182.6h.01M154.0,171.7h.01M171.3,175.2h.01M158.6,178.9h.01M164.2,189.5h.01M170.7,176.9h.01M171.6,170.2h.01M165.7,179.9h.01M177.6,183.4h.01M156.5,179.2h.01M163.7,173.2h.01M160.0,173.8h.01M171.9,185.5h.01M159.6,183.8h.01M170.6,176.8h.01M159.8,170.9h.01M162.9,183.4h.01M165.3,174.2h.01M164.8,173.9h.01M164.7,173.2h.01M161.0,184.1h.01M177.7,179.9h.01M167.5,169.4h.01M172.6,180.1h.01M161.9,187.8h.01M161.9,180.2h.01M166.6,184.8h.01M169.1,174.0h.01M156.6,181.8h.01M156.3,183.0h.01M170.5,179.5h.01M160.7,181.5h.01M163.2,169.1h.01M165.2,181.0h.01M174.9,183.0h.01M171.3,187.3h.01M172.1,178.2h.01M164.8,189.7h.01M164.3,177.8h.01M157.1,182.8h.01M163.2,185.4h.01M167.0,179.3h.01M174.0,184.0h.01M161.4,183.1h.01M155.2,175.3h.01M166.7,171.2h.01M177.8,180.9h.01M172.0,174.3h.01M172.8,176.4h.01M155.3,172.0h.01M175.2,181.1h.01M173.2,172.8h.01M171.5,186.0h.01M153.7,172.9h.01M165.7,176.2h.01M178.1,181.3h.01M166.0,177.6h.01M156.4,173.1h.01M159.7,169.3h.01M156.3,181.9h.01M167.2,179.9h.01M168.4,181.7h.01M175.7,175.7h.01M176.8,180.8h.01M160.1,176.1h.01M171.8,176.8h.01M168.5,187.4h.01M161.9,182.3h.01M170.5,170.1h.01M168.1,171.8h.01M161.4,183.7h.01M173.0,183.8h.01M161.3,171.4h.01M168.0,183.7h.01M174.9,179.2h.01M158.4,180.8h.01M178.4,179.7h.01M172.9,172.6h.01M172.6,180.8h.01M176.5,179.9h.01M165.3,178.7h.01M167.8,174.4h.01M174.5,174.6h.01M163.8,189.1h.01M170.3,184.6h.01M158.5,187.2h.01M176.5,181.9h.01M158.3,186.6h.01M160.4,173.9h.01M159.8,172.5h.01M157.4,186.3h.01M165.3,169.0h.01M159.4,180.1h.01M166.3,170.5h.01M159.1,172.3h.01M159.4,173.8h.01M173.6,177.8h.01M161.6,178.0h.01M165.9,178.1h.01M162.0,182.5h.01M162.2,173.3h.01M159.8,186.3h.01M169.5,170.2h.01M159.1,176.8h.01M158.7,173.3h.01M164.1,188.1h.01M160.6,180.3h.01M164.2,182.2h.01M154.3,171.7h.01M161.8,173.4h.01M163.1,175.2h.01M176.0,183.5h.01M162.9,174.5h.01M169.2,176.8h.01M166.8,172.1h.01M157.7,182.4h.01M168.4,179.3h.01M178.6,179.4h.01M153.9,179.2h.01M158.8,178.8h.01M173.0,182.7h.01M166.7,178.6h.01M155.5,170.1h.01M153.5,173.8h.01M157.8,180.5h.01" stroke="#377eb8" stroke-width="1.10" stroke-linecap="round" fill="none"/>
<path d="M170.7,181.8h.01M167.1,187.3h.01M162.7,183.2h.01M167.0,188.4h.01M163.8,186.9h.01M171.0,183.3h.01M165.7,178.9h.01M165.6,177.9h.01M169.0,183.5h.01M161.3,179.7h.01M166.1,186.3h.01M163.3,178.3h.01M164.3,177.8h.01M164.0,187.5h.01M162.2,180.6h.01M169.3,179.4h.01M161.4,180.0h.01M167.3,185.5h.01M168.1,177.8h.01M163.4,178.4h.01M166.7,181.4h.01M169.0,183.8h.01M167.0,179.1h.01M166.5,177.8h.01M168.6,179.2h.01M163.6,183.9h.01M167.8,177.4h.01M169.3,181.4h.01M161.0,181.7h.01M167.8,178.6h.01M164.6,186.4h.01M169.8,185.7h.01M165.7,185.5h.01M161.8,181.6h.01M163.7,178.6h.01M171.7,181.5h.01M163.8,184.9h.01M168.7,187.8h.01M163.0,181.7h.01M163.7,183.7h.01M162.9,187.8h.01M163.9,187.7h.01M171.1,184.9h.01M165.9,177.7h.01M169.1,180.5h.01M165.2,188.8h.01M160.9,184.8h.01M167.3,185.6h.01M167.9,185.8h.01M168.6,178.1h.01M162.8,183.5h.01M167.3,185.9h.01M162.6,181.1h.01M161.9,183.0h.01M163.1,184.5h.01M163.4,178.4h.01M163.9,180.6h.01M167.1,187.4h.01M165.9,182.7h.01M163.3,179.9h.01M170.9,182.8h.01M167.9,188.2h.01M166.4,179.2h.01M168.5,186.5h.01M171.2,182.2h.01M161.5,185.2h.01M169.7,187.0h.01M160.8,184.4h.01M161.3,183.2h.01M161.6,183.9h.01M163.3,182.9h.01M167.5,186.4h.01M165.6,178.8h.01M164.0,182.0h.01M164.1,179.5h.01M169.3,185.7h.01M165.7,177.6h.01M164.0,188.0h.01M165.4,177.3h.01M169.3,178.4h.01M162.8,182.7h.01M162.3,187.0h.01M164.7,184.7h.01M164.8,188.6h.01M163.9,187.3h.01M170.5,184.6h.01M170.3,179.2h.01M171.1,181.2h.01M164.3,185.7h.01M168.7,180.4h.01M168.7,181.6h.01M166.4,180.0h.01M164.5,185.4h.01M166.1,187.1h.01M163.6,184.5h.01M163.4,187.7h.01M164.7,177.4h.01M169.3,178.8h.01M170.2,186.9h.01M163.7,177.6h.01M160.4,182.2h.01M167.1,177.4h.01M168.1,181.4h.01M161.7,184.6h.01M165.2,181.3h.01M171.4,183.9h.01M164.5,183.5h.01M168.2,188.4h.01M168.0,178.3h.01M169.5,183.3h.01" stroke="#377eb8" stroke-width="1.20" stroke-linecap="round" fill="none"/>
<path d="M168.5,171.9h.01M173.8,175.6h.01M158.0,180.3h.01M157.9,170.6h.01M156.2,171.8h.01M173.3,175.4h.01M161.9,176.4h.01M169.3,175.2h.01M155.4,183.4h.01M156.6,177.8h.01M159.9,177.1h.01M160.2,175.4h.01M166.9,171.6h.01M154.7,172.2h.01M161.6,180.8h.01M161.2,178.5h.01M164.5,188.5h.01M172.9,177.9h.01M164.7,174.7h.01M169.1,184.7h.01M156.3,172.4h.01M159.9,187.2h.01M169.6,185.1h.01M164.9,180.6h.01M164.7,183.4h.01M167.9,169.9h.01M162.8,171.0h.01M176.8,182.2h.01M167.3,187.5h.01M154.1,178.9h.01M169.7,179.6h.01M157.9,186.1h.01M170.3,173.4h.01M158.8,169.7h.01M159.7,169.4h.01M172.3,170.9h.01M161.2,185.9h.01M171.9,170.5h.01M158.6,176.1h.01M177.2,181.4h.01M170.7,187.3h.01M154.1,177.3h.01M175.7,179.0h.01M172.7,179.3h.01M172.1,186.4h.01M166.4,173.2h.01M158.1,175.8h.01M157.4,173.1h.01M168.1,188.6h.01M170.7,173.7h.01M172.4,181.1h.01M167.8,181.2h.01M172.9,186.4h.01M170.8,177.2h.01M154.4,174.0h.01M158.0,171.2h.01M165.3,184.8h.01M178.8,178.2h.01M173.8,178.1h.01M170.0,180.9h.01M161.7,186.6h.01M170.7,185.9h.01M167.0,186.6h.01M176.1,181.4h.01M153.6,177.9h.01M172.8,183.4h.01M177.3,178.1h.01M167.3,174.2h.01M160.8,178.1h.01M160.2,185.9h.01" stroke="#ffffff" stroke-width="0.90" stroke-linecap="round" fill="none" stroke-opacity="0.8"/>
<path d="M215.3,159.7h.01M217.2,158.2h.01M218.2,159.1h.01M209.8,159.5h.01M217.7,161.8h.01M219.2,156.2h.01M218.4,158.5h.01M215.7,164.4h.01M219.8,162.0h.01M222.7,156.3h.01M209.7,158.0h.01M215.5,158.9h.01M218.7,156.6h.01M213.0,165.4h.01M222.9,162.9h.01M221.1,157.2h.01M222.9,156.3h.01M219.0,156.7h.01M214.6,166.0h.01M213.7,165.1h.01M220.3,155.7h.01M217.7,169.3h.01M217.0,169.6h.01M218.8,166.5h.01M210.5,156.8h.01M223.6,161.8h.01M223.1,159.8h.01M213.8,163.6h.01M218.3,164.1h.01M217.5,164.7h.01M223.4,157.7h.01M223.1,158.2h.01M216.1,156.8h.01M218.2,160.8h.01M218.5,162.1h.01M215.1,167.6h.01M224.8,156.2h.01M218.9,156.3h.01M218.9,165.7h.01M210.5,160.8h.01M216.4,158.4h.01M214.5,167.2h.01M217.8,154.5h.01M217.3,166.1h.01M223.8,159.8h.01M219.1,165.7h.01M223.1,160.8h.01M211.1,156.4h.01M223.3,155.0h.01M217.3,160.3h.01M214.0,161.8h.01M213.8,160.7h.01M219.8,161.7h.01M223.2,162.4h.01M216.4,164.3h.01M218.2,157.5h.01M215.5,154.0h.01M222.4,158.5h.01M215.3,167.5h.01M213.8,155.8h.01M212.8,167.3h.01M217.0,165.9h.01M214.7,164.1h.01M211.8,160.6h.01M218.4,163.0h.01M224.5,157.3h.01M214.5,168.8h.01M216.6,161.0h.01M218.2,157.6h.01M209.4,163.0h.01M219.7,163.2h.01M217.3,162.0h.01M221.3,158.8h.01M209.8,163.0h.01M216.4,156.1h.01M212.2,162.8h.01M210.3,159.0h.01M215.9,165.3h.01M220.3,165.1h.01M218.2,153.9h.01M223.2,159.4h.01M218.0,159.9h.01M223.9,159.1h.01M218.1,159.8h.01M225.4,157.7h.01M221.8,160.8h.01M220.7,153.9h.01M217.7,169.5h.01M215.4,152.6h.01M220.2,153.5h.01M213.1,163.6h.01M218.1,164.8h.01M222.7,157.5h.01M210.2,164.9h.01M217.8,156.4h.01M220.2,162.0h.01M223.4,153.9h.01M210.2,162.6h.01M213.3,167.6h.01M210.5,161.3h.01M221.9,153.4h.01M211.3,159.1h.01M215.3,169.3h.01M214.3,163.5h.01M221.2,158.3h.01M210.6,157.7h.01M211.5,158.0h.01M226.0,159.7h.01M218.8,165.5h.01M221.2,158.3h.01M218.4,159.7h.01M216.9,164.2h.01M216.9,162.5h.01M210.8,158.0h.01M217.4,168.4h.01M218.3,164.5h.01M217.9,168.5h.01M210.3,165.4h.01M225.3,157.4h.01M212.5,155.9h.01M214.4,164.0h.01M216.6,159.6h.01M216.5,165.6h.01M219.2,164.4h.01M217.8,156.9h.01M212.5,159.5h.01M218.4,158.2h.01M216.9,167.0h.01M217.5,153.2h.01M211.9,156.1h.01M216.6,166.3h.01M214.4,154.1h.01M218.6,161.6h.01M217.5,169.3h.01M215.0,168.4h.01M221.1,162.6h.01M214.9,166.6h.01M218.7,168.1h.01M211.0,157.6h.01M223.8,161.4h.01M225.0,160.4h.01M210.6,157.0h.01M221.1,163.4h.01M216.1,158.3h.01M224.9,157.5h.01M225.5,160.3h.01M222.1,158.0h.01M226.0,158.7h.01M210.8,158.8h.01M219.3,164.2h.01M211.3,156.0h.01M209.2,159.7h.01M221.7,162.4h.01M211.3,165.9h.01M215.8,163.5h.01M223.8,154.7h.01M222.1,154.3h.01M218.3,154.3h.01M219.3,167.8h.01M220.0,162.5h.01M219.8,162.4h.01M220.4,154.6h.01M213.2,154.1h.01M225.1,157.1h.01M217.7,166.5h.01M217.8,166.8h.01M219.9,159.4h.01M225.6,160.1h.01M212.3,159.7h.01M217.8,159.4h.01" stroke="#ff7f00" stroke-width="1.10" stroke-linecap="round" fill="none"/>
<path d="M200.5,167.9h.01M200.8,170.3h.01M203.6,165.3h.01M200.3,170.2h.01M201.1,170.1h.01M204.4,168.5h.01M206.0,169.2h.01M204.0,167.8h.01M201.7,166.0h.01M203.0,167.6h.01M205.4,166.9h.01M202.8,171.6h.01M204.3,169.6h.01M204.8,171.4h.01M201.4,170.4h.01M200.5,166.8h.01M204.2,167.2h.01M203.4,166.6h.01M201.8,168.1h.01M204.3,169.9h.01" stroke="#ff7f00" stroke-width="1.10" stroke-linecap="round" fill="none"/>
<path d="M174.9,136.8h.01M180.5,136.4h.01M158.4,137.7h.01M161.1,146.9h.01M162.6,149.5h.01M168.2,142.9h.01M172.2,136.1h.01M165.6,148.7h.01M182.7,140.3h.01M165.8,135.8h.01M178.2,139.4h.01M160.0,142.3h.01" stroke="#984ea3" stroke-width="1.00" stroke-linecap="round" fill="none"/>
<text x="142.60" y="235.30" font-size="13" stroke="#000" stroke-width="0.1" fill="#000" font-weight="bold">F</text>
<rect x="156.5" y="234.8" width="105.0" height="106.6" fill="none" stroke="#231f20" stroke-width="1"/>
<text x="157.80" y="241.90" font-size="7.3" stroke="#231f20" stroke-width="0.17" textLength="40.40" lengthAdjust="spacingAndGlyphs" font-weight="bold">19,161 cells</text>
<text x="259.50" y="241.40" font-size="7.4" stroke="#231f20" stroke-width="0.17" text-anchor="end">Relapsed ALL</text>
<text x="233.70" y="265.20" font-size="7.4" stroke="#231f20" stroke-width="0.17">Lineage</text>
<text x="233.70" y="274.30" font-size="7.4" stroke="#231f20" stroke-width="0.17">switch</text>
<text x="174.20" y="280.80" font-size="7.4" stroke="#231f20" stroke-width="0.17">T</text>
<text x="232.20" y="321.30" font-size="7.4" stroke="#231f20" stroke-width="0.17">AML</text>
<text x="222.70" y="339.80" font-size="7.4" stroke="#231f20" stroke-width="0.17">Monocyte</text>
<path d="M230.5,262.5 L231.8,270" stroke="#000" stroke-width="0.8"/><path d="M230.3,269 L232.2,272.5 L233.2,268.6Z" fill="#000"/>
<path d="M187.00,244.50 C187.50,243.93 188.67,243.68 190.00,243.60 C191.33,243.52 193.50,243.97 195.00,244.00 C196.50,244.03 197.67,243.87 199.00,243.80 C200.33,243.73 201.67,243.47 203.00,243.60 C204.33,243.73 206.07,244.12 207.00,244.60 C207.93,245.08 208.60,245.83 208.60,246.50 C208.60,247.17 207.93,248.22 207.00,248.60 C206.07,248.98 204.33,248.60 203.00,248.80 C201.67,249.00 200.50,249.67 199.00,249.80 C197.50,249.93 195.58,249.70 194.00,249.60 C192.42,249.50 190.67,249.63 189.50,249.20 C188.33,248.77 187.42,247.78 187.00,247.00 C186.58,246.22 186.50,245.07 187.00,244.50Z" fill="#f06a45"/>
<path d="M201.00,245.20 C201.67,244.90 204.08,244.97 205.00,245.20 C205.92,245.43 206.67,246.20 206.50,246.60 C206.33,247.00 204.92,247.53 204.00,247.60 C203.08,247.67 201.50,247.40 201.00,247.00 C200.50,246.60 200.33,245.50 201.00,245.20Z" fill="#fff"/>
<path d="M214.80,249.50 C215.33,248.67 216.63,248.25 218.00,248.00 C219.37,247.75 221.33,248.08 223.00,248.00 C224.67,247.92 226.50,247.77 228.00,247.50 C229.50,247.23 230.67,246.52 232.00,246.40 C233.33,246.28 234.67,246.45 236.00,246.80 C237.33,247.15 239.07,247.63 240.00,248.50 C240.93,249.37 241.43,250.75 241.60,252.00 C241.77,253.25 241.77,255.12 241.00,256.00 C240.23,256.88 238.67,257.13 237.00,257.30 C235.33,257.47 233.00,257.08 231.00,257.00 C229.00,256.92 227.00,256.67 225.00,256.80 C223.00,256.93 220.58,257.85 219.00,257.80 C217.42,257.75 216.20,257.30 215.50,256.50 C214.80,255.70 214.92,254.17 214.80,253.00 C214.68,251.83 214.27,250.33 214.80,249.50Z" fill="#f06a45"/>
<path d="M221.00,251.00 C221.50,250.33 224.33,250.50 226.00,250.50 C227.67,250.50 229.83,250.50 231.00,251.00 C232.17,251.50 233.33,252.83 233.00,253.50 C232.67,254.17 230.67,254.83 229.00,255.00 C227.33,255.17 224.33,255.17 223.00,254.50 C221.67,253.83 220.50,251.67 221.00,251.00Z" fill="#fbe3d9"/>
<path d="M209.2,248.0h.01M208.5,250.6h.01M209.1,248.4h.01M215.3,247.2h.01M215.7,249.9h.01M211.9,249.0h.01M212.3,246.9h.01M216.0,247.2h.01M215.9,250.8h.01M207.3,246.1h.01M211.3,250.5h.01M208.6,248.9h.01M210.3,250.3h.01M215.3,250.1h.01M208.7,250.1h.01M210.9,250.7h.01M211.2,251.3h.01M215.9,250.6h.01" stroke="#f06a45" stroke-width="1.00" stroke-linecap="round" fill="none"/>
<path d="M224.00,270.00 C225.08,269.55 226.17,268.72 227.00,268.80 C227.83,268.88 228.83,269.72 229.00,270.50 C229.17,271.28 227.75,272.25 228.00,273.50 C228.25,274.75 229.58,276.58 230.50,278.00 C231.42,279.42 232.42,281.67 233.50,282.00 C234.58,282.33 235.75,280.13 237.00,280.00 C238.25,279.87 239.33,280.62 241.00,281.20 C242.67,281.78 245.25,283.00 247.00,283.50 C248.75,284.00 250.25,283.45 251.50,284.20 C252.75,284.95 253.95,286.37 254.50,288.00 C255.05,289.63 255.30,291.75 254.80,294.00 C254.30,296.25 253.05,299.50 251.50,301.50 C249.95,303.50 248.00,304.95 245.50,306.00 C243.00,307.05 239.50,307.72 236.50,307.80 C233.50,307.88 229.75,307.30 227.50,306.50 C225.25,305.70 223.88,304.33 223.00,303.00 C222.12,301.67 222.58,300.25 222.20,298.50 C221.82,296.75 221.20,294.67 220.70,292.50 C220.20,290.33 219.82,287.75 219.20,285.50 C218.58,283.25 217.28,280.83 217.00,279.00 C216.72,277.17 216.92,275.75 217.50,274.50 C218.08,273.25 219.42,272.25 220.50,271.50 C221.58,270.75 222.92,270.45 224.00,270.00Z" fill="#a8191c"/>
<path d="M220.70,287.00 C221.03,285.42 222.78,286.17 224.00,286.50 C225.22,286.83 227.08,287.75 228.00,289.00 C228.92,290.25 229.50,292.42 229.50,294.00 C229.50,295.58 228.92,297.67 228.00,298.50 C227.08,299.33 225.00,299.42 224.00,299.00 C223.00,298.58 222.55,298.00 222.00,296.00 C221.45,294.00 220.37,288.58 220.70,287.00Z" fill="#ee7a5c"/>
<path d="M225.9,296.7h.01M224.7,294.5h.01M228.5,292.2h.01M226.9,294.7h.01M227.0,289.1h.01M226.9,288.0h.01M223.9,291.3h.01M222.8,287.7h.01M225.1,293.8h.01M223.5,293.9h.01M223.2,287.1h.01M226.4,291.0h.01M224.5,289.0h.01M227.2,295.1h.01M224.6,295.9h.01M222.8,290.1h.01M226.4,295.8h.01M221.4,291.7h.01M224.2,289.9h.01M222.9,290.6h.01M222.6,292.4h.01M226.1,293.9h.01M224.8,292.3h.01M222.6,289.6h.01M226.9,291.1h.01" stroke="#fff" stroke-width="0.90" stroke-linecap="round" fill="none" stroke-opacity="0.9"/>
<path d="M244.4,287.7h.01M223.9,282.3h.01M219.6,275.4h.01M225.7,279.5h.01M246.4,285.0h.01M238.8,295.0h.01M250.3,290.0h.01M222.4,289.1h.01M220.5,276.0h.01M243.4,300.5h.01M241.8,285.4h.01M241.8,289.5h.01M221.7,275.8h.01M221.9,292.2h.01M228.6,290.4h.01M233.2,290.2h.01M245.1,299.2h.01M249.2,300.8h.01M234.1,305.9h.01M243.0,301.9h.01M245.5,303.9h.01M237.0,295.0h.01M222.5,297.0h.01M244.9,292.6h.01M235.9,295.0h.01M222.7,286.7h.01M229.2,276.9h.01M226.5,301.3h.01M226.9,298.3h.01M250.5,301.9h.01" stroke="#ffffff" stroke-width="0.80" stroke-linecap="round" fill="none" stroke-opacity="0.85"/>
<path d="M243.50,308.50 C244.12,308.00 245.75,307.92 247.00,308.00 C248.25,308.08 250.50,308.25 251.00,309.00 C251.50,309.75 250.83,311.80 250.00,312.50 C249.17,313.20 247.12,313.45 246.00,313.20 C244.88,312.95 243.72,311.78 243.30,311.00 C242.88,310.22 242.88,309.00 243.50,308.50Z" fill="#a8191c"/>
<circle cx="244.00" cy="276.70" r="0.80" fill="#f06a45"/>
<path d="M180.50,264.00 C180.92,263.47 181.92,263.47 182.50,263.80 C183.08,264.13 183.85,265.05 184.00,266.00 C184.15,266.95 183.73,268.58 183.40,269.50 C183.07,270.42 182.65,270.92 182.00,271.50 C181.35,272.08 180.25,272.83 179.50,273.00 C178.75,273.17 177.58,273.00 177.50,272.50 C177.42,272.00 178.58,270.92 179.00,270.00 C179.42,269.08 179.75,268.00 180.00,267.00 C180.25,266.00 180.08,264.53 180.50,264.00Z" fill="#a65628"/>
<path d="M161.00,272.00 C161.37,271.25 162.17,270.78 163.00,270.50 C163.83,270.22 165.08,270.13 166.00,270.30 C166.92,270.47 168.33,271.05 168.50,271.50 C168.67,271.95 167.75,272.70 167.00,273.00 C166.25,273.30 164.42,272.88 164.00,273.30 C163.58,273.72 163.92,275.00 164.50,275.50 C165.08,276.00 167.42,276.05 167.50,276.30 C167.58,276.55 165.83,276.92 165.00,277.00 C164.17,277.08 163.20,277.13 162.50,276.80 C161.80,276.47 161.05,275.80 160.80,275.00 C160.55,274.20 160.63,272.75 161.00,272.00Z" fill="#a65628"/>
<path d="M162.50,281.00 C162.67,280.50 164.05,280.22 165.00,280.30 C165.95,280.38 167.70,281.00 168.20,281.50 C168.70,282.00 168.70,283.00 168.00,283.30 C167.30,283.60 164.92,283.68 164.00,283.30 C163.08,282.92 162.33,281.50 162.50,281.00Z" fill="#a65628"/>
<path d="M169.50,283.50 C169.92,282.92 171.58,282.75 173.00,282.50 C174.42,282.25 176.33,282.17 178.00,282.00 C179.67,281.83 181.58,281.50 183.00,281.50 C184.42,281.50 185.78,281.50 186.50,282.00 C187.22,282.50 187.38,283.50 187.30,284.50 C187.22,285.50 186.72,286.75 186.00,288.00 C185.28,289.25 183.83,290.67 183.00,292.00 C182.17,293.33 181.67,294.87 181.00,296.00 C180.33,297.13 180.00,298.38 179.00,298.80 C178.00,299.22 176.33,298.88 175.00,298.50 C173.67,298.12 171.92,297.42 171.00,296.50 C170.08,295.58 169.42,294.25 169.50,293.00 C169.58,291.75 171.33,290.17 171.50,289.00 C171.67,287.83 170.83,286.92 170.50,286.00 C170.17,285.08 169.08,284.08 169.50,283.50Z" fill="#a65628"/>
<path d="M174.50,287.50 C175.03,286.97 176.92,286.80 178.00,286.80 C179.08,286.80 180.58,286.97 181.00,287.50 C181.42,288.03 181.17,289.38 180.50,290.00 C179.83,290.62 177.95,291.20 177.00,291.20 C176.05,291.20 175.22,290.62 174.80,290.00 C174.38,289.38 173.97,288.03 174.50,287.50Z" fill="#fff"/>
<path d="M185.8,283.9h.01M179.4,289.9h.01M177.4,291.5h.01M176.3,297.3h.01M179.3,291.8h.01M179.1,290.4h.01M186.1,286.2h.01M174.1,286.3h.01M177.3,297.0h.01M174.2,285.5h.01M182.6,283.9h.01M182.0,289.2h.01M173.8,292.4h.01M173.7,287.4h.01M176.5,288.9h.01M185.4,287.8h.01M174.8,287.6h.01M183.1,282.9h.01M173.6,289.5h.01M178.3,287.5h.01M174.9,286.2h.01M180.3,288.1h.01M177.0,283.8h.01M176.0,289.9h.01M171.2,290.8h.01" stroke="#fff" stroke-width="0.90" stroke-linecap="round" fill="none" stroke-opacity="0.8"/>
<path d="M213.50,319.00 C213.75,318.42 214.92,318.17 215.50,318.50 C216.08,318.83 216.50,319.75 217.00,321.00 C217.50,322.25 218.08,324.33 218.50,326.00 C218.92,327.67 219.50,329.33 219.50,331.00 C219.50,332.67 218.92,334.87 218.50,336.00 C218.08,337.13 217.33,338.30 217.00,337.80 C216.67,337.30 216.75,334.80 216.50,333.00 C216.25,331.20 215.92,328.83 215.50,327.00 C215.08,325.17 214.33,323.33 214.00,322.00 C213.67,320.67 213.25,319.58 213.50,319.00Z" fill="#2c7bb6"/>
<circle cx="158.80" cy="351.00" r="1.30" fill="#e8412c"/>
<text x="162.70" y="353.30" font-size="6.5" stroke="#231f20" stroke-width="0.17">Relapsed, ALL</text>
<circle cx="225.00" cy="351.00" r="1.30" fill="#2c7bb6"/>
<text x="228.90" y="353.30" font-size="6.5" stroke="#231f20" stroke-width="0.17">Monocyte</text>
<circle cx="158.80" cy="358.90" r="1.30" fill="#a8191c"/>
<text x="162.70" y="361.20" font-size="6.5" stroke="#231f20" stroke-width="0.17">Lineage switch, AML</text>
<circle cx="225.00" cy="358.90" r="1.30" fill="#a65628"/>
<text x="228.90" y="361.20" font-size="6.5" stroke="#231f20" stroke-width="0.17">T</text>
<path d="M273.80,253.70 C274.68,252.70 277.27,251.13 279.50,250.80 C281.73,250.47 285.43,250.75 287.20,251.70 C288.97,252.65 289.30,255.12 290.10,256.50 C290.90,257.88 291.43,260.25 292.00,260.00 C292.57,259.75 292.37,256.70 293.50,255.00 C294.63,253.30 296.63,250.70 298.80,249.80 C300.97,248.90 304.42,249.12 306.50,249.60 C308.58,250.08 310.57,250.90 311.30,252.70 C312.03,254.50 311.18,257.85 310.90,260.40 C310.62,262.95 309.42,266.03 309.60,268.00 C309.78,269.97 310.27,271.40 312.00,272.20 C313.73,273.00 316.75,272.53 320.00,272.80 C323.25,273.07 328.17,273.27 331.50,273.80 C334.83,274.33 337.75,275.58 340.00,276.00 C342.25,276.42 343.42,276.80 345.00,276.30 C346.58,275.80 348.37,274.72 349.50,273.00 C350.63,271.28 351.22,268.00 351.80,266.00 C352.38,264.00 352.38,262.03 353.00,261.00 C353.62,259.97 354.70,259.63 355.50,259.80 C356.30,259.97 357.45,260.38 357.80,262.00 C358.15,263.62 358.15,267.25 357.60,269.50 C357.05,271.75 355.93,273.87 354.50,275.50 C353.07,277.13 350.92,278.42 349.00,279.30 C347.08,280.18 345.92,280.55 343.00,280.80 C340.08,281.05 335.67,280.83 331.50,280.80 C327.33,280.77 321.58,280.57 318.00,280.60 C314.42,280.63 311.58,280.67 310.00,281.00 C308.42,281.33 308.00,281.43 308.50,282.60 C309.00,283.77 311.48,285.85 313.00,288.00 C314.52,290.15 317.02,294.03 317.60,295.50 C318.18,296.97 317.43,297.55 316.50,296.80 C315.57,296.05 313.48,292.80 312.00,291.00 C310.52,289.20 308.47,285.00 307.60,286.00 C306.73,287.00 307.13,293.58 306.80,297.00 C306.47,300.42 305.63,303.33 305.60,306.50 C305.57,309.67 305.50,313.65 306.60,316.00 C307.70,318.35 310.75,319.40 312.20,320.60 C313.65,321.80 315.33,322.50 315.30,323.20 C315.27,323.90 313.63,324.42 312.00,324.80 C310.37,325.18 306.78,324.63 305.50,325.50 C304.22,326.37 305.10,328.35 304.30,330.00 C303.50,331.65 302.58,334.35 300.70,335.40 C298.82,336.45 295.25,336.90 293.00,336.30 C290.75,335.70 288.87,334.10 287.20,331.80 C285.53,329.50 283.90,326.38 283.00,322.50 C282.10,318.62 281.93,313.42 281.80,308.50 C281.67,303.58 281.97,298.13 282.20,293.00 C282.43,287.87 282.70,281.78 283.20,277.70 C283.70,273.62 284.57,270.87 285.20,268.50 C285.83,266.13 287.30,264.75 287.00,263.50 C286.70,262.25 285.07,261.75 283.40,261.00 C281.73,260.25 278.53,259.70 277.00,259.00 C275.47,258.30 274.73,257.68 274.20,256.80 C273.67,255.92 272.92,254.70 273.80,253.70Z" fill="#cbcbcb"/>
<path d="M333.50,306.50 C333.92,305.33 335.58,303.92 337.00,303.00 C338.42,302.08 340.33,301.58 342.00,301.00 C343.67,300.42 345.33,300.17 347.00,299.50 C348.67,298.83 350.50,297.67 352.00,297.00 C353.50,296.33 354.83,295.58 356.00,295.50 C357.17,295.42 358.17,295.83 359.00,296.50 C359.83,297.17 360.25,298.50 361.00,299.50 C361.75,300.50 363.00,301.33 363.50,302.50 C364.00,303.67 364.42,305.42 364.00,306.50 C363.58,307.58 362.33,308.83 361.00,309.00 C359.67,309.17 357.67,308.08 356.00,307.50 C354.33,306.92 352.67,305.83 351.00,305.50 C349.33,305.17 347.67,305.17 346.00,305.50 C344.33,305.83 342.50,306.75 341.00,307.50 C339.50,308.25 338.08,309.58 337.00,310.00 C335.92,310.42 335.08,310.58 334.50,310.00 C333.92,309.42 333.08,307.67 333.50,306.50Z" fill="#cbcbcb"/>
<path d="M293.8,296.8h.01M304.9,302.0h.01M295.6,269.9h.01M299.1,252.3h.01M307.0,319.0h.01M326.4,275.7h.01M303.3,300.3h.01M297.7,255.1h.01M308.3,262.7h.01M298.5,316.3h.01M334.1,278.3h.01M299.8,256.3h.01M290.4,285.0h.01M300.2,332.7h.01M293.8,275.7h.01M330.9,280.2h.01M275.7,254.9h.01M294.9,289.2h.01M323.6,277.3h.01M304.4,276.7h.01M304.8,301.2h.01M299.0,282.3h.01M299.8,268.9h.01M289.5,287.3h.01M300.8,278.5h.01M302.1,306.0h.01M292.7,260.1h.01M289.2,273.8h.01M341.5,279.5h.01M284.7,274.9h.01M302.9,285.7h.01M309.1,285.1h.01M351.7,268.9h.01M298.1,279.2h.01M323.2,274.5h.01M288.2,275.6h.01M325.2,279.2h.01M295.0,324.3h.01M303.4,266.7h.01M288.2,318.2h.01M296.4,295.3h.01M284.3,255.5h.01M300.3,276.9h.01M303.3,305.7h.01M289.9,278.1h.01M284.2,297.8h.01M305.2,302.0h.01M295.8,289.8h.01M284.1,320.1h.01M282.5,300.6h.01M281.5,258.2h.01M284.0,322.8h.01M294.1,265.2h.01M294.8,303.0h.01M304.7,284.0h.01M303.2,285.9h.01M289.4,272.8h.01M290.5,300.4h.01M300.2,269.7h.01M298.7,310.8h.01M308.5,323.6h.01M288.3,280.9h.01M300.9,316.7h.01M313.1,322.0h.01M293.5,311.8h.01M289.7,272.0h.01M289.5,310.7h.01M295.2,324.6h.01M300.1,286.3h.01M298.3,280.5h.01M291.4,300.3h.01M296.9,307.3h.01M298.6,308.2h.01M296.1,315.0h.01M315.3,280.1h.01M288.8,326.8h.01M301.6,312.1h.01M300.0,264.9h.01M335.9,280.7h.01M296.1,282.8h.01M338.4,280.3h.01M301.8,284.6h.01M303.4,323.0h.01M282.2,259.4h.01M289.3,266.0h.01M307.3,266.4h.01M290.8,271.3h.01M331.5,275.6h.01M290.0,295.5h.01M293.4,256.3h.01M300.9,325.1h.01M335.9,279.4h.01M283.0,253.3h.01M287.3,292.7h.01M299.4,289.9h.01M289.0,327.6h.01M305.0,295.5h.01M291.4,264.4h.01M307.7,264.2h.01M287.9,292.1h.01M278.8,251.5h.01M307.7,284.0h.01M326.1,279.6h.01M284.2,254.1h.01M352.2,275.7h.01M294.8,272.6h.01M302.8,257.7h.01M276.3,257.4h.01M299.4,302.2h.01M298.4,323.3h.01M283.4,283.4h.01M301.9,308.6h.01M308.6,269.5h.01M296.4,264.3h.01M293.7,322.7h.01M301.8,281.7h.01M286.6,305.5h.01M293.1,333.5h.01M292.3,298.4h.01M288.7,256.5h.01M290.5,327.0h.01M292.5,321.5h.01M302.9,301.9h.01M302.9,291.6h.01M291.8,280.0h.01M310.0,256.9h.01M292.1,263.9h.01M298.3,330.6h.01M289.3,257.9h.01M334.5,275.1h.01" stroke="#ffffff" stroke-width="0.90" stroke-linecap="round" fill="none" stroke-opacity="0.85"/>
<path d="M293.3,297.0h.01M290.0,296.0h.01M299.0,296.5h.01M303.2,285.5h.01M293.4,287.0h.01M287.9,291.4h.01M294.4,296.6h.01M296.3,312.0h.01M298.6,279.4h.01M294.3,287.7h.01M289.6,304.1h.01M291.6,276.4h.01M295.0,290.5h.01M285.4,285.2h.01M288.9,292.8h.01M290.2,293.6h.01M304.9,286.2h.01M287.8,290.9h.01M300.1,287.0h.01M302.3,281.9h.01M286.3,292.5h.01M287.4,287.7h.01M295.9,299.2h.01M293.7,290.7h.01M301.7,296.4h.01M291.5,303.3h.01M287.1,294.4h.01M297.3,292.9h.01M289.3,296.0h.01M289.5,287.9h.01M286.4,304.1h.01M289.4,302.8h.01M295.5,290.8h.01M297.3,295.3h.01M293.9,281.3h.01M293.5,300.6h.01M296.2,301.5h.01M302.7,296.5h.01M305.8,280.1h.01M291.4,271.5h.01M298.3,293.8h.01M304.0,289.9h.01M284.3,282.2h.01M291.9,298.3h.01M289.7,294.6h.01M292.6,294.0h.01M296.8,294.4h.01M294.3,285.1h.01M292.3,296.7h.01M299.8,292.0h.01M293.6,295.9h.01M296.7,294.8h.01M291.4,288.7h.01M300.3,295.5h.01M293.1,322.6h.01M298.7,300.3h.01M294.0,284.4h.01M300.4,292.2h.01M293.3,301.7h.01M299.6,295.0h.01M293.1,310.8h.01M296.7,284.3h.01M297.9,294.3h.01M293.2,298.8h.01M294.5,310.0h.01M294.3,295.1h.01M300.5,288.2h.01M299.6,292.5h.01M300.7,285.8h.01M295.7,279.4h.01M290.1,293.1h.01M296.2,309.8h.01M304.9,281.6h.01M288.1,303.6h.01M295.9,281.4h.01M296.2,283.4h.01M287.4,282.3h.01M291.3,312.1h.01M295.5,292.1h.01M292.0,290.8h.01M295.7,290.4h.01M302.5,290.5h.01M296.7,294.9h.01M287.4,284.7h.01M292.7,273.5h.01M293.1,293.7h.01M293.9,292.4h.01M295.3,290.0h.01M297.2,279.2h.01M298.9,285.5h.01M296.2,289.1h.01M290.2,286.3h.01M301.7,283.8h.01M285.2,294.9h.01M294.7,293.4h.01M286.8,287.5h.01M298.9,284.3h.01M297.0,299.2h.01M293.9,282.7h.01M305.4,294.1h.01M294.3,289.8h.01M286.9,290.8h.01M294.3,285.9h.01M293.8,302.8h.01M295.8,292.2h.01M299.8,300.8h.01M298.9,286.3h.01M293.4,289.9h.01M296.2,289.2h.01M289.0,308.3h.01M282.7,300.1h.01M299.6,308.0h.01M294.7,297.3h.01M287.1,293.3h.01M292.8,292.1h.01M289.9,302.9h.01M282.7,294.1h.01M290.4,293.3h.01M293.4,309.5h.01M286.1,304.4h.01M302.1,291.9h.01M289.0,282.6h.01M287.4,310.3h.01M288.5,309.1h.01M295.1,281.6h.01M289.7,294.7h.01M293.8,285.0h.01M291.2,289.1h.01M296.1,295.3h.01M294.5,288.0h.01M298.1,288.3h.01M287.6,289.4h.01M290.9,290.4h.01M297.1,304.2h.01M290.5,299.4h.01M294.3,293.2h.01M304.6,288.0h.01M296.7,278.4h.01M296.7,291.6h.01M286.4,288.0h.01M294.1,270.7h.01M300.0,301.3h.01M288.1,280.5h.01M283.9,282.2h.01M288.1,311.4h.01M285.7,299.4h.01M301.1,285.0h.01M291.3,298.7h.01M288.8,303.6h.01M306.9,292.6h.01M287.7,298.0h.01M295.2,286.7h.01M292.1,293.7h.01M296.3,302.7h.01M289.9,282.0h.01M282.5,308.7h.01M290.3,289.5h.01M288.5,288.5h.01M297.2,296.6h.01M295.6,312.2h.01M301.8,283.8h.01M295.9,298.0h.01M288.2,312.7h.01M299.0,305.9h.01M289.5,283.3h.01M297.9,291.3h.01M289.2,292.2h.01M294.4,294.2h.01M291.7,297.0h.01M289.7,310.3h.01M289.9,279.8h.01M284.0,275.6h.01M300.5,283.6h.01M283.7,288.2h.01M291.6,282.4h.01M289.2,292.9h.01M297.2,284.9h.01M296.6,295.1h.01M296.5,288.4h.01M285.4,301.1h.01M296.7,287.2h.01M287.8,298.8h.01M306.1,296.0h.01M295.2,297.1h.01M300.0,280.1h.01M293.9,303.7h.01M282.8,295.0h.01M297.8,307.6h.01M303.2,292.7h.01M306.5,283.5h.01M283.8,304.3h.01M297.3,283.2h.01M300.1,300.4h.01M297.7,289.2h.01M284.6,278.5h.01M291.6,291.6h.01M289.6,288.2h.01M299.0,283.3h.01M288.1,309.9h.01M288.8,287.5h.01M299.9,277.5h.01M303.6,282.0h.01M287.5,282.0h.01M286.7,286.6h.01M299.0,292.4h.01M302.0,299.6h.01M284.8,293.1h.01M289.0,289.3h.01M293.8,296.1h.01M295.8,274.8h.01M291.9,289.0h.01M305.1,290.9h.01M292.7,293.0h.01M298.1,283.1h.01M292.1,291.9h.01M292.8,290.8h.01M289.4,293.7h.01M284.3,306.8h.01M292.9,277.4h.01M291.1,301.0h.01M291.6,291.6h.01M293.3,276.1h.01M290.0,305.4h.01M295.5,280.1h.01M289.3,295.0h.01M306.5,295.0h.01M297.8,290.2h.01M293.2,284.3h.01M284.3,281.3h.01M289.1,303.7h.01M292.7,303.2h.01M298.0,294.2h.01M289.7,311.3h.01M300.4,303.6h.01M294.4,296.2h.01M296.6,312.2h.01M286.3,277.4h.01M289.8,293.0h.01M289.1,300.9h.01M296.9,292.7h.01M293.5,309.4h.01M290.6,303.5h.01M285.5,277.3h.01M304.2,300.5h.01M297.4,305.2h.01M303.9,295.5h.01M294.9,298.2h.01M298.6,294.6h.01M284.3,314.4h.01M288.2,288.0h.01M297.0,292.7h.01M296.5,313.7h.01M302.4,289.1h.01M295.2,292.6h.01M301.3,285.4h.01M286.8,278.8h.01M296.4,296.5h.01M297.8,300.4h.01M285.2,290.0h.01M286.0,303.7h.01M298.8,280.8h.01M296.6,294.2h.01M293.9,299.2h.01M289.2,290.5h.01M288.8,287.5h.01M286.3,303.1h.01M297.0,291.1h.01M282.4,312.6h.01M293.4,294.9h.01M297.4,307.8h.01M291.2,273.1h.01M291.1,293.0h.01M289.4,305.7h.01M290.2,295.9h.01M287.8,299.7h.01M288.6,300.3h.01M294.0,294.6h.01M295.2,279.5h.01M290.2,295.1h.01M290.7,303.4h.01M298.9,287.0h.01M300.8,291.3h.01M296.8,303.7h.01M285.9,286.2h.01M292.8,291.2h.01M282.2,298.9h.01M294.2,294.9h.01M295.2,299.4h.01M287.8,295.9h.01M290.4,289.1h.01M287.5,303.5h.01M297.6,290.4h.01M288.9,302.1h.01M287.0,290.8h.01M295.8,288.7h.01M289.8,293.8h.01M299.5,285.3h.01M296.6,292.6h.01M290.9,281.9h.01M304.4,298.0h.01M294.9,290.5h.01M303.6,287.7h.01M286.6,286.5h.01M292.8,295.9h.01M294.9,302.3h.01M291.0,305.8h.01M306.2,288.5h.01M291.4,301.6h.01M301.0,293.2h.01M300.6,279.9h.01M299.2,297.0h.01M299.0,297.3h.01M297.5,289.4h.01M302.2,275.5h.01M294.8,287.8h.01M305.8,283.5h.01M293.9,293.0h.01M298.4,293.2h.01M286.2,292.0h.01M300.8,299.7h.01M288.5,282.6h.01M284.8,292.3h.01M292.1,290.1h.01M289.8,294.8h.01M301.7,301.8h.01M290.3,299.9h.01M291.5,304.1h.01M299.9,301.2h.01M299.1,305.1h.01M286.4,290.5h.01M291.0,300.6h.01M293.4,282.6h.01M288.2,291.5h.01M290.2,289.3h.01M283.6,294.4h.01M284.8,289.9h.01M289.1,290.6h.01M302.5,289.6h.01M290.5,272.1h.01M287.4,295.3h.01M291.1,300.0h.01M291.2,300.0h.01M294.9,302.5h.01M291.4,300.9h.01M290.1,286.7h.01M300.6,281.5h.01M287.2,307.2h.01M294.3,296.4h.01M294.7,292.9h.01M306.1,293.6h.01M302.5,293.2h.01M288.7,290.9h.01M293.5,315.2h.01M289.2,296.9h.01M283.2,298.0h.01M292.3,296.6h.01M293.7,289.3h.01M293.6,293.3h.01M299.9,292.6h.01M292.3,282.2h.01M298.9,291.8h.01M287.2,303.4h.01M299.2,293.0h.01M293.5,281.9h.01M283.4,298.6h.01M290.8,295.3h.01M289.6,296.8h.01M298.3,294.2h.01M298.0,299.7h.01M292.2,278.7h.01M297.2,288.0h.01M286.4,277.4h.01M304.7,304.5h.01M306.3,276.8h.01M298.0,281.3h.01M283.5,298.4h.01M299.2,285.3h.01M291.7,300.5h.01M306.0,296.9h.01M286.3,283.8h.01M293.3,298.4h.01M288.8,300.0h.01M282.1,301.1h.01M302.3,305.0h.01M303.0,294.0h.01M293.6,283.5h.01M292.7,286.1h.01M296.9,299.2h.01M292.0,306.4h.01M284.2,288.1h.01M304.1,290.8h.01M297.4,271.3h.01M302.6,286.9h.01M288.5,301.3h.01M293.4,278.1h.01M301.7,284.8h.01M290.6,287.3h.01M290.0,289.2h.01M290.6,288.8h.01M296.8,287.7h.01M304.5,297.4h.01M293.5,288.1h.01M298.1,278.2h.01M288.4,289.9h.01M295.2,294.1h.01M283.3,297.9h.01M290.0,288.4h.01M293.7,290.1h.01M290.0,289.5h.01M297.3,293.2h.01M294.3,287.3h.01M300.4,293.9h.01M288.1,302.0h.01M284.0,286.8h.01M298.1,289.1h.01M290.8,289.8h.01M293.0,296.8h.01M296.8,287.1h.01M289.7,276.1h.01M289.7,296.8h.01M293.1,302.9h.01M291.1,295.1h.01M298.5,283.2h.01M301.7,281.2h.01M291.1,277.3h.01M291.0,284.4h.01M299.1,275.7h.01M295.8,296.0h.01M296.5,301.2h.01M298.2,285.2h.01M296.8,286.6h.01M288.5,290.4h.01M289.7,287.8h.01M299.5,293.4h.01M289.6,311.9h.01M294.4,288.4h.01M295.7,273.4h.01M302.7,289.9h.01M286.7,299.8h.01M287.8,283.5h.01M298.0,309.4h.01M290.6,292.2h.01M292.1,296.3h.01M290.2,293.9h.01M287.8,291.7h.01M298.2,280.1h.01M297.5,307.4h.01M288.5,289.7h.01M293.6,292.5h.01M285.9,299.8h.01M296.9,301.4h.01M297.5,287.8h.01M291.9,287.7h.01M298.6,305.4h.01M292.2,294.9h.01M295.6,306.3h.01M285.2,295.3h.01M295.8,296.8h.01M287.8,300.6h.01M296.0,284.6h.01M286.2,309.6h.01M289.0,279.7h.01M295.6,283.8h.01M292.8,297.1h.01M287.1,281.2h.01M304.9,282.0h.01M285.5,292.8h.01M295.7,292.2h.01M287.2,300.6h.01M285.8,286.0h.01M297.2,301.5h.01M295.9,300.5h.01M295.5,299.7h.01M288.4,286.9h.01M296.6,301.3h.01M290.3,286.7h.01M292.0,302.0h.01M292.4,290.8h.01M292.0,290.5h.01M296.3,289.5h.01M293.8,291.0h.01M288.0,293.3h.01M294.8,278.6h.01M294.5,295.0h.01M292.2,284.2h.01M288.8,298.6h.01M287.3,301.3h.01M290.4,295.9h.01M294.1,279.5h.01M299.3,289.0h.01M285.5,304.5h.01M301.9,301.7h.01M298.4,302.5h.01M302.0,297.9h.01M293.9,290.9h.01M290.9,286.7h.01M292.4,269.4h.01M299.6,293.1h.01M294.4,292.1h.01M297.4,299.6h.01M296.8,278.8h.01M298.7,277.2h.01M289.7,288.1h.01M292.0,279.6h.01M296.6,290.7h.01M298.9,294.1h.01M292.8,301.4h.01M301.3,297.3h.01M288.4,295.9h.01M299.8,299.6h.01M303.5,302.9h.01M290.7,310.9h.01M297.6,298.9h.01M294.4,282.8h.01M299.5,307.2h.01M287.7,292.4h.01M289.9,298.6h.01M288.3,286.2h.01M283.7,291.6h.01M299.4,282.8h.01M290.3,305.1h.01M288.0,275.6h.01M287.0,299.9h.01M293.2,285.3h.01M288.8,303.5h.01M284.2,304.8h.01M290.4,297.9h.01M286.2,285.7h.01M286.8,297.4h.01M288.5,284.8h.01M287.4,288.5h.01M301.7,279.2h.01M295.7,279.3h.01M296.8,288.8h.01M297.1,291.0h.01M299.1,298.9h.01M295.7,298.5h.01M290.1,290.0h.01M288.0,297.9h.01M295.5,291.8h.01M285.7,292.4h.01M296.1,299.7h.01M289.0,299.1h.01M285.2,289.2h.01M286.2,294.9h.01M287.2,286.8h.01M299.7,301.8h.01M282.3,302.0h.01M298.5,300.9h.01M290.2,304.4h.01M296.9,281.8h.01M296.2,320.7h.01M284.5,297.5h.01M294.1,294.5h.01M297.4,302.0h.01M293.7,308.1h.01M298.4,303.4h.01M301.1,285.3h.01M303.7,285.6h.01M294.2,291.1h.01" stroke="#a8191c" stroke-width="1.10" stroke-linecap="round" fill="none"/>
<path d="M299.0,260.2h.01M291.7,260.7h.01M302.9,292.6h.01M305.2,283.4h.01M296.6,286.3h.01M286.4,291.9h.01M299.3,290.7h.01M289.3,318.5h.01M293.5,282.4h.01M294.4,283.2h.01M289.5,285.4h.01M294.6,298.8h.01M311.2,287.1h.01M287.4,322.2h.01M299.0,319.7h.01M284.5,258.4h.01M299.0,283.2h.01M289.5,296.0h.01M295.0,293.8h.01M289.1,306.8h.01M306.5,290.4h.01M288.9,299.5h.01M297.3,276.5h.01M288.9,303.6h.01M292.1,285.7h.01M294.9,289.6h.01M293.0,264.9h.01M285.1,302.7h.01M295.8,290.2h.01M302.4,319.4h.01M298.0,310.6h.01M312.4,276.7h.01M288.3,300.1h.01M304.6,303.6h.01M298.2,265.4h.01M299.9,296.4h.01M285.5,286.9h.01M290.7,297.4h.01M297.5,293.5h.01M294.5,293.5h.01M304.1,288.7h.01M287.5,295.3h.01M283.9,293.7h.01M303.3,293.1h.01M295.5,284.2h.01M290.5,258.4h.01M300.5,298.6h.01M303.3,310.2h.01M290.3,303.7h.01M302.8,287.9h.01M285.6,291.4h.01M288.8,294.2h.01M305.2,285.4h.01M284.8,290.1h.01M299.1,295.5h.01M296.6,264.4h.01M282.8,307.5h.01M295.2,270.2h.01M285.2,271.2h.01M283.8,305.4h.01M291.0,304.7h.01M294.7,270.2h.01M287.1,320.2h.01M286.0,276.2h.01M304.3,291.2h.01M292.9,309.4h.01M285.5,305.3h.01M291.7,265.7h.01M282.8,310.2h.01M302.4,275.5h.01M301.6,311.4h.01M302.5,284.3h.01M287.8,270.7h.01M292.3,282.1h.01M295.3,273.2h.01M288.2,278.3h.01M298.2,291.3h.01M295.6,309.4h.01M291.2,287.2h.01M286.7,291.7h.01M297.5,292.3h.01M290.7,297.5h.01M293.8,293.3h.01M284.4,292.7h.01M283.8,278.8h.01M294.5,318.0h.01M302.2,290.1h.01M291.4,303.1h.01M291.3,292.5h.01M290.0,286.2h.01M285.1,286.7h.01M296.9,277.7h.01M298.0,272.8h.01M289.6,295.3h.01M283.4,280.5h.01M286.5,282.4h.01M293.3,289.6h.01M302.1,300.5h.01M289.3,285.3h.01M286.2,299.7h.01M294.1,300.7h.01M301.7,287.8h.01M287.2,284.3h.01M303.5,288.2h.01M286.2,295.8h.01M303.4,288.5h.01M290.7,304.4h.01M302.0,302.6h.01M286.0,293.8h.01M296.3,266.1h.01M304.1,291.3h.01M289.9,320.1h.01M294.3,280.4h.01M292.4,297.5h.01M300.5,289.2h.01M285.1,280.7h.01M285.5,276.0h.01M292.8,283.5h.01M293.5,279.0h.01M285.0,287.5h.01M289.8,305.3h.01M284.7,292.7h.01M292.6,272.6h.01M299.7,292.2h.01M301.6,279.4h.01M282.4,297.5h.01M289.7,272.2h.01M286.2,298.5h.01M296.6,283.1h.01M288.1,313.4h.01M289.7,277.0h.01M289.4,312.1h.01M297.2,286.2h.01M284.9,290.2h.01M299.8,304.2h.01M294.3,285.5h.01M295.1,313.9h.01M296.4,271.5h.01M292.1,286.1h.01M296.5,282.3h.01M291.9,283.2h.01M287.7,318.0h.01M300.3,304.4h.01M288.4,294.0h.01M291.1,287.3h.01M299.8,298.0h.01M295.8,292.0h.01M296.5,285.2h.01M285.9,294.7h.01M284.6,281.1h.01M301.1,285.3h.01M306.1,296.9h.01M300.4,304.9h.01M292.1,306.4h.01M292.6,311.7h.01M288.2,289.3h.01M293.8,302.5h.01M292.5,281.9h.01M290.0,271.5h.01M304.5,299.9h.01M296.9,293.6h.01M287.5,284.7h.01M300.4,279.6h.01M285.9,310.8h.01M297.9,292.5h.01M306.0,284.2h.01M293.8,296.4h.01M306.1,286.7h.01M295.1,283.6h.01M287.0,281.4h.01M293.8,301.7h.01M286.7,282.1h.01M289.3,294.6h.01M299.3,273.6h.01M296.2,276.9h.01M299.5,277.4h.01M283.2,280.7h.01M292.4,277.0h.01M294.9,291.9h.01M293.8,293.5h.01M300.9,280.5h.01M293.0,289.6h.01M286.0,280.6h.01M289.0,291.3h.01M296.0,296.3h.01M286.7,299.1h.01M296.8,284.9h.01M292.8,300.5h.01M296.9,299.1h.01M294.0,304.8h.01M287.9,272.0h.01M302.9,303.0h.01M289.6,308.8h.01M292.3,282.3h.01M293.6,292.8h.01M293.4,295.2h.01M287.9,298.5h.01M285.8,292.1h.01M291.4,269.4h.01M296.5,298.2h.01" stroke="#a8191c" stroke-width="1.00" stroke-linecap="round" fill="none"/>
<path d="M301.9,266.1h.01M291.1,274.0h.01M288.1,277.5h.01M302.3,262.8h.01M300.7,272.1h.01M299.7,281.1h.01M306.7,270.2h.01M303.9,277.7h.01M306.4,262.6h.01M305.8,266.4h.01M289.6,273.9h.01M303.8,281.1h.01M294.3,278.6h.01M287.6,281.4h.01M292.9,272.9h.01M289.5,262.9h.01M287.2,274.0h.01M298.2,278.3h.01M304.0,270.5h.01M303.9,266.0h.01M304.6,267.0h.01M305.8,269.7h.01M295.6,272.4h.01M288.2,263.5h.01M297.9,276.3h.01M287.9,270.1h.01M294.4,277.6h.01M306.8,263.8h.01M297.9,264.1h.01M302.7,280.8h.01M301.1,273.6h.01M287.8,263.9h.01M291.8,263.6h.01M289.7,281.2h.01M294.0,280.1h.01M302.2,277.5h.01M305.3,276.0h.01M294.0,271.4h.01M294.8,262.6h.01M287.9,273.4h.01M297.5,281.4h.01M299.4,278.4h.01M296.5,273.6h.01M303.3,262.7h.01M287.4,270.6h.01" stroke="#a8191c" stroke-width="0.90" stroke-linecap="round" fill="none"/>
<path d="M298.5,265.0h.01M305.0,263.4h.01M302.7,269.3h.01M293.2,272.1h.01M292.7,270.7h.01M293.4,263.8h.01M300.5,278.5h.01M294.5,266.5h.01M304.5,281.0h.01M303.5,269.9h.01M309.2,267.8h.01M294.9,264.4h.01M298.2,278.3h.01M295.6,273.6h.01M304.8,269.4h.01M303.0,263.3h.01M293.2,266.1h.01M305.6,270.6h.01M298.3,273.7h.01M301.1,268.0h.01M307.9,276.0h.01M296.9,273.5h.01M302.5,279.5h.01M306.6,267.8h.01M300.4,277.1h.01M295.0,271.8h.01M292.8,275.4h.01M307.3,273.5h.01M309.5,268.3h.01M305.9,273.9h.01M303.6,271.1h.01M308.8,280.9h.01M301.5,275.3h.01M293.2,276.0h.01M304.9,281.9h.01M308.4,267.7h.01M299.7,275.4h.01M292.5,271.2h.01M295.4,264.3h.01M293.2,277.4h.01" stroke="#f0623c" stroke-width="0.90" stroke-linecap="round" fill="none"/>
<path d="M310.7,280.2h.01M308.2,277.8h.01M307.1,273.7h.01M321.0,275.6h.01M316.3,276.0h.01M309.8,279.0h.01M307.2,273.6h.01M305.5,273.9h.01M315.2,279.6h.01M314.5,272.5h.01M311.5,280.4h.01M306.6,277.1h.01M314.4,277.4h.01M313.5,277.7h.01M317.4,277.3h.01M327.5,276.7h.01M308.6,272.1h.01M328.7,275.9h.01M309.8,280.0h.01M319.5,278.1h.01M327.0,274.1h.01M313.9,279.4h.01M308.4,278.4h.01M307.4,277.7h.01M322.6,280.0h.01M326.1,276.0h.01M309.9,272.9h.01M318.2,276.1h.01M306.8,279.6h.01M317.7,277.8h.01M310.5,273.7h.01M305.3,274.6h.01M311.7,275.3h.01M314.4,279.0h.01M314.9,273.0h.01M321.6,280.3h.01M310.0,278.4h.01M324.1,274.6h.01M309.3,275.4h.01M310.8,275.2h.01M316.2,275.3h.01M319.7,274.1h.01M307.4,272.3h.01M307.7,276.2h.01M314.0,278.8h.01M317.6,277.9h.01M305.4,272.8h.01M314.7,276.7h.01M323.6,274.7h.01M325.9,273.4h.01M329.1,278.3h.01M329.8,276.7h.01M309.4,280.2h.01M320.1,276.0h.01M316.8,272.9h.01M308.1,276.7h.01M316.3,272.6h.01M316.0,278.0h.01M322.9,275.7h.01M314.8,274.7h.01M310.6,273.3h.01M323.1,277.9h.01M314.1,275.4h.01M307.3,280.2h.01M323.9,276.0h.01M322.6,273.3h.01M310.7,276.2h.01M323.6,277.3h.01M305.2,277.0h.01M327.7,278.2h.01M328.2,280.3h.01M310.6,274.2h.01M318.7,280.3h.01M314.2,280.0h.01M326.3,276.1h.01M320.6,280.1h.01M324.6,274.2h.01M314.2,280.1h.01M326.2,274.3h.01M312.3,277.0h.01M326.1,277.7h.01M328.4,278.1h.01M325.5,276.9h.01M314.1,275.3h.01M317.2,276.3h.01M326.0,273.9h.01M306.7,278.1h.01M311.8,275.3h.01M307.9,279.0h.01M311.8,274.1h.01M325.1,276.0h.01M311.9,279.5h.01M315.3,274.8h.01M329.1,278.6h.01M323.7,273.7h.01M325.3,276.9h.01M325.7,274.8h.01M324.5,278.6h.01M314.7,277.4h.01M324.5,280.4h.01M328.0,278.6h.01M308.4,277.0h.01M316.6,279.3h.01M327.6,279.8h.01M307.3,277.0h.01M326.6,277.4h.01M328.0,279.2h.01M321.3,274.8h.01M325.7,278.8h.01M323.1,276.9h.01M313.0,274.2h.01M313.9,274.4h.01M323.0,274.6h.01M309.0,273.8h.01M314.7,275.4h.01M310.6,274.1h.01M309.4,278.2h.01M307.7,272.0h.01M318.9,278.1h.01M325.6,276.5h.01M313.2,279.4h.01M323.4,275.8h.01M319.1,279.9h.01M329.9,279.9h.01M308.3,274.4h.01M315.2,273.0h.01M327.2,276.8h.01M320.3,275.2h.01M328.4,276.7h.01M327.4,279.8h.01M322.3,280.4h.01M317.2,274.8h.01M326.1,276.3h.01M312.7,277.6h.01M316.9,272.7h.01M325.9,276.0h.01M329.3,276.3h.01M328.4,274.1h.01M310.4,276.2h.01M324.2,278.9h.01M314.3,280.0h.01M313.7,277.8h.01M309.6,276.7h.01M308.2,280.2h.01M315.6,277.2h.01M320.0,277.4h.01M329.6,274.7h.01M328.7,277.4h.01M316.9,273.0h.01M310.9,274.8h.01M313.7,274.8h.01M325.2,274.9h.01M308.5,277.9h.01M327.3,274.3h.01M305.8,273.6h.01M314.0,274.8h.01M319.0,274.2h.01M321.2,278.6h.01M324.6,278.2h.01M319.6,273.8h.01M326.0,274.1h.01M326.5,275.5h.01M320.7,276.0h.01M321.3,274.6h.01M319.5,278.1h.01M314.0,276.9h.01M316.4,275.7h.01M314.6,276.4h.01M322.7,273.1h.01M308.7,278.9h.01M307.2,278.6h.01M324.0,273.5h.01M320.9,273.8h.01M307.9,271.8h.01M323.0,273.4h.01M312.9,280.3h.01M323.4,278.1h.01M319.4,277.3h.01M305.3,278.8h.01M313.2,279.2h.01M315.4,279.7h.01M305.0,280.3h.01M307.4,276.1h.01M317.0,280.4h.01M322.9,280.3h.01M327.6,275.3h.01M308.7,272.8h.01M322.7,280.1h.01M321.6,274.6h.01M319.9,277.4h.01M311.3,277.7h.01M310.0,271.7h.01M306.6,275.9h.01M322.4,273.5h.01M314.9,277.7h.01M311.6,276.2h.01M320.1,275.2h.01M310.2,277.7h.01M322.5,273.2h.01M325.2,277.4h.01" stroke="#f0623c" stroke-width="1.20" stroke-linecap="round" fill="none"/>
<path d="M293.0,310.2h.01M284.6,321.1h.01M304.4,303.8h.01M295.4,315.6h.01M282.1,310.3h.01M299.3,311.9h.01M299.9,305.5h.01M287.2,304.4h.01M294.2,322.3h.01M296.4,319.0h.01M291.0,318.4h.01M283.6,308.4h.01M298.5,318.0h.01M292.0,303.9h.01M287.9,306.6h.01M288.3,319.8h.01M286.2,321.5h.01M303.9,303.2h.01M290.8,312.8h.01M304.6,304.5h.01M296.5,304.7h.01M296.0,321.7h.01M286.3,302.2h.01M283.2,313.9h.01M293.9,322.3h.01M291.9,310.8h.01M297.6,304.1h.01M296.1,305.8h.01M296.8,323.1h.01M282.4,314.2h.01M296.8,305.3h.01M288.0,323.9h.01M299.3,322.9h.01M287.2,315.4h.01M282.1,310.1h.01M298.5,315.0h.01M301.1,303.9h.01M290.0,321.0h.01M296.2,311.9h.01M291.5,323.7h.01M295.9,302.4h.01M301.8,309.2h.01M292.3,306.7h.01M292.5,309.1h.01M283.3,315.8h.01M283.7,319.3h.01M302.0,312.9h.01M299.4,307.5h.01M300.2,311.4h.01M287.0,323.2h.01M291.4,310.2h.01M303.4,310.1h.01M298.4,305.8h.01M302.9,307.7h.01M285.5,322.8h.01M286.4,310.6h.01M296.9,323.3h.01M290.2,305.1h.01M295.6,305.0h.01M283.3,314.2h.01M299.1,303.4h.01M292.7,317.5h.01M300.9,310.4h.01M304.1,305.7h.01M299.6,319.0h.01M303.9,312.9h.01M283.6,303.1h.01M294.7,305.8h.01M297.4,303.9h.01M301.3,306.9h.01M292.9,314.3h.01M291.1,305.8h.01M293.5,322.8h.01M294.9,322.7h.01M304.1,314.0h.01M294.6,313.8h.01M304.6,303.4h.01M297.7,313.9h.01M288.8,317.9h.01M299.7,304.3h.01M299.2,312.0h.01M293.7,316.0h.01M290.7,321.3h.01M287.0,320.1h.01M300.0,315.7h.01M303.8,302.8h.01M296.5,315.5h.01M298.6,310.9h.01M282.8,306.2h.01M296.8,306.0h.01" stroke="#3a7fc0" stroke-width="1.00" stroke-linecap="round" fill="none"/>
<path d="M310.4,321.0h.01M310.5,319.4h.01M313.6,323.8h.01M309.8,320.3h.01M306.2,324.7h.01M308.0,320.0h.01M311.8,321.2h.01M311.9,322.6h.01M304.7,323.4h.01M303.1,318.9h.01M307.8,324.3h.01M307.1,321.8h.01M308.7,318.5h.01M310.6,323.9h.01M305.0,319.6h.01M308.4,318.3h.01M309.5,323.7h.01M311.6,321.7h.01M310.4,320.6h.01M305.2,323.7h.01M308.4,319.7h.01M306.6,322.3h.01M305.3,318.8h.01M308.9,319.2h.01M311.4,323.7h.01M307.5,321.0h.01M303.1,323.0h.01M307.3,320.2h.01M304.0,321.1h.01M310.6,320.7h.01M314.3,322.7h.01M306.1,321.7h.01M309.4,321.2h.01M308.2,320.9h.01M310.6,321.8h.01M309.4,319.2h.01M308.7,324.8h.01M308.4,318.2h.01M303.0,321.7h.01M303.7,318.6h.01M304.4,321.2h.01M309.0,321.1h.01M309.5,321.1h.01M312.4,324.3h.01M312.1,321.0h.01" stroke="#3a7fc0" stroke-width="1.10" stroke-linecap="round" fill="none"/>
<path d="M344.3,304.0h.01M356.1,302.5h.01M345.7,304.4h.01M337.6,303.2h.01M335.3,308.0h.01M349.3,304.8h.01M346.0,305.2h.01M345.5,305.6h.01M354.0,306.3h.01M352.2,301.4h.01M354.2,301.2h.01M355.8,302.5h.01M357.5,301.4h.01M352.5,299.3h.01M357.1,307.1h.01M352.9,297.8h.01M347.0,302.2h.01M337.8,306.7h.01M336.3,305.3h.01M357.3,307.9h.01M354.4,305.3h.01M352.3,300.3h.01M339.1,304.6h.01M342.3,302.3h.01M357.0,302.7h.01M355.1,304.7h.01M339.0,306.3h.01M339.4,308.2h.01M347.9,299.7h.01M337.4,306.5h.01M348.4,299.5h.01M355.9,298.3h.01M357.5,305.5h.01M350.3,304.4h.01M341.8,306.0h.01M354.6,304.2h.01M348.6,301.1h.01M347.6,304.7h.01M335.0,305.2h.01M351.2,301.2h.01M351.4,304.3h.01M335.1,307.0h.01M350.5,303.0h.01M340.5,305.9h.01M355.6,305.6h.01M341.2,305.7h.01M355.0,301.2h.01M347.6,300.1h.01M348.6,302.9h.01M357.6,302.2h.01M350.7,304.1h.01M340.7,307.7h.01M353.7,298.8h.01M348.7,302.1h.01M348.7,305.5h.01M350.1,298.2h.01M350.9,297.9h.01M350.4,303.3h.01M355.7,296.4h.01M356.3,306.6h.01M342.4,304.1h.01M356.6,302.4h.01M354.4,300.6h.01M353.0,297.8h.01M354.0,306.0h.01M356.6,302.9h.01M356.7,296.4h.01M338.5,303.4h.01M340.3,306.7h.01M349.0,303.4h.01M354.1,304.0h.01M338.2,308.6h.01M357.2,303.4h.01M346.4,303.1h.01M357.2,303.3h.01M347.1,302.9h.01M346.5,301.6h.01M339.7,302.6h.01M337.8,304.9h.01M356.1,297.1h.01M350.2,300.2h.01M341.9,304.9h.01M335.6,306.7h.01M346.3,302.0h.01M342.4,301.6h.01M338.1,305.1h.01M349.0,303.5h.01M354.3,304.8h.01M354.4,298.7h.01M355.6,300.1h.01M355.2,297.1h.01M339.0,306.6h.01M353.8,301.7h.01M352.7,297.0h.01M343.1,306.0h.01M357.2,296.8h.01M346.8,303.2h.01M356.2,296.5h.01M341.2,302.5h.01M345.9,301.9h.01M351.5,301.5h.01M348.7,301.5h.01M348.0,303.1h.01M357.6,307.9h.01M353.4,301.5h.01M352.1,301.5h.01M341.5,302.5h.01M349.0,305.0h.01M349.7,300.4h.01M349.5,304.1h.01M346.3,301.2h.01M358.0,305.3h.01M346.8,303.1h.01M357.2,304.1h.01M357.9,305.2h.01M337.2,302.9h.01M356.6,301.7h.01M346.2,304.6h.01M349.4,304.0h.01M340.1,306.5h.01M336.9,307.1h.01M334.8,309.5h.01M343.7,302.6h.01M357.3,298.9h.01M351.1,302.5h.01M348.6,302.3h.01M344.1,305.7h.01M347.6,301.7h.01M352.4,303.5h.01M351.4,298.8h.01M335.8,309.3h.01M352.6,305.0h.01M350.1,304.0h.01M347.8,305.1h.01M351.8,298.0h.01M335.2,305.8h.01M346.8,305.1h.01M342.3,302.7h.01M353.2,305.0h.01M352.2,298.4h.01M353.2,300.9h.01M341.1,303.8h.01M343.7,300.9h.01M335.4,309.0h.01M347.1,302.8h.01M350.1,299.8h.01M338.3,305.6h.01M341.9,306.6h.01M350.7,304.1h.01M355.8,302.0h.01" stroke="#a65628" stroke-width="1.10" stroke-linecap="round" fill="none"/>
<text x="142.30" y="374.80" font-size="13" stroke="#000" stroke-width="0.1" fill="#000" font-weight="bold">G</text>
<rect x="156.7" y="372.5" width="104.3" height="107.5" fill="none" stroke="#231f20" stroke-width="1"/>
<text x="157.00" y="380.00" font-size="7.3" stroke="#231f20" stroke-width="0.17" textLength="41.20" lengthAdjust="spacingAndGlyphs" font-weight="bold">14,835 cells</text>
<text x="203.20" y="388.00" font-size="7.6" stroke="#231f20" stroke-width="0.17">Monocyte</text>
<text x="164.50" y="411.60" font-size="7.6" stroke="#231f20" stroke-width="0.17" textLength="45.10" lengthAdjust="spacingAndGlyphs">Relapsed ALL</text>
<text x="255.40" y="447.60" font-size="7.6" stroke="#231f20" stroke-width="0.17">T</text>
<text x="190.00" y="476.30" font-size="7.6" stroke="#231f20" stroke-width="0.17">AML</text>
<path d="M191.50,383.50 C192.00,382.80 193.00,382.05 194.00,381.80 C195.00,381.55 196.42,381.55 197.50,382.00 C198.58,382.45 200.25,383.58 200.50,384.50 C200.75,385.42 199.83,386.67 199.00,387.50 C198.17,388.33 196.50,388.50 195.50,389.50 C194.50,390.50 193.55,393.42 193.00,393.50 C192.45,393.58 192.53,391.25 192.20,390.00 C191.87,388.75 191.12,387.08 191.00,386.00 C190.88,384.92 191.00,384.20 191.50,383.50Z" fill="#2c7bb6"/>
<path d="M191.20,417.80 C192.05,417.63 193.60,417.35 194.30,418.30 C195.00,419.25 194.70,421.42 195.40,423.50 C196.10,425.58 197.82,428.55 198.50,430.80 C199.18,433.05 199.67,435.10 199.50,437.00 C199.33,438.90 198.53,440.82 197.50,442.20 C196.47,443.58 194.52,444.08 193.30,445.30 C192.08,446.52 190.88,448.12 190.20,449.50 C189.52,450.88 189.37,451.88 189.20,453.60 C189.03,455.32 189.30,457.73 189.20,459.80 C189.10,461.87 189.13,463.92 188.60,466.00 C188.07,468.08 187.30,470.82 186.00,472.30 C184.70,473.78 183.05,474.38 180.80,474.90 C178.55,475.42 174.92,475.67 172.50,475.40 C170.08,475.13 167.93,474.50 166.30,473.30 C164.67,472.10 163.38,470.45 162.70,468.20 C162.02,465.95 162.12,462.58 162.20,459.80 C162.28,457.02 162.95,454.08 163.20,451.50 C163.45,448.92 163.70,446.72 163.70,444.30 C163.70,441.88 163.20,439.00 163.20,437.00 C163.20,435.00 162.83,433.33 163.70,432.30 C164.57,431.27 166.75,431.15 168.40,430.80 C170.05,430.45 171.87,430.72 173.60,430.20 C175.33,429.68 177.23,428.82 178.80,427.70 C180.37,426.58 181.62,424.55 183.00,423.50 C184.38,422.45 186.07,422.10 187.10,421.40 C188.13,420.70 188.52,419.90 189.20,419.30 C189.88,418.70 190.35,417.97 191.20,417.80Z" fill="#d7262a"/>
<path d="M191.20,417.80 C192.05,417.63 193.60,417.35 194.30,418.30 C195.00,419.25 194.70,421.42 195.40,423.50 C196.10,425.58 197.82,428.55 198.50,430.80 C199.18,433.05 199.67,435.10 199.50,437.00 C199.33,438.90 198.53,440.82 197.50,442.20 C196.47,443.58 194.88,444.67 193.30,445.30 C191.72,445.93 189.88,446.88 188.00,446.00 C186.12,445.12 184.00,441.50 182.00,440.00 C180.00,438.50 178.00,437.42 176.00,437.00 C174.00,436.58 172.00,437.17 170.00,437.50 C168.00,437.83 165.13,439.08 164.00,439.00 C162.87,438.92 163.25,438.12 163.20,437.00 C163.15,435.88 162.83,433.33 163.70,432.30 C164.57,431.27 166.75,431.15 168.40,430.80 C170.05,430.45 171.87,430.72 173.60,430.20 C175.33,429.68 177.23,428.82 178.80,427.70 C180.37,426.58 181.62,424.55 183.00,423.50 C184.38,422.45 186.07,422.10 187.10,421.40 C188.13,420.70 188.52,419.90 189.20,419.30 C189.88,418.70 190.35,417.97 191.20,417.80Z" fill="#f4754f"/>
<path d="M177.1,444.7h.01M183.9,440.4h.01M179.7,451.4h.01M178.6,444.9h.01M179.4,447.0h.01M185.4,450.6h.01M187.5,439.8h.01M180.0,441.1h.01M180.4,445.6h.01M182.0,440.3h.01M179.4,458.1h.01M176.2,456.2h.01M177.3,438.8h.01M180.7,442.2h.01M181.7,440.7h.01M180.6,445.9h.01M186.3,446.2h.01M186.6,444.9h.01M191.4,429.9h.01M180.7,445.6h.01M181.6,446.0h.01M183.7,451.3h.01M181.7,443.7h.01M178.1,444.9h.01M180.7,446.1h.01M181.0,445.9h.01M180.1,437.8h.01M179.5,440.8h.01M186.4,443.2h.01M183.7,449.1h.01M184.6,443.0h.01M183.4,432.7h.01M185.3,440.0h.01M174.4,447.6h.01M180.6,435.7h.01M185.0,450.7h.01M182.3,440.8h.01M184.6,453.7h.01M178.6,442.4h.01M179.3,444.8h.01M182.5,446.9h.01M180.6,446.1h.01M190.9,437.0h.01M181.0,443.3h.01M180.5,442.8h.01M181.0,446.4h.01M180.8,444.5h.01M181.9,448.1h.01M173.0,446.9h.01M176.0,440.4h.01M181.7,438.4h.01M183.8,445.2h.01M185.9,449.0h.01M177.3,454.3h.01M183.2,447.0h.01M178.9,439.2h.01M186.1,446.0h.01M175.2,447.7h.01M184.1,434.5h.01M172.8,441.9h.01M179.1,445.3h.01M187.6,451.8h.01M179.1,438.9h.01M188.4,443.5h.01M180.1,451.7h.01M184.9,443.1h.01M186.6,442.7h.01M186.3,448.4h.01M183.4,438.8h.01M181.6,453.0h.01M187.5,449.0h.01M178.8,449.8h.01M179.1,444.3h.01M184.7,453.4h.01M179.2,445.6h.01M176.5,439.8h.01M186.4,447.4h.01M186.6,451.5h.01M190.1,447.2h.01M177.8,442.3h.01M179.2,443.6h.01M180.0,445.4h.01M179.0,449.8h.01M179.7,441.7h.01M177.0,438.7h.01M182.6,444.1h.01M179.9,444.5h.01M184.8,438.5h.01M177.1,447.0h.01M179.6,444.3h.01M183.7,443.6h.01M185.9,445.4h.01M185.0,448.3h.01M179.4,441.2h.01M186.2,443.7h.01M193.4,439.3h.01M175.2,441.8h.01M178.9,446.1h.01M186.2,442.1h.01M183.3,445.1h.01M183.3,441.5h.01M181.3,442.9h.01M186.9,432.4h.01M177.4,451.1h.01M185.0,442.3h.01M167.9,447.4h.01M187.7,442.6h.01M181.7,444.2h.01M187.4,433.9h.01M179.7,443.1h.01M186.7,449.6h.01M180.6,438.2h.01M183.1,443.4h.01M184.5,444.6h.01M182.0,446.0h.01M182.7,447.9h.01M184.5,438.9h.01M184.0,450.2h.01M185.1,446.5h.01M174.5,439.8h.01M181.2,442.3h.01M177.2,439.3h.01M188.0,441.6h.01M182.5,453.9h.01M179.7,434.5h.01M184.9,453.6h.01M179.6,444.9h.01M182.4,446.8h.01M184.4,442.8h.01M180.4,441.7h.01M182.5,449.2h.01M183.4,443.0h.01M179.6,447.3h.01M176.7,445.1h.01M186.5,439.2h.01M187.7,436.2h.01M182.9,443.5h.01M187.2,446.9h.01M183.8,449.0h.01M177.4,443.4h.01M183.2,435.9h.01M183.6,450.9h.01M178.0,445.4h.01M181.5,436.7h.01M181.4,439.8h.01M187.3,447.8h.01M182.4,448.8h.01M183.8,445.7h.01M172.5,448.9h.01M180.1,442.0h.01M185.1,443.5h.01M181.8,442.8h.01M191.4,441.5h.01M184.6,440.3h.01M177.8,446.2h.01M187.4,441.4h.01M182.6,455.4h.01M176.5,448.3h.01M189.3,441.5h.01M188.0,451.0h.01M168.8,449.7h.01M180.6,446.7h.01M181.9,444.9h.01M171.9,444.4h.01M184.8,455.6h.01M185.3,444.4h.01M183.1,447.2h.01M182.6,444.6h.01M184.0,453.3h.01M178.5,446.6h.01M180.9,442.6h.01M183.0,440.8h.01M179.6,444.1h.01M182.4,447.3h.01M179.0,447.8h.01M189.0,450.0h.01M179.4,451.0h.01M183.0,445.9h.01M185.6,444.0h.01M192.1,445.3h.01M182.1,444.8h.01M180.1,441.0h.01M190.1,442.7h.01M179.1,437.9h.01M178.5,454.6h.01M185.4,443.0h.01M183.9,445.1h.01M176.7,443.4h.01M185.6,434.3h.01M179.1,448.1h.01M175.2,451.0h.01M182.9,447.1h.01M185.6,455.2h.01M189.1,458.7h.01M182.5,449.3h.01M187.3,456.7h.01M184.7,445.9h.01M180.8,439.1h.01M178.9,448.0h.01M184.4,442.7h.01M179.8,443.3h.01M178.4,444.6h.01M179.4,446.8h.01M185.3,444.8h.01M182.1,439.6h.01M183.9,446.2h.01M182.0,441.3h.01M187.3,442.3h.01M185.9,446.2h.01M173.6,434.3h.01M185.1,442.7h.01M178.3,440.3h.01M184.4,442.4h.01M177.0,443.8h.01M177.8,445.0h.01M185.1,444.9h.01M185.9,443.3h.01M183.1,444.3h.01M190.7,444.8h.01M180.2,453.9h.01M188.3,444.5h.01M184.2,441.1h.01M186.7,438.2h.01M184.5,440.3h.01M184.1,449.0h.01M181.2,447.8h.01M184.6,442.6h.01M179.3,440.4h.01M177.7,445.6h.01M172.3,444.9h.01M179.0,436.5h.01M182.5,450.5h.01M181.3,436.9h.01M182.9,443.3h.01M188.7,449.8h.01M180.2,446.7h.01M180.1,445.6h.01M182.1,439.3h.01M184.7,439.5h.01M183.6,444.5h.01M183.7,442.7h.01M179.4,444.7h.01M175.2,450.5h.01M183.1,449.5h.01M180.6,444.0h.01M178.9,444.0h.01M191.6,443.0h.01M172.8,443.2h.01M183.2,445.0h.01M175.0,450.3h.01M192.5,436.3h.01M184.1,439.8h.01M183.4,436.2h.01M174.7,444.9h.01M182.3,441.3h.01M185.3,445.7h.01M183.6,439.5h.01M179.7,452.0h.01M183.8,448.0h.01M188.7,452.4h.01" stroke="#ffffff" stroke-width="1.00" stroke-linecap="round" fill="none" stroke-opacity="0.9"/>
<path d="M178.4,446.9h.01M186.9,437.7h.01M174.9,442.4h.01M178.1,452.5h.01M185.0,442.4h.01M178.3,442.0h.01M177.9,435.9h.01M186.1,445.0h.01M170.3,441.5h.01M186.6,431.5h.01M186.9,448.9h.01M177.5,440.9h.01M184.8,459.7h.01M178.7,438.7h.01M173.0,445.6h.01M183.7,431.8h.01M174.4,459.8h.01M183.4,438.5h.01M186.2,450.5h.01M182.1,458.3h.01M179.8,445.5h.01M189.7,443.3h.01M188.7,443.2h.01M183.6,452.9h.01M185.9,452.6h.01M180.5,434.3h.01M192.6,444.4h.01M182.2,451.6h.01M191.2,433.1h.01M184.9,446.3h.01M183.2,436.6h.01M180.5,434.3h.01M195.9,443.1h.01M177.0,441.0h.01M175.5,444.4h.01M181.4,450.0h.01M173.7,443.7h.01M181.6,447.7h.01M170.1,434.5h.01M166.3,436.7h.01M187.9,455.3h.01M181.4,443.6h.01M187.7,454.0h.01M184.4,440.6h.01M177.5,430.6h.01M183.7,457.1h.01M185.0,447.2h.01M186.9,430.0h.01M180.6,436.1h.01M178.3,436.5h.01M171.3,434.0h.01M177.9,444.9h.01M184.5,452.4h.01M183.4,437.1h.01M182.7,448.1h.01M182.8,443.1h.01M180.6,447.2h.01M181.3,432.7h.01M181.9,441.1h.01M182.5,449.6h.01M195.9,435.1h.01M184.5,435.0h.01M175.4,448.6h.01M177.0,441.8h.01M183.6,446.3h.01M182.7,448.1h.01M181.3,431.4h.01M183.6,437.4h.01M182.5,435.9h.01M177.0,434.3h.01M190.6,439.7h.01M184.9,453.9h.01M178.9,437.1h.01M168.6,461.9h.01M193.6,440.8h.01M173.5,444.6h.01M183.9,446.1h.01M183.2,453.7h.01M193.6,441.4h.01M181.2,441.6h.01M184.0,442.0h.01M185.5,452.6h.01M183.6,441.7h.01M183.8,434.0h.01M178.3,436.4h.01M195.3,441.4h.01M189.3,441.7h.01M186.7,444.6h.01M185.9,456.4h.01M187.8,452.3h.01M184.0,453.7h.01M172.6,450.2h.01M169.3,432.4h.01M185.5,446.0h.01M172.6,437.4h.01M186.0,442.8h.01M189.8,442.4h.01M184.2,443.3h.01M176.9,450.1h.01M182.7,431.1h.01M188.9,450.3h.01M175.4,447.4h.01M181.5,441.7h.01M189.9,439.0h.01M172.5,444.7h.01M168.5,450.2h.01M185.2,444.4h.01M175.6,435.8h.01M182.6,441.5h.01M184.6,448.9h.01M189.2,437.0h.01M182.2,449.4h.01M180.2,438.4h.01M181.8,454.7h.01M185.1,450.0h.01M185.4,449.2h.01M182.3,440.7h.01M179.2,449.8h.01M176.7,446.2h.01M180.7,449.9h.01" stroke="#ffffff" stroke-width="0.90" stroke-linecap="round" fill="none" stroke-opacity="0.8"/>
<path d="M188.0,443.7h.01M189.2,446.3h.01M175.0,472.0h.01M172.0,456.8h.01M189.6,443.7h.01M165.4,455.4h.01M176.5,467.2h.01M171.6,460.0h.01M166.5,445.3h.01M164.2,458.3h.01M177.8,461.1h.01M188.2,449.0h.01M171.6,455.1h.01M188.5,449.0h.01M170.1,453.6h.01M181.3,447.9h.01M166.8,465.5h.01M178.1,459.6h.01M164.8,451.2h.01M185.7,451.4h.01M177.8,472.0h.01M171.6,452.6h.01M182.0,450.4h.01M175.3,451.1h.01M185.1,457.2h.01M164.7,437.6h.01M180.0,441.5h.01M180.7,445.7h.01M176.9,450.4h.01M180.3,442.2h.01M173.4,462.6h.01M178.0,469.7h.01M173.4,439.6h.01M169.2,451.6h.01M168.6,464.8h.01M166.7,468.7h.01M183.9,456.0h.01M165.9,438.2h.01M181.1,440.0h.01M169.9,460.5h.01M170.7,438.4h.01M184.3,465.2h.01M179.1,440.9h.01M175.6,474.6h.01M176.3,446.9h.01M188.2,450.5h.01M176.6,443.4h.01M186.1,463.6h.01M176.9,456.2h.01M171.5,454.9h.01M176.3,437.8h.01M182.0,466.4h.01M182.0,450.5h.01M166.0,464.2h.01M189.5,450.8h.01M178.6,458.4h.01M177.6,460.3h.01M186.9,463.9h.01M183.3,466.5h.01M182.8,463.7h.01M183.2,439.3h.01M166.7,462.4h.01M173.8,445.9h.01M180.1,444.9h.01M183.2,449.4h.01M187.7,449.3h.01M189.0,449.8h.01M183.9,442.3h.01M176.1,450.9h.01M186.1,464.8h.01M178.0,441.4h.01M176.6,446.3h.01M164.8,464.4h.01M185.6,438.7h.01M188.4,457.7h.01M189.8,449.0h.01M175.1,464.1h.01M169.1,452.8h.01M171.4,450.2h.01M177.1,456.5h.01M186.7,446.6h.01M168.8,448.3h.01M171.7,440.7h.01M176.5,440.4h.01M179.0,444.8h.01M166.3,439.4h.01M167.1,470.1h.01M183.4,470.6h.01M172.3,458.7h.01M182.0,462.7h.01M180.1,438.2h.01M169.9,449.7h.01M183.3,473.1h.01M163.4,462.2h.01M178.9,461.2h.01M167.3,453.3h.01M186.6,449.7h.01M167.6,445.3h.01M184.4,446.2h.01M181.8,460.9h.01M185.0,439.4h.01M170.4,474.3h.01M175.9,440.4h.01M165.1,444.2h.01M180.5,449.5h.01M164.7,447.2h.01M184.4,465.1h.01M175.4,447.4h.01M164.7,441.3h.01M186.7,460.9h.01M188.4,452.5h.01M187.0,449.9h.01M171.7,453.0h.01M176.3,451.7h.01M168.6,440.2h.01M170.3,459.2h.01M186.2,464.4h.01M176.3,452.9h.01M166.5,464.1h.01M184.3,450.7h.01M183.0,469.8h.01M171.9,437.2h.01M185.4,457.0h.01M164.1,460.7h.01M179.6,461.3h.01M180.2,458.3h.01M180.5,470.6h.01M176.5,463.6h.01M175.3,466.2h.01M164.5,449.7h.01M183.6,450.8h.01M176.7,450.8h.01M183.6,441.6h.01M170.3,439.5h.01M164.0,452.4h.01M188.4,443.4h.01M179.3,466.0h.01M181.8,438.6h.01M162.7,465.4h.01M168.3,467.4h.01M180.3,474.9h.01M173.0,468.2h.01M166.3,447.4h.01M172.6,451.4h.01M177.2,448.0h.01M165.4,455.5h.01M175.8,468.9h.01M178.0,454.9h.01M168.2,465.4h.01M186.7,439.5h.01M169.9,466.1h.01M168.9,439.7h.01M166.2,441.1h.01M181.1,442.8h.01M185.0,447.7h.01M175.3,456.6h.01M168.1,448.5h.01M164.6,443.0h.01M185.9,446.6h.01M176.8,458.6h.01" stroke="#f0704c" stroke-width="0.90" stroke-linecap="round" fill="none" stroke-opacity="0.8"/>
<path d="M180.1,435.6h.01M188.8,440.5h.01M192.5,423.6h.01M193.1,436.3h.01M178.7,438.2h.01M165.2,437.0h.01M184.4,424.1h.01M191.2,429.1h.01M182.9,428.0h.01M172.7,436.8h.01M193.5,418.8h.01M192.6,426.5h.01M194.6,442.8h.01M173.3,436.0h.01M183.6,424.6h.01M198.6,436.4h.01M174.7,433.7h.01M180.0,436.9h.01M174.1,432.4h.01M182.3,436.8h.01M194.0,441.0h.01M176.8,428.8h.01M187.8,444.0h.01M187.1,435.2h.01M191.1,437.4h.01M180.1,433.8h.01M175.7,436.2h.01M190.6,431.2h.01M191.8,432.4h.01M184.7,429.4h.01M190.0,441.3h.01M175.3,433.8h.01M193.2,420.4h.01M181.5,425.7h.01M196.0,435.1h.01M192.2,440.8h.01M184.5,427.3h.01M186.2,422.6h.01M186.9,439.1h.01M191.1,427.8h.01M189.2,439.1h.01M183.1,428.9h.01M179.6,430.5h.01M190.0,432.6h.01M198.9,433.4h.01M197.1,439.8h.01M170.8,432.7h.01M171.3,436.4h.01M196.4,437.7h.01M181.5,437.7h.01M169.0,431.9h.01M182.1,427.1h.01M185.7,442.6h.01M184.9,438.2h.01M166.8,437.1h.01M198.8,436.1h.01M192.7,431.0h.01M195.8,430.6h.01M185.6,428.6h.01M182.2,429.2h.01" stroke="#fbd0c0" stroke-width="0.90" stroke-linecap="round" fill="none" stroke-opacity="0.8"/>
<path d="M177.8,439.4h.01M172.2,441.3h.01M171.5,444.0h.01M178.3,436.4h.01M168.9,438.3h.01M172.5,436.9h.01M169.6,439.4h.01M171.1,434.7h.01M164.6,437.9h.01M181.2,431.0h.01M169.7,433.5h.01M176.0,437.7h.01M169.1,441.1h.01M170.3,440.3h.01M176.2,444.4h.01M184.1,436.9h.01M173.7,435.1h.01M169.7,440.8h.01M175.0,438.2h.01M165.9,438.5h.01M167.6,434.8h.01M181.4,441.4h.01M165.9,439.5h.01M168.0,440.1h.01M185.7,434.2h.01M177.4,444.1h.01M176.2,432.8h.01M169.4,444.3h.01M166.2,436.4h.01M179.1,438.8h.01M174.3,440.2h.01M175.7,435.9h.01M174.3,435.4h.01M176.5,440.0h.01M173.7,439.5h.01M167.7,433.9h.01M176.0,442.4h.01M169.3,437.7h.01M179.6,440.7h.01M181.5,435.1h.01M170.2,437.3h.01M171.9,436.9h.01M172.5,436.7h.01M178.8,437.4h.01M172.6,439.3h.01M171.2,442.7h.01M171.7,439.2h.01M172.0,436.2h.01M174.0,439.8h.01M174.8,439.8h.01M172.9,438.2h.01M176.4,440.1h.01M182.1,435.3h.01M168.6,437.4h.01M176.3,437.0h.01M164.4,437.5h.01M168.3,439.1h.01M174.3,437.1h.01M167.1,441.9h.01M171.8,438.6h.01M180.4,440.4h.01M166.4,437.6h.01M176.7,434.4h.01M173.3,439.9h.01M176.8,436.1h.01M166.6,437.1h.01M179.7,436.5h.01M174.8,435.3h.01M171.0,436.9h.01M175.6,439.8h.01M168.4,445.2h.01M173.2,441.8h.01M177.2,435.3h.01M179.5,435.2h.01M172.0,436.3h.01M168.0,443.7h.01M164.5,441.4h.01M176.4,433.9h.01M180.7,436.8h.01M170.0,434.3h.01" stroke="#d7262a" stroke-width="1.00" stroke-linecap="round" fill="none"/>
<circle cx="191.50" cy="416.50" r="0.60" fill="#7aa0d0"/>
<path d="M239.00,444.00 C239.50,442.33 240.92,442.00 242.00,442.00 C243.08,442.00 244.42,443.83 245.50,444.00 C246.58,444.17 247.58,442.67 248.50,443.00 C249.42,443.33 250.75,444.50 251.00,446.00 C251.25,447.50 250.50,450.50 250.00,452.00 C249.50,453.50 249.33,454.42 248.00,455.00 C246.67,455.58 243.50,456.00 242.00,455.50 C240.50,455.00 239.50,453.92 239.00,452.00 C238.50,450.08 238.50,445.67 239.00,444.00Z" fill="#b05a1e"/>
<path d="M238.00,458.00 C238.83,456.42 241.00,456.00 243.00,455.50 C245.00,455.00 247.83,454.75 250.00,455.00 C252.17,455.25 254.73,455.83 256.00,457.00 C257.27,458.17 257.77,460.25 257.60,462.00 C257.43,463.75 256.43,466.25 255.00,467.50 C253.57,468.75 251.17,469.25 249.00,469.50 C246.83,469.75 243.83,469.75 242.00,469.00 C240.17,468.25 238.67,466.83 238.00,465.00 C237.33,463.17 237.17,459.58 238.00,458.00Z" fill="#b05a1e"/>
<path d="M245.3,447.8h.01M250.9,450.3h.01M241.0,453.7h.01M240.9,446.6h.01M240.9,452.2h.01M250.1,451.9h.01M242.7,455.0h.01M250.5,448.3h.01M243.3,452.8h.01M251.7,455.9h.01M250.5,453.3h.01M242.7,452.0h.01M245.1,452.3h.01M245.8,446.7h.01M250.8,444.5h.01M244.1,448.3h.01M251.6,445.5h.01M246.9,456.3h.01M247.3,456.1h.01M244.7,449.7h.01M244.4,448.8h.01M244.2,445.0h.01M251.8,453.5h.01M248.1,450.9h.01M242.4,446.9h.01M251.6,454.7h.01M245.5,453.7h.01M251.5,444.5h.01M244.4,449.2h.01M244.1,451.0h.01M243.5,445.6h.01M250.4,449.5h.01M249.6,445.7h.01M243.7,450.4h.01M240.4,449.4h.01M242.1,449.1h.01M243.5,454.1h.01M246.1,447.3h.01M247.1,450.2h.01M242.7,454.1h.01" stroke="#f0d8c8" stroke-width="1.00" stroke-linecap="round" fill="none"/>
<path d="M278.70,401.90 C279.47,400.17 280.07,400.08 281.50,399.60 C282.93,399.12 284.42,398.90 287.30,399.00 C290.18,399.10 295.53,399.62 298.80,400.20 C302.07,400.78 304.78,401.53 306.90,402.50 C309.02,403.47 309.97,404.85 311.50,406.00 C313.03,407.15 314.57,408.35 316.10,409.40 C317.63,410.45 319.35,411.33 320.70,412.30 C322.05,413.27 323.72,414.43 324.20,415.20 C324.68,415.97 324.57,416.90 323.60,416.90 C322.63,416.90 320.22,416.07 318.40,415.20 C316.58,414.33 314.42,412.67 312.70,411.70 C310.98,410.73 309.65,409.88 308.10,409.40 C306.55,408.92 304.95,408.80 303.40,408.80 C301.85,408.80 300.53,408.82 298.80,409.40 C297.07,409.98 294.55,411.15 293.00,412.30 C291.45,413.45 290.17,415.10 289.50,416.30 C288.83,417.50 288.42,418.43 289.00,419.50 C289.58,420.57 290.00,422.12 293.00,422.70 C296.00,423.28 304.67,422.52 307.00,423.00 C309.33,423.48 309.33,425.18 307.00,425.60 C304.67,426.02 295.25,425.10 293.00,425.50 C290.75,425.90 293.30,426.75 293.50,428.00 C293.70,429.25 293.70,431.20 294.20,433.00 C294.70,434.80 295.92,436.48 296.50,438.80 C297.08,441.12 296.93,444.58 297.70,446.90 C298.47,449.22 299.95,451.17 301.10,452.70 C302.25,454.23 304.02,454.57 304.60,456.10 C305.18,457.63 305.18,460.35 304.60,461.90 C304.02,463.45 302.63,464.25 301.10,465.40 C299.57,466.55 297.32,467.75 295.40,468.80 C293.48,469.85 291.53,471.50 289.60,471.70 C287.67,471.90 285.72,470.87 283.80,470.00 C281.88,469.13 279.63,468.23 278.10,466.50 C276.57,464.77 275.28,461.90 274.60,459.60 C273.92,457.30 273.72,455.02 274.00,452.70 C274.28,450.38 275.62,448.02 276.30,445.70 C276.98,443.38 277.80,441.10 278.10,438.80 C278.40,436.50 278.30,434.20 278.10,431.90 C277.90,429.60 277.20,427.32 276.90,425.00 C276.60,422.68 276.30,420.50 276.30,418.00 C276.30,415.50 276.50,412.68 276.90,410.00 C277.30,407.32 277.93,403.63 278.70,401.90Z" fill="#cbcbcb"/>
<path d="M294.00,398.50 C294.33,397.42 297.17,394.50 299.00,393.00 C300.83,391.50 302.83,390.50 305.00,389.50 C307.17,388.50 309.50,387.58 312.00,387.00 C314.50,386.42 317.33,386.00 320.00,386.00 C322.67,386.00 325.33,386.58 328.00,387.00 C330.67,387.42 333.83,388.17 336.00,388.50 C338.17,388.83 339.58,388.50 341.00,389.00 C342.42,389.50 343.83,390.33 344.50,391.50 C345.17,392.67 345.42,394.75 345.00,396.00 C344.58,397.25 342.92,398.83 342.00,399.00 C341.08,399.17 340.17,398.00 339.50,397.00 C338.83,396.00 339.08,393.92 338.00,393.00 C336.92,392.08 335.17,391.92 333.00,391.50 C330.83,391.08 327.67,390.75 325.00,390.50 C322.33,390.25 319.50,389.83 317.00,390.00 C314.50,390.17 312.33,390.75 310.00,391.50 C307.67,392.25 305.17,393.17 303.00,394.50 C300.83,395.83 298.50,398.83 297.00,399.50 C295.50,400.17 293.67,399.58 294.00,398.50Z" fill="#cbcbcb"/>
<path d="M339.20,422.30 C340.32,421.65 342.98,420.82 344.90,421.30 C346.82,421.78 348.45,424.55 350.70,425.20 C352.95,425.85 356.15,424.88 358.40,425.20 C360.65,425.52 363.57,425.98 364.20,427.10 C364.83,428.22 363.48,430.13 362.20,431.90 C360.92,433.67 358.10,435.77 356.50,437.70 C354.90,439.63 354.20,441.58 352.60,443.50 C351.00,445.42 349.13,447.77 346.90,449.20 C344.67,450.63 341.77,451.77 339.20,452.10 C336.63,452.43 333.43,452.32 331.50,451.20 C329.57,450.08 328.40,447.33 327.60,445.40 C326.80,443.47 326.05,441.05 326.70,439.60 C327.35,438.15 329.58,437.33 331.50,436.70 C333.42,436.07 336.92,436.92 338.20,435.80 C339.48,434.68 339.20,431.77 339.20,430.00 C339.20,428.23 338.20,426.48 338.20,425.20 C338.20,423.92 338.08,422.95 339.20,422.30Z" fill="#cbcbcb"/>
<path d="M293.7,448.7h.01M281.0,407.2h.01M285.6,454.1h.01M281.4,452.8h.01M307.2,408.9h.01M284.0,423.0h.01M292.3,468.4h.01M284.6,414.8h.01M275.5,452.4h.01M285.0,456.9h.01M290.8,427.8h.01M289.4,411.8h.01M307.9,405.8h.01M283.7,466.0h.01M278.8,428.0h.01M296.8,457.2h.01M296.3,456.4h.01M302.2,407.6h.01M280.0,413.1h.01M290.8,450.9h.01M299.0,456.3h.01M288.0,426.1h.01M280.9,451.7h.01M291.5,399.8h.01M282.8,402.3h.01M280.3,461.9h.01M284.4,413.1h.01M283.2,432.1h.01M297.2,451.1h.01M297.4,408.7h.01M280.2,455.9h.01M282.3,461.0h.01M280.0,429.9h.01M281.1,426.7h.01M289.4,429.9h.01M286.2,455.6h.01M284.1,458.2h.01M292.3,428.2h.01M284.0,414.6h.01M291.3,449.7h.01M292.5,455.1h.01M277.3,417.1h.01M287.9,412.2h.01M288.9,433.4h.01M293.1,454.1h.01M289.1,465.3h.01M304.4,460.5h.01M278.8,440.7h.01M283.4,426.1h.01M293.5,448.2h.01M294.6,458.9h.01M286.2,450.3h.01M277.1,417.1h.01M281.1,402.5h.01M289.7,402.3h.01M294.5,438.1h.01M296.1,409.3h.01M275.2,457.4h.01M298.0,448.8h.01M282.5,405.5h.01M290.2,427.3h.01M295.0,467.7h.01M275.9,452.1h.01M301.9,456.1h.01M296.8,409.0h.01M303.4,462.3h.01M291.1,468.8h.01M287.7,431.0h.01M283.4,415.4h.01M287.0,464.9h.01M282.5,453.8h.01M279.4,456.1h.01M287.4,455.7h.01M295.7,404.7h.01M278.7,457.2h.01M291.7,449.3h.01M298.2,403.5h.01M312.8,407.7h.01M301.4,456.2h.01M287.0,404.4h.01M300.8,458.4h.01M297.1,408.7h.01M293.5,464.2h.01M283.4,408.9h.01M317.0,410.8h.01M303.7,424.1h.01M277.6,464.2h.01M282.5,406.1h.01M291.5,412.1h.01M277.7,429.1h.01M289.0,402.8h.01M288.9,458.7h.01M286.5,462.2h.01M292.0,429.0h.01M282.3,418.1h.01M281.5,449.3h.01M306.6,406.6h.01M298.6,424.0h.01M282.1,433.0h.01M297.4,451.1h.01M292.8,430.5h.01M290.9,457.5h.01M278.0,442.2h.01M301.6,454.8h.01M280.4,446.8h.01M279.1,464.4h.01M294.0,432.8h.01M291.1,468.1h.01M286.7,404.0h.01M289.3,431.0h.01" stroke="#ffffff" stroke-width="0.90" stroke-linecap="round" fill="none" stroke-opacity="0.85"/>
<path d="M290.4,445.3h.01M283.1,457.2h.01M278.2,443.3h.01M292.3,447.9h.01M290.7,435.9h.01M286.9,443.2h.01M287.1,439.4h.01M295.9,443.7h.01M292.8,431.9h.01M290.5,441.6h.01M289.4,444.7h.01M289.7,442.5h.01M287.6,444.2h.01M288.5,443.6h.01M285.0,446.3h.01M282.4,458.0h.01M292.0,454.2h.01M286.5,433.9h.01M278.6,437.5h.01M283.6,440.4h.01M285.0,447.6h.01M285.1,444.2h.01M277.0,444.9h.01M278.9,446.7h.01M288.7,444.4h.01M286.1,441.1h.01M285.3,449.5h.01M287.5,444.8h.01M281.9,427.0h.01M292.0,435.6h.01M280.5,441.7h.01M287.8,449.7h.01M286.4,438.5h.01M290.9,436.2h.01M278.9,435.1h.01M285.2,440.0h.01M287.0,443.3h.01M287.9,437.0h.01M284.8,443.8h.01M285.6,446.8h.01M285.5,445.2h.01M283.5,424.0h.01M289.3,454.8h.01M281.6,438.9h.01M291.5,439.3h.01M287.6,441.3h.01M290.4,442.0h.01M285.5,432.7h.01M287.5,436.2h.01M290.6,447.0h.01M287.7,450.5h.01M286.8,451.8h.01M288.6,445.1h.01M291.8,437.5h.01M287.0,440.2h.01M285.0,443.0h.01M293.5,462.1h.01M291.1,442.2h.01M283.4,453.1h.01M283.5,442.8h.01M294.6,442.1h.01M286.2,444.1h.01M277.8,442.2h.01M288.0,445.7h.01M285.0,427.5h.01M282.5,448.5h.01M282.6,436.6h.01M290.1,447.1h.01M288.0,447.5h.01M291.7,446.7h.01M289.0,456.3h.01M280.8,459.2h.01M288.6,437.9h.01M291.1,450.5h.01M280.3,444.4h.01M291.8,449.0h.01M287.3,435.4h.01M286.6,458.8h.01M281.9,465.0h.01M286.9,442.6h.01M284.0,444.3h.01M288.3,435.9h.01M298.6,451.8h.01M289.3,433.9h.01M285.0,441.9h.01M291.6,442.3h.01M280.7,441.8h.01M286.0,443.2h.01M292.0,437.9h.01M278.4,451.6h.01M292.6,434.4h.01M291.3,439.4h.01M291.0,447.0h.01M279.2,435.7h.01M286.2,433.2h.01M280.4,436.9h.01M286.1,442.4h.01M282.8,441.4h.01M293.8,447.2h.01M289.4,438.2h.01M283.3,434.4h.01M282.3,430.1h.01M286.3,440.3h.01M283.2,438.7h.01M279.9,448.2h.01M290.6,451.7h.01M289.0,441.9h.01M292.1,434.2h.01M279.3,449.8h.01M289.9,445.0h.01M294.7,442.9h.01M288.4,446.2h.01M280.5,445.9h.01M290.5,442.7h.01M283.1,437.3h.01M294.7,452.0h.01M286.5,437.5h.01M293.6,450.9h.01M290.1,437.9h.01M291.5,449.8h.01M284.5,437.2h.01M284.8,444.7h.01M289.5,446.8h.01M287.1,439.4h.01M289.0,450.4h.01M288.0,448.0h.01M286.7,437.9h.01M284.9,441.9h.01M278.5,441.8h.01M283.6,444.5h.01M291.3,444.1h.01M284.9,444.8h.01M281.1,446.7h.01M294.5,447.1h.01M295.2,440.0h.01M277.1,447.1h.01M295.9,439.4h.01M295.7,438.9h.01M285.7,446.4h.01M278.5,443.9h.01M286.4,449.6h.01M288.4,444.0h.01M286.4,456.6h.01M289.9,444.5h.01M275.3,453.8h.01M287.3,445.0h.01M291.8,444.9h.01M295.2,443.4h.01M290.3,444.7h.01M290.9,445.6h.01M289.8,445.2h.01M288.4,447.8h.01M283.5,438.0h.01M287.2,444.1h.01M294.1,432.7h.01M295.2,439.5h.01M282.5,445.6h.01M289.0,450.1h.01M275.7,451.1h.01M289.6,453.3h.01M286.0,432.8h.01M285.8,441.7h.01M291.0,449.7h.01M287.9,438.2h.01M292.7,452.7h.01M293.4,447.9h.01M288.3,440.6h.01M293.2,448.9h.01M286.9,442.0h.01M277.4,445.5h.01M287.9,436.1h.01M294.6,443.5h.01M281.4,441.3h.01M281.0,437.7h.01M280.1,444.0h.01M278.2,438.5h.01M287.3,441.6h.01M287.9,437.9h.01M283.6,445.3h.01M285.0,449.6h.01M284.5,443.9h.01M285.3,450.4h.01M281.9,448.6h.01M293.4,446.8h.01M294.5,436.6h.01M284.5,446.0h.01M283.9,439.6h.01M285.6,454.9h.01M283.6,442.7h.01M288.8,454.1h.01M280.1,430.9h.01M286.7,437.3h.01M283.7,429.2h.01M289.6,447.2h.01M291.7,454.4h.01M284.5,434.6h.01M288.9,449.8h.01M286.5,441.3h.01M293.6,436.1h.01M282.4,442.4h.01M282.4,448.6h.01M283.5,439.6h.01M285.4,451.1h.01M286.9,441.8h.01M293.5,437.1h.01M280.0,442.9h.01M289.6,436.3h.01M285.9,445.7h.01M286.0,445.1h.01M286.8,453.0h.01M279.4,455.0h.01M276.7,445.6h.01M291.0,461.6h.01M289.3,435.0h.01M293.0,454.1h.01M292.9,440.9h.01M287.8,433.2h.01M288.5,427.8h.01M285.2,439.8h.01M280.6,446.3h.01M288.3,453.8h.01M285.9,445.7h.01M281.3,451.9h.01M283.8,438.3h.01M279.7,448.2h.01M288.5,440.3h.01M288.9,449.8h.01M287.7,447.3h.01M286.0,446.7h.01M292.6,444.7h.01M280.0,446.7h.01M282.6,443.8h.01M282.6,437.9h.01M288.0,422.5h.01M290.5,431.9h.01M296.0,442.7h.01M286.9,432.5h.01M293.6,441.3h.01M281.1,449.1h.01M290.5,454.5h.01M281.9,442.1h.01M283.2,433.1h.01M283.4,439.1h.01M286.1,442.9h.01M286.0,443.8h.01M285.2,441.4h.01M288.1,455.1h.01M286.0,438.2h.01M285.3,444.0h.01M283.2,439.8h.01M281.8,442.4h.01M296.2,438.8h.01M289.0,452.3h.01M288.3,438.6h.01M291.5,450.1h.01M283.3,437.4h.01M279.8,440.6h.01M286.2,440.0h.01M285.4,446.4h.01M289.1,458.3h.01M279.5,433.8h.01M283.8,445.8h.01M295.2,449.1h.01M292.7,434.3h.01M288.7,454.7h.01M290.7,439.2h.01M289.4,452.7h.01M288.2,434.1h.01M292.6,438.8h.01M289.7,448.6h.01M284.4,450.7h.01M279.7,452.3h.01M280.1,434.1h.01M285.3,441.4h.01M288.2,446.3h.01M285.9,436.5h.01M292.2,429.8h.01M291.8,434.8h.01M287.2,445.9h.01M277.2,443.6h.01M288.6,441.1h.01M292.4,445.3h.01M283.2,439.2h.01M283.6,432.0h.01M293.1,429.0h.01M293.1,457.8h.01M293.8,447.0h.01M287.4,439.6h.01M286.2,453.6h.01M284.6,444.5h.01M294.1,446.0h.01M289.0,446.1h.01M286.4,451.6h.01M291.3,446.0h.01M286.1,448.2h.01M287.0,435.2h.01M289.8,427.2h.01M290.8,441.3h.01M285.7,439.6h.01M294.6,445.2h.01M283.8,442.2h.01M284.6,453.7h.01M285.0,440.8h.01M287.7,442.0h.01M280.8,448.4h.01M287.2,447.1h.01M288.4,445.8h.01M282.0,460.0h.01M294.1,445.6h.01M279.0,429.4h.01M293.1,451.7h.01M276.5,449.5h.01M293.9,439.0h.01M285.1,440.5h.01M282.5,457.2h.01M284.3,438.8h.01M290.6,455.1h.01M289.0,433.3h.01M288.5,438.6h.01M286.1,436.2h.01M278.6,452.1h.01M285.6,438.9h.01M284.8,447.5h.01M283.4,449.2h.01M287.7,443.2h.01M286.4,435.5h.01M293.1,443.6h.01M283.9,438.0h.01M290.1,456.6h.01M289.3,435.2h.01M283.1,433.8h.01M282.5,440.3h.01M284.1,446.5h.01M285.7,445.3h.01M288.3,437.4h.01M290.7,443.7h.01M289.9,434.4h.01M287.6,445.2h.01M281.4,448.3h.01M284.7,440.8h.01M288.2,429.8h.01M287.4,448.2h.01M290.3,457.0h.01M289.4,439.2h.01M286.2,436.7h.01M288.6,437.5h.01M281.4,436.5h.01M278.2,434.8h.01M283.9,439.7h.01M284.1,447.2h.01M281.2,442.2h.01M282.2,443.1h.01M289.0,435.8h.01M281.1,444.5h.01M281.9,443.0h.01M285.9,443.3h.01M283.1,442.8h.01M284.9,445.1h.01M291.6,446.3h.01M286.7,442.7h.01M290.2,440.7h.01M285.4,447.9h.01M295.9,440.5h.01M287.4,439.8h.01M284.9,457.7h.01M284.0,444.4h.01M282.1,447.8h.01M283.2,433.6h.01M283.0,443.1h.01M280.0,437.7h.01M284.7,443.8h.01M282.1,448.8h.01M281.9,453.2h.01M285.6,435.7h.01M285.4,430.8h.01M289.8,466.4h.01M287.4,430.2h.01M287.8,448.4h.01M291.8,437.7h.01M295.2,440.7h.01M292.6,436.5h.01M294.6,440.6h.01M283.7,447.0h.01M283.1,441.3h.01M294.8,436.2h.01M291.8,435.4h.01M289.7,442.8h.01M288.5,450.7h.01M288.2,444.5h.01M282.1,432.8h.01M295.2,438.8h.01M290.8,439.9h.01M287.0,450.9h.01M289.3,443.1h.01M283.5,451.3h.01M291.7,438.0h.01M284.1,440.4h.01M295.0,438.0h.01M286.2,443.7h.01M286.7,436.1h.01M287.6,438.2h.01M292.3,436.3h.01M281.3,442.3h.01M285.7,449.3h.01M283.6,450.7h.01M289.5,445.0h.01M288.1,439.3h.01M287.4,454.8h.01M281.5,459.3h.01M290.0,446.7h.01M285.2,439.4h.01M283.6,448.8h.01M290.2,433.7h.01M282.8,443.8h.01M285.3,445.8h.01M284.5,444.7h.01M284.0,445.9h.01M282.3,437.1h.01M284.3,451.7h.01M297.8,458.8h.01" stroke="#d7191c" stroke-width="1.10" stroke-linecap="round" fill="none"/>
<path d="M279.6,438.0h.01M287.5,447.5h.01M276.8,448.6h.01M294.9,439.2h.01M286.1,443.9h.01M294.2,456.2h.01M283.1,439.2h.01M279.6,425.0h.01M293.1,447.5h.01M280.5,457.5h.01M290.4,434.7h.01M291.2,443.6h.01M280.6,455.7h.01M282.9,451.6h.01M290.5,453.3h.01M295.2,436.1h.01M294.5,436.1h.01M285.9,447.7h.01M282.0,425.9h.01M280.1,422.7h.01M286.8,446.8h.01M280.2,447.8h.01M285.3,426.1h.01M278.2,439.3h.01M280.5,433.0h.01M289.4,426.3h.01M283.4,430.9h.01M295.5,436.7h.01M280.7,453.8h.01M291.3,446.2h.01M295.9,442.6h.01M285.8,450.0h.01M288.7,426.2h.01M294.4,442.5h.01M284.6,458.5h.01M296.4,455.4h.01M283.6,442.5h.01M289.6,452.3h.01M281.6,440.8h.01M276.1,451.5h.01M286.9,422.9h.01M281.0,449.6h.01M282.5,441.5h.01M281.5,437.2h.01M286.4,451.5h.01M290.2,444.1h.01M285.7,435.3h.01M289.5,443.9h.01M284.3,439.8h.01M282.0,428.1h.01M286.8,422.8h.01M284.4,428.1h.01M282.4,452.7h.01M289.4,445.8h.01M282.7,427.2h.01M291.6,448.2h.01M281.4,435.9h.01M283.4,435.5h.01M290.2,448.9h.01M283.0,455.5h.01M280.3,444.2h.01M292.3,422.8h.01M286.6,435.0h.01M285.5,444.5h.01M285.7,428.8h.01M288.2,441.4h.01M293.1,433.6h.01M292.5,429.5h.01M292.0,448.7h.01M286.1,438.1h.01M287.3,430.8h.01M279.0,439.3h.01M288.2,428.8h.01M283.2,441.1h.01M285.3,433.9h.01M285.4,439.4h.01M294.7,448.8h.01M283.8,453.2h.01M283.3,431.3h.01M278.2,437.9h.01M278.8,429.2h.01M294.5,449.0h.01M280.2,443.4h.01M289.8,444.1h.01M296.6,446.3h.01M282.3,442.4h.01M288.9,438.2h.01M278.0,430.5h.01M278.3,441.2h.01M278.8,441.9h.01M282.1,444.0h.01M280.5,421.6h.01M293.6,438.1h.01M286.6,447.6h.01M291.8,449.3h.01M281.6,435.4h.01M293.5,448.0h.01M286.1,436.9h.01M295.5,442.4h.01M290.6,444.1h.01M285.5,457.9h.01M291.6,423.5h.01M278.8,452.9h.01M287.4,433.0h.01M283.3,431.0h.01M285.4,433.4h.01M279.8,453.6h.01M293.0,430.5h.01M283.2,438.3h.01M280.6,440.9h.01M283.8,449.7h.01M278.9,440.1h.01M285.1,435.1h.01M278.0,431.5h.01M282.7,437.9h.01M280.4,432.2h.01M289.2,444.7h.01M292.7,440.2h.01M278.4,447.8h.01M287.8,437.2h.01" stroke="#d7191c" stroke-width="1.00" stroke-linecap="round" fill="none"/>
<path d="M277.6,428.2h.01M285.6,427.8h.01M277.9,424.8h.01M286.7,429.0h.01M280.0,426.6h.01M278.7,429.4h.01M290.7,428.5h.01M282.6,432.4h.01M282.4,430.0h.01M277.6,426.9h.01M289.7,428.3h.01M283.0,428.6h.01M283.3,432.0h.01M290.6,427.0h.01M287.2,431.8h.01M284.2,432.4h.01M290.1,430.1h.01M282.3,432.8h.01M285.0,431.3h.01M293.9,431.3h.01M283.9,426.2h.01M286.0,431.2h.01M287.2,431.8h.01M287.8,430.9h.01M285.0,431.9h.01M280.9,427.3h.01M279.4,430.5h.01M283.3,431.1h.01M279.2,430.3h.01M284.5,428.6h.01M284.6,429.6h.01M278.8,429.1h.01M279.8,435.8h.01M283.1,428.3h.01M286.1,430.3h.01M277.5,427.1h.01M278.9,430.7h.01M280.1,429.9h.01M293.1,424.6h.01M283.0,430.1h.01M282.9,431.3h.01M287.1,434.3h.01M281.0,428.3h.01M278.0,426.4h.01M293.2,428.8h.01" stroke="#f26a44" stroke-width="1.10" stroke-linecap="round" fill="none"/>
<path d="M290.4,462.9h.01M301.3,458.0h.01M303.4,459.3h.01M283.5,452.1h.01M289.9,453.4h.01M282.5,463.4h.01M298.1,466.6h.01M276.7,451.3h.01M281.9,462.1h.01M302.9,463.0h.01M293.7,456.4h.01M283.7,454.5h.01M290.6,463.4h.01M291.8,458.6h.01M287.1,455.5h.01M299.3,462.8h.01M282.7,452.6h.01M298.5,458.9h.01M298.1,457.5h.01M287.0,460.2h.01M278.1,456.1h.01M281.2,456.5h.01M276.1,456.6h.01M277.2,461.5h.01M286.6,455.0h.01M303.2,456.8h.01M290.5,469.7h.01M292.9,469.2h.01M284.4,457.1h.01M297.9,466.3h.01M284.6,458.0h.01M293.1,455.7h.01M290.5,451.3h.01M282.4,461.0h.01M291.0,466.8h.01M281.8,465.3h.01M285.4,467.9h.01M288.4,463.1h.01M298.6,455.9h.01M297.3,465.5h.01M300.7,463.3h.01M290.8,460.2h.01M286.6,460.2h.01M289.3,458.6h.01M278.5,458.7h.01" stroke="#d7191c" stroke-width="0.90" stroke-linecap="round" fill="none"/>
<path d="M291.0,466.5h.01M291.6,466.4h.01M282.5,458.1h.01M296.2,462.9h.01M297.3,458.0h.01M296.4,458.2h.01M275.6,455.2h.01M284.1,453.5h.01M279.1,451.6h.01M300.2,451.8h.01M279.0,451.7h.01M302.2,462.0h.01M289.4,458.7h.01M286.1,455.8h.01M289.6,466.6h.01M294.8,462.1h.01M277.0,458.3h.01M300.4,459.7h.01M295.1,455.7h.01M292.1,454.8h.01M279.4,452.8h.01M301.7,463.5h.01M299.7,453.6h.01M297.3,456.4h.01M287.7,458.7h.01M275.7,458.6h.01M290.2,463.6h.01M290.7,453.7h.01M292.8,456.4h.01M298.1,451.9h.01M291.5,457.7h.01M288.3,465.1h.01M298.7,450.1h.01M301.4,464.3h.01M299.1,458.2h.01M301.2,453.6h.01M288.1,455.3h.01M299.5,456.7h.01M286.8,460.2h.01M295.7,453.9h.01M299.1,465.2h.01M289.3,467.6h.01M303.8,461.5h.01M298.2,464.9h.01M281.5,453.2h.01" stroke="#2c7bb6" stroke-width="1.00" stroke-linecap="round" fill="none"/>
<path d="M301.7,461.0h.01M294.3,456.1h.01M298.3,463.0h.01M292.1,468.7h.01M286.7,464.8h.01M286.3,461.8h.01M297.9,454.3h.01M287.4,468.2h.01M295.4,460.8h.01M295.8,465.9h.01M292.5,458.8h.01M294.8,468.0h.01M287.8,469.5h.01M295.0,467.1h.01M288.2,464.7h.01M293.4,466.9h.01M297.7,461.2h.01M292.5,467.1h.01M289.8,460.6h.01M293.9,462.9h.01M292.3,465.3h.01M292.8,464.1h.01M292.3,466.4h.01M297.2,461.4h.01M289.1,460.7h.01M294.8,467.0h.01M291.7,461.5h.01M290.2,461.1h.01M290.4,460.0h.01M293.5,464.5h.01M293.5,458.8h.01M291.4,465.8h.01M295.8,463.0h.01M283.1,460.3h.01M290.4,466.9h.01M298.0,465.6h.01M290.6,466.2h.01M290.9,469.4h.01M294.4,462.8h.01M290.0,463.5h.01M292.0,455.4h.01M296.8,466.8h.01M290.4,466.6h.01M288.0,461.5h.01M289.7,460.5h.01M287.8,463.1h.01M289.8,463.9h.01M290.6,464.3h.01M288.6,460.5h.01M283.6,466.7h.01M295.1,466.6h.01M287.1,459.9h.01M292.3,459.7h.01M298.0,460.6h.01M297.5,465.2h.01M281.5,462.1h.01M291.0,457.8h.01M288.9,458.1h.01M287.1,464.3h.01M291.1,462.9h.01M287.3,462.8h.01M286.8,465.0h.01M289.4,460.2h.01M289.1,461.8h.01M298.6,462.2h.01M289.7,457.6h.01M294.8,463.4h.01M288.5,465.6h.01M287.6,465.5h.01M286.8,458.8h.01" stroke="#2c7bb6" stroke-width="1.10" stroke-linecap="round" fill="none"/>
<path d="M317.5,389.1h.01M313.3,388.0h.01M314.3,389.8h.01M315.5,388.6h.01M307.6,390.6h.01M317.4,389.5h.01M313.4,389.6h.01M318.8,386.7h.01M313.1,387.3h.01M315.1,388.8h.01M304.5,389.9h.01M313.6,387.7h.01M300.6,393.0h.01M311.1,388.8h.01M312.1,389.3h.01M314.6,388.4h.01M315.8,388.2h.01M307.3,389.4h.01M304.1,392.7h.01M315.9,389.9h.01M317.8,388.9h.01M313.7,389.6h.01M319.8,389.8h.01M303.7,390.7h.01M319.9,390.0h.01M302.1,392.7h.01M315.5,387.6h.01M320.0,386.8h.01M305.2,390.4h.01M317.5,389.6h.01M309.7,389.3h.01M303.4,391.3h.01M312.3,390.5h.01M317.8,389.6h.01M305.3,392.3h.01M316.7,388.2h.01M317.7,389.8h.01M313.7,389.9h.01M316.6,389.9h.01M311.6,389.2h.01M309.1,390.1h.01M317.8,387.0h.01M310.5,391.4h.01M313.3,390.2h.01M303.2,391.3h.01M305.3,390.3h.01M307.5,392.1h.01M303.6,390.6h.01M319.2,386.6h.01M311.8,387.3h.01M320.5,389.0h.01M309.8,389.1h.01M301.4,392.9h.01M307.1,389.6h.01M316.6,386.8h.01M303.3,392.8h.01M312.1,388.7h.01M301.6,391.7h.01M305.7,391.5h.01M315.8,388.0h.01M306.1,389.5h.01M309.8,388.3h.01M320.9,387.7h.01M307.4,390.9h.01M303.5,391.5h.01M309.8,388.6h.01M312.4,387.5h.01M314.1,387.6h.01M307.8,390.0h.01M308.7,390.4h.01" stroke="#f26a44" stroke-width="1.10" stroke-linecap="round" fill="none"/>
<path d="M295.6,410.3h.01M295.0,410.7h.01M293.7,411.1h.01M294.9,410.9h.01M292.7,412.1h.01M292.1,411.5h.01M292.1,411.9h.01M296.5,410.3h.01" stroke="#f26a44" stroke-width="1.20" stroke-linecap="round" fill="none"/>
<path d="M338.7,438.8h.01M338.4,439.0h.01M346.4,443.8h.01M339.7,438.3h.01M338.0,447.0h.01M340.5,448.3h.01M343.4,439.5h.01M345.3,437.2h.01M349.7,440.2h.01M339.8,437.6h.01M347.6,443.3h.01M347.6,443.5h.01M355.1,438.9h.01M341.8,434.1h.01M343.5,434.8h.01M339.3,444.6h.01M349.3,433.4h.01M344.4,449.4h.01M349.8,444.1h.01M347.0,438.7h.01M336.9,447.0h.01M353.5,442.1h.01M339.0,441.8h.01M348.2,441.3h.01M351.5,435.8h.01M351.0,437.8h.01M340.3,445.6h.01M338.9,441.0h.01M338.3,446.7h.01M337.3,449.0h.01M342.0,436.9h.01M344.1,448.2h.01M344.0,438.3h.01M348.6,433.9h.01M338.2,441.6h.01M352.2,440.3h.01M340.4,441.7h.01M351.5,435.4h.01M337.4,441.0h.01M341.6,434.3h.01M338.8,447.9h.01M338.6,437.9h.01M354.6,438.6h.01M344.5,440.3h.01M335.8,447.2h.01M345.4,444.4h.01M343.1,445.7h.01M336.1,440.6h.01M352.4,432.3h.01M347.7,436.6h.01M340.3,449.3h.01M343.8,442.2h.01M352.1,437.3h.01M340.3,440.7h.01M337.4,447.5h.01M345.7,435.9h.01M348.0,436.6h.01M349.7,440.7h.01M342.2,434.6h.01M337.2,438.3h.01M343.8,438.0h.01M335.8,445.7h.01M346.5,431.8h.01M334.4,444.5h.01M343.6,438.6h.01M344.8,439.5h.01M337.3,444.1h.01M346.3,438.2h.01M348.6,433.2h.01M342.2,449.6h.01M341.8,446.0h.01M352.6,433.8h.01M354.0,434.7h.01M340.1,440.5h.01M344.3,449.7h.01M337.3,443.1h.01M338.4,443.7h.01M341.5,448.6h.01M344.6,447.3h.01M336.7,438.7h.01M336.3,441.6h.01M350.7,439.2h.01M351.6,444.1h.01M341.6,437.5h.01M337.9,448.5h.01M345.7,446.3h.01M335.1,444.3h.01M341.5,436.4h.01M354.0,433.6h.01M339.2,449.6h.01M354.1,440.9h.01M339.2,448.6h.01M335.1,441.8h.01M349.9,437.1h.01M340.8,437.1h.01M347.2,438.1h.01M335.3,441.2h.01M345.8,436.6h.01M353.1,436.3h.01M351.0,442.3h.01M336.0,445.1h.01M342.2,442.4h.01M352.8,433.9h.01M347.5,432.3h.01M345.9,446.5h.01M339.2,446.9h.01M350.1,442.7h.01M352.1,433.4h.01M353.3,436.6h.01M345.8,435.4h.01M340.0,441.6h.01M350.4,444.6h.01M350.9,443.1h.01M343.6,435.7h.01M339.9,436.2h.01M345.4,435.3h.01M348.0,444.8h.01M354.0,433.4h.01M354.1,434.7h.01M344.8,446.1h.01M336.4,448.2h.01M341.4,441.5h.01M342.6,436.3h.01M344.6,449.8h.01M345.9,448.8h.01M339.6,436.4h.01M340.4,435.3h.01M348.3,446.9h.01M337.8,445.9h.01M353.0,441.8h.01M350.0,433.3h.01M344.3,443.2h.01M342.6,445.6h.01M348.3,444.6h.01M338.3,443.7h.01M339.1,446.4h.01M350.3,440.2h.01M337.2,446.6h.01M345.7,446.8h.01M343.4,437.5h.01M351.1,437.5h.01M349.4,442.0h.01M335.6,440.7h.01M352.8,436.9h.01M339.3,449.4h.01M352.6,440.1h.01M340.0,441.7h.01M341.7,435.5h.01M345.9,437.3h.01M343.6,432.9h.01M349.6,444.2h.01M338.2,439.4h.01M341.8,437.3h.01M351.4,438.7h.01M347.0,435.2h.01M348.3,447.4h.01M347.7,438.4h.01M345.5,436.5h.01M343.6,450.0h.01M343.3,449.5h.01M335.0,443.4h.01M347.8,432.8h.01M341.1,438.8h.01M343.1,436.4h.01M347.2,438.7h.01M350.0,438.6h.01M341.0,437.2h.01M344.1,438.2h.01M345.2,448.8h.01M352.4,438.0h.01M345.6,447.6h.01M340.0,443.9h.01M337.2,438.6h.01M343.6,446.2h.01M341.1,440.0h.01M340.4,444.7h.01M338.9,449.9h.01M342.9,442.3h.01M348.8,436.1h.01M344.8,436.1h.01M342.8,447.5h.01M346.5,432.4h.01M350.7,436.2h.01M354.0,434.6h.01M349.0,436.7h.01M348.9,446.7h.01M352.3,435.0h.01M345.2,437.8h.01M343.9,449.0h.01M344.1,443.3h.01M347.3,433.8h.01M335.4,447.1h.01M343.6,443.6h.01M336.9,446.9h.01M342.7,447.1h.01M344.3,446.7h.01M348.3,443.0h.01M348.0,441.7h.01M344.2,433.9h.01M336.6,443.2h.01" stroke="#a65628" stroke-width="1.00" stroke-linecap="round" fill="none"/>
<text x="244.20" y="14.60" font-size="13" stroke="#000" stroke-width="0.1" fill="#000" font-weight="bold">C</text>
<line x1="263.50" y1="29.00" x2="263.50" y2="194.30" stroke="#231f20" stroke-width="1.1"/>
<line x1="263.00" y1="193.80" x2="412.00" y2="193.80" stroke="#231f20" stroke-width="1.1"/>
<line x1="260.50" y1="187.10" x2="263.50" y2="187.10" stroke="#231f20" stroke-width="0.9"/>
<text x="258.60" y="189.60" font-size="7.6" stroke="#231f20" stroke-width="0.17" text-anchor="end">0</text>
<line x1="260.50" y1="151.10" x2="263.50" y2="151.10" stroke="#231f20" stroke-width="0.9"/>
<text x="258.60" y="153.60" font-size="7.6" stroke="#231f20" stroke-width="0.17" text-anchor="end">50</text>
<line x1="260.50" y1="115.10" x2="263.50" y2="115.10" stroke="#231f20" stroke-width="0.9"/>
<text x="258.60" y="117.60" font-size="7.6" stroke="#231f20" stroke-width="0.17" text-anchor="end">100</text>
<line x1="260.50" y1="79.10" x2="263.50" y2="79.10" stroke="#231f20" stroke-width="0.9"/>
<text x="258.60" y="81.60" font-size="7.6" stroke="#231f20" stroke-width="0.17" text-anchor="end">150</text>
<line x1="260.50" y1="43.10" x2="263.50" y2="43.10" stroke="#231f20" stroke-width="0.9"/>
<text x="258.60" y="45.60" font-size="7.6" stroke="#231f20" stroke-width="0.17" text-anchor="end">200</text>
<line x1="289.20" y1="193.80" x2="289.20" y2="196.80" stroke="#231f20" stroke-width="0.9"/>
<text x="289.20" y="206.30" font-size="7.6" stroke="#231f20" stroke-width="0.17" text-anchor="middle">−1</text>
<line x1="315.40" y1="193.80" x2="315.40" y2="196.80" stroke="#231f20" stroke-width="0.9"/>
<text x="315.40" y="206.30" font-size="7.6" stroke="#231f20" stroke-width="0.17" text-anchor="middle">0</text>
<line x1="341.60" y1="193.80" x2="341.60" y2="196.80" stroke="#231f20" stroke-width="0.9"/>
<text x="341.60" y="206.30" font-size="7.6" stroke="#231f20" stroke-width="0.17" text-anchor="middle">1</text>
<line x1="367.80" y1="193.80" x2="367.80" y2="196.80" stroke="#231f20" stroke-width="0.9"/>
<text x="367.80" y="206.30" font-size="7.6" stroke="#231f20" stroke-width="0.17" text-anchor="middle">2</text>
<line x1="394.00" y1="193.80" x2="394.00" y2="196.80" stroke="#231f20" stroke-width="0.9"/>
<text x="394.00" y="206.30" font-size="7.6" stroke="#231f20" stroke-width="0.17" text-anchor="middle">3</text>
<text x="324.80" y="219.80" font-size="9.8" stroke="#231f20" stroke-width="0.17" textLength="7.70" lengthAdjust="spacingAndGlyphs">log</text>
<text x="332.70" y="221.80" font-size="6.5" stroke="#231f20" stroke-width="0.17" textLength="2.60" lengthAdjust="spacingAndGlyphs">2</text>
<text x="335.10" y="219.80" font-size="9.8" stroke="#231f20" stroke-width="0.17" textLength="16.70" lengthAdjust="spacingAndGlyphs">(FC)</text>
<g transform="translate(238.6,128.9) rotate(-90)">
<text x="0.00" y="0.00" font-size="10" stroke="#231f20" stroke-width="0.17" textLength="12.90" lengthAdjust="spacingAndGlyphs">−log</text>
<text x="13.70" y="1.60" font-size="6.6" stroke="#231f20" stroke-width="0.17" textLength="4.60" lengthAdjust="spacingAndGlyphs">10</text>
<text x="18.60" y="0.00" font-size="10" stroke="#231f20" stroke-width="0.17" textLength="16.50" lengthAdjust="spacingAndGlyphs">(fdr)</text>
</g>
<path d="M297.00,187.80 L296.90,172.00 L297.30,162.00 L298.30,156.00 L300.00,153.30 L303.00,153.30 L305.00,155.50 L307.20,159.50 L309.20,164.00 L309.90,172.00 L310.10,187.80Z" fill="#b4b4b8"/>
<path d="M321.00,187.80 L321.20,178.00 L322.00,168.00 L323.30,158.00 L324.80,151.50 L327.50,150.70 L329.30,153.00 L329.60,162.00 L328.90,172.00 L327.90,187.80Z" fill="#b4b4b8"/>
<path d="M292.9,138.5h.01M288.1,155.2h.01M300.3,156.0h.01M292.0,119.2h.01M288.8,118.9h.01M288.4,141.8h.01M293.5,147.5h.01M299.4,126.1h.01M290.5,126.0h.01M288.5,139.8h.01M290.8,116.8h.01M301.3,130.1h.01M302.2,155.1h.01M298.0,121.5h.01M290.2,121.3h.01M299.0,133.5h.01M292.5,110.8h.01M293.3,128.1h.01M289.0,121.5h.01M292.4,129.1h.01M295.4,136.0h.01M300.7,123.6h.01M289.4,123.9h.01M291.2,136.5h.01M295.1,124.8h.01M289.4,144.5h.01M297.4,138.7h.01M298.5,149.3h.01M288.5,118.7h.01M295.1,142.2h.01M295.6,133.2h.01M292.6,121.2h.01M301.1,155.2h.01M295.5,131.5h.01M289.9,137.7h.01M291.2,138.8h.01M292.2,131.5h.01M301.0,124.3h.01M296.0,124.7h.01M295.3,149.9h.01M295.4,154.4h.01M294.1,130.9h.01M297.7,133.1h.01M298.1,123.4h.01M288.2,129.4h.01M293.3,162.9h.01M296.0,177.1h.01M297.5,176.7h.01M295.8,166.0h.01M295.4,164.2h.01M293.5,172.1h.01M296.2,164.8h.01M296.7,172.0h.01M294.5,182.2h.01M293.1,163.6h.01M294.6,176.5h.01M294.3,186.4h.01M293.5,169.4h.01M295.3,178.8h.01M294.3,160.2h.01M296.7,180.2h.01M295.9,183.9h.01M295.0,169.4h.01M295.5,159.1h.01M297.1,157.0h.01M326.6,157.8h.01M326.4,154.9h.01M332.1,140.3h.01M330.1,136.0h.01M332.5,117.2h.01M339.0,112.0h.01M324.2,160.2h.01M323.6,143.3h.01M332.7,121.9h.01M340.9,115.9h.01M342.3,119.6h.01M329.5,126.7h.01M330.8,138.8h.01M327.9,141.2h.01M332.5,125.8h.01M327.0,128.0h.01M325.5,156.7h.01M325.2,147.9h.01M326.5,157.5h.01M336.7,114.7h.01M319.8,143.8h.01M340.8,119.2h.01M330.4,141.0h.01M332.5,124.9h.01M338.1,122.6h.01M322.3,168.0h.01M324.9,160.2h.01M321.1,155.8h.01M328.0,156.1h.01M333.3,142.5h.01M332.2,156.9h.01M328.8,140.0h.01M327.2,140.1h.01M332.6,126.2h.01M330.2,146.9h.01M331.4,130.9h.01M328.8,140.1h.01M330.0,160.2h.01M338.3,118.3h.01M328.5,136.8h.01M325.6,140.1h.01M325.4,161.7h.01M339.9,114.7h.01M323.7,143.4h.01M332.7,152.8h.01M322.6,167.1h.01M344.5,111.2h.01M327.5,140.6h.01M319.7,158.6h.01M341.6,113.8h.01M315.7,157.0h.01M328.0,134.1h.01M327.8,142.1h.01M331.7,132.5h.01M322.8,165.2h.01M329.3,160.4h.01M322.2,145.8h.01M324.8,159.0h.01M331.5,156.5h.01M340.9,116.5h.01M336.6,137.5h.01M344.0,112.5h.01M328.2,145.1h.01M331.7,140.6h.01M319.9,167.1h.01M333.5,137.8h.01M330.1,147.0h.01M340.1,105.5h.01M317.5,159.4h.01M337.4,124.7h.01M335.8,137.0h.01M324.4,157.6h.01M327.1,138.5h.01M338.3,107.3h.01M325.5,149.4h.01M330.7,174.6h.01M332.4,155.5h.01M330.4,163.3h.01M336.1,165.7h.01M331.7,169.3h.01M329.2,172.0h.01M335.2,163.7h.01M329.6,162.2h.01M337.1,178.0h.01M335.8,171.1h.01M337.8,158.1h.01M336.9,177.4h.01M336.5,157.0h.01M334.8,151.0h.01M331.1,175.1h.01" stroke="#b4b4b8" stroke-width="2.0" stroke-linecap="round" fill="none"/>
<path d="M297.9,173.8h.01M304.1,166.2h.01M306.7,176.9h.01M304.8,187.0h.01M306.2,165.1h.01M301.9,175.2h.01M306.0,161.0h.01M307.6,168.7h.01M301.1,153.9h.01M302.4,162.1h.01M301.5,160.9h.01M308.1,175.2h.01M301.5,170.5h.01M299.3,185.8h.01M308.9,173.0h.01M298.9,186.2h.01M299.8,155.2h.01M302.4,166.3h.01M297.7,168.5h.01M297.4,176.2h.01M303.3,183.5h.01M307.3,170.5h.01M302.9,187.1h.01M297.6,163.8h.01M301.0,165.8h.01M307.8,162.5h.01M298.2,187.3h.01M297.1,175.5h.01M299.6,173.3h.01M301.1,174.8h.01M305.8,179.2h.01M298.5,181.9h.01M300.1,173.8h.01M307.6,179.9h.01M303.9,170.5h.01M298.9,183.6h.01M304.8,179.9h.01M309.7,177.5h.01M300.9,169.9h.01M299.2,162.9h.01M308.2,176.4h.01M299.1,171.3h.01M302.3,181.5h.01M307.9,165.5h.01M298.0,159.8h.01M304.4,165.9h.01M297.4,179.0h.01M305.0,164.6h.01M297.3,165.5h.01M304.6,155.5h.01M297.3,174.4h.01M306.3,175.3h.01M301.1,165.5h.01M297.1,181.1h.01M303.9,159.9h.01M298.4,162.9h.01M302.0,177.4h.01M297.9,180.1h.01M300.0,158.6h.01M305.1,158.4h.01" stroke="#dedee0" stroke-width="1.20" stroke-linecap="round" fill="none" stroke-opacity="0.8"/>
<path d="M323.4,169.3h.01M325.9,167.8h.01M326.0,168.8h.01M325.5,158.2h.01M327.7,151.6h.01M324.0,166.4h.01M325.8,166.8h.01M325.9,158.2h.01M325.0,180.3h.01M327.9,160.8h.01M327.6,159.5h.01M322.5,173.5h.01M321.7,179.8h.01M321.7,186.8h.01M325.0,179.1h.01M325.2,177.0h.01M323.1,182.5h.01M322.7,165.9h.01M327.9,165.3h.01M321.5,177.4h.01M324.0,168.9h.01M322.2,185.0h.01M328.0,171.0h.01M323.6,165.0h.01M323.2,165.8h.01M325.2,178.5h.01M321.8,185.3h.01M328.7,170.6h.01M325.7,154.1h.01M321.9,177.5h.01" stroke="#dedee0" stroke-width="1.20" stroke-linecap="round" fill="none" stroke-opacity="0.8"/>
<circle cx="281.30" cy="37.60" r="1.00" fill="#7ea6cc"/>
<text x="283.80" y="39.60" font-size="5.7" stroke="#231f20" stroke-width="0.17">Up in B–lineage blasts</text>
<circle cx="281.30" cy="44.90" r="1.00" fill="#1d4f8a"/>
<text x="283.80" y="46.90" font-size="5.7" stroke="#231f20" stroke-width="0.17">Up in M–lineage blasts</text>
<circle cx="281.30" cy="52.20" r="1.00" fill="#a9a9ae"/>
<text x="283.80" y="54.20" font-size="5.7" stroke="#231f20" stroke-width="0.17">N.S</text>
<circle cx="365.90" cy="35.80" r="1.00" fill="#1d4f8a"/>
<text x="358.60" y="34.70" font-size="6.9" stroke="#1d4f8a" stroke-width="0.17" fill="#1d4f8a" textLength="12.58" lengthAdjust="spacingAndGlyphs" font-style="italic">CFD</text>
<circle cx="366.30" cy="43.80" r="1.00" fill="#1d4f8a"/>
<text x="359.70" y="50.70" font-size="6.9" stroke="#1d4f8a" stroke-width="0.17" fill="#1d4f8a" textLength="17.68" lengthAdjust="spacingAndGlyphs" font-style="italic">SRGN</text>
<circle cx="402.80" cy="37.60" r="1.00" fill="#1d4f8a"/>
<text x="398.00" y="45.60" font-size="6.9" stroke="#1d4f8a" stroke-width="0.17" fill="#1d4f8a" textLength="10.66" lengthAdjust="spacingAndGlyphs" font-style="italic">LYZ</text>
<circle cx="343.30" cy="73.00" r="1.00" fill="#1d4f8a"/>
<text x="325.70" y="70.50" font-size="6.9" stroke="#1d4f8a" stroke-width="0.17" fill="#1d4f8a" textLength="25.16" lengthAdjust="spacingAndGlyphs" font-style="italic">TYROBP</text>
<circle cx="349.50" cy="77.50" r="1.00" fill="#1d4f8a"/>
<text x="348.70" y="75.50" font-size="6.9" stroke="#1d4f8a" stroke-width="0.17" fill="#1d4f8a" textLength="15.65" lengthAdjust="spacingAndGlyphs" font-style="italic">CD63</text>
<circle cx="346.20" cy="77.80" r="1.00" fill="#1d4f8a"/>
<text x="330.50" y="80.70" font-size="6.9" stroke="#1d4f8a" stroke-width="0.17" fill="#1d4f8a" textLength="14.63" lengthAdjust="spacingAndGlyphs" font-style="italic">LST1</text>
<circle cx="363.40" cy="83.30" r="1.00" fill="#1d4f8a"/>
<text x="365.90" y="81.80" font-size="6.9" stroke="#1d4f8a" stroke-width="0.17" fill="#1d4f8a" textLength="34.03" lengthAdjust="spacingAndGlyphs" font-style="italic">AC020656.1</text>
<circle cx="345.00" cy="92.00" r="1.00" fill="#1d4f8a"/>
<text x="318.40" y="94.50" font-size="6.9" stroke="#1d4f8a" stroke-width="0.17" fill="#1d4f8a" textLength="24.49" lengthAdjust="spacingAndGlyphs" font-style="italic">RNASE2</text>
<circle cx="354.20" cy="85.10" r="1.00" fill="#1d4f8a"/>
<text x="351.70" y="92.70" font-size="6.9" stroke="#1d4f8a" stroke-width="0.17" fill="#1d4f8a" textLength="20.07" lengthAdjust="spacingAndGlyphs" font-style="italic">ANXA1</text>
<circle cx="345.50" cy="99.40" r="1.00" fill="#1d4f8a"/>
<text x="332.30" y="107.40" font-size="6.9" stroke="#1d4f8a" stroke-width="0.17" fill="#1d4f8a" textLength="15.65" lengthAdjust="spacingAndGlyphs" font-style="italic">CCL5</text>
<circle cx="358.60" cy="102.70" r="1.00" fill="#1d4f8a"/>
<text x="362.30" y="105.20" font-size="6.9" stroke="#1d4f8a" stroke-width="0.17" fill="#1d4f8a" textLength="15.64" lengthAdjust="spacingAndGlyphs" font-style="italic">AZU1</text>
<circle cx="354.20" cy="112.50" r="1.00" fill="#1d4f8a"/>
<text x="343.30" y="119.80" font-size="6.9" stroke="#1d4f8a" stroke-width="0.17" fill="#1d4f8a" textLength="26.88" lengthAdjust="spacingAndGlyphs" font-style="italic">PPP1R27</text>
<circle cx="346.50" cy="136.00" r="1.00" fill="#1d4f8a"/>
<text x="344.00" y="132.90" font-size="6.9" stroke="#1d4f8a" stroke-width="0.17" fill="#1d4f8a" textLength="16.66" lengthAdjust="spacingAndGlyphs" font-style="italic">RETN</text>
<circle cx="365.90" cy="127.90" r="1.00" fill="#1d4f8a"/>
<text x="368.80" y="130.40" font-size="6.9" stroke="#1d4f8a" stroke-width="0.17" fill="#1d4f8a" textLength="13.94" lengthAdjust="spacingAndGlyphs" font-style="italic">MPO</text>
<circle cx="344.50" cy="135.00" r="1.00" fill="#1d4f8a"/>
<text x="339.60" y="140.60" font-size="6.9" stroke="#1d4f8a" stroke-width="0.17" fill="#1d4f8a" textLength="15.30" lengthAdjust="spacingAndGlyphs" font-style="italic">FTH1</text>
<circle cx="363.40" cy="167.30" r="1.00" fill="#1d4f8a"/>
<text x="352.40" y="164.70" font-size="6.9" stroke="#1d4f8a" stroke-width="0.17" fill="#1d4f8a" textLength="21.78" lengthAdjust="spacingAndGlyphs" font-style="italic">S100A9</text>
<circle cx="274.60" cy="63.90" r="0.90" fill="#7ea6cc"/>
<text x="267.30" y="61.70" font-size="6.9" stroke="#7ea6cc" stroke-width="0.17" fill="#7ea6cc" textLength="16.35" lengthAdjust="spacingAndGlyphs" font-style="italic">IGHM</text>
<circle cx="278.20" cy="65.00" r="0.90" fill="#7ea6cc"/>
<text x="279.30" y="69.70" font-size="6.9" stroke="#7ea6cc" stroke-width="0.17" fill="#7ea6cc" textLength="20.19" lengthAdjust="spacingAndGlyphs" font-style="italic">CD79A</text>
<circle cx="286.60" cy="77.80" r="0.90" fill="#7ea6cc"/>
<text x="265.40" y="77.80" font-size="6.9" stroke="#7ea6cc" stroke-width="0.17" fill="#7ea6cc" textLength="25.40" lengthAdjust="spacingAndGlyphs" font-style="italic">ZCCHC7</text>
<circle cx="286.60" cy="84.00" r="0.90" fill="#7ea6cc"/>
<text x="290.30" y="84.70" font-size="6.9" stroke="#7ea6cc" stroke-width="0.17" fill="#7ea6cc" textLength="21.23" lengthAdjust="spacingAndGlyphs" font-style="italic">RCSD1</text>
<circle cx="269.50" cy="85.10" r="0.90" fill="#7ea6cc"/>
<text x="264.70" y="91.30" font-size="6.9" stroke="#7ea6cc" stroke-width="0.17" fill="#7ea6cc" textLength="24.72" lengthAdjust="spacingAndGlyphs" font-style="italic">VPREB1</text>
<circle cx="281.20" cy="100.80" r="0.90" fill="#7ea6cc"/>
<text x="284.00" y="103.30" font-size="6.9" stroke="#7ea6cc" stroke-width="0.17" fill="#7ea6cc" textLength="20.19" lengthAdjust="spacingAndGlyphs" font-style="italic">CD79B</text>
<circle cx="283.50" cy="112.50" r="0.90" fill="#7ea6cc"/>
<text x="265.40" y="115.00" font-size="6.9" stroke="#7ea6cc" stroke-width="0.17" fill="#7ea6cc" textLength="16.71" lengthAdjust="spacingAndGlyphs" font-style="italic">MZB1</text>
<circle cx="291.00" cy="118.00" r="0.90" fill="#7ea6cc"/>
<text x="265.40" y="122.00" font-size="6.9" stroke="#7ea6cc" stroke-width="0.17" fill="#7ea6cc" textLength="27.73" lengthAdjust="spacingAndGlyphs" font-style="italic">FAM129C</text>
<circle cx="283.00" cy="126.50" r="0.90" fill="#7ea6cc"/>
<text x="262.00" y="129.30" font-size="6.9" stroke="#7ea6cc" stroke-width="0.17" fill="#7ea6cc" textLength="19.49" lengthAdjust="spacingAndGlyphs" font-style="italic">TCL1A</text>
<circle cx="283.50" cy="133.00" r="0.90" fill="#7ea6cc"/>
<text x="262.90" y="135.10" font-size="6.9" stroke="#7ea6cc" stroke-width="0.17" fill="#7ea6cc" textLength="24.03" lengthAdjust="spacingAndGlyphs" font-style="italic">ARPP21</text>
<circle cx="289.00" cy="134.50" r="0.90" fill="#7ea6cc"/>
<text x="286.60" y="135.10" font-size="6.9" stroke="#7ea6cc" stroke-width="0.17" fill="#7ea6cc" textLength="16.71" lengthAdjust="spacingAndGlyphs" font-style="italic">SOX4</text>
<circle cx="291.00" cy="138.00" r="0.90" fill="#7ea6cc"/>
<text x="279.30" y="141.70" font-size="6.9" stroke="#7ea6cc" stroke-width="0.17" fill="#7ea6cc" textLength="16.01" lengthAdjust="spacingAndGlyphs" font-style="italic">CD44</text>
<circle cx="271.00" cy="146.00" r="0.90" fill="#7ea6cc"/>
<text x="262.00" y="147.90" font-size="6.9" stroke="#7ea6cc" stroke-width="0.17" fill="#7ea6cc" textLength="16.01" lengthAdjust="spacingAndGlyphs" font-style="italic">CD24</text>
<circle cx="287.00" cy="147.00" r="0.90" fill="#7ea6cc"/>
<text x="277.50" y="147.90" font-size="6.9" stroke="#7ea6cc" stroke-width="0.17" fill="#7ea6cc" textLength="17.05" lengthAdjust="spacingAndGlyphs" font-style="italic">CTGF</text>
<circle cx="292.00" cy="149.00" r="0.90" fill="#7ea6cc"/>
<text x="283.00" y="152.30" font-size="6.9" stroke="#7ea6cc" stroke-width="0.17" fill="#7ea6cc" textLength="20.89" lengthAdjust="spacingAndGlyphs" font-style="italic">DUSP1</text>
<circle cx="286.00" cy="153.00" r="0.90" fill="#7ea6cc"/>
<text x="264.00" y="155.60" font-size="6.9" stroke="#7ea6cc" stroke-width="0.17" fill="#7ea6cc" textLength="24.72" lengthAdjust="spacingAndGlyphs" font-style="italic">VPREB3</text>
<circle cx="284.50" cy="157.50" r="0.90" fill="#7ea6cc"/>
<text x="268.40" y="161.80" font-size="6.9" stroke="#7ea6cc" stroke-width="0.17" fill="#7ea6cc" textLength="17.06" lengthAdjust="spacingAndGlyphs" font-style="italic">IGLL1</text>
<circle cx="294.00" cy="168.00" r="0.90" fill="#7ea6cc"/>
<text x="268.40" y="170.90" font-size="6.9" stroke="#7ea6cc" stroke-width="0.17" fill="#7ea6cc" textLength="26.47" lengthAdjust="spacingAndGlyphs" font-style="italic">Z93241.1</text>
<rect x="0.5" y="0.5" width="519" height="711" fill="none" stroke="#000" stroke-width="1.3"/>
</svg></body></html>
